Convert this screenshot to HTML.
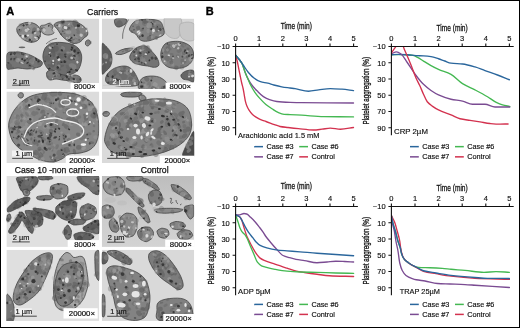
<!DOCTYPE html>
<html><head><meta charset="utf-8"><style>
html,body{margin:0;padding:0;background:#fff;}
body{width:520px;height:328px;overflow:hidden;font-family:"Liberation Sans",sans-serif;}
svg{display:block;will-change:transform;}
</style></head><body>
<svg width="520" height="328" viewBox="0 0 520 328">
<rect x="0" y="0" width="520" height="328" fill="#fff"/>
<defs><linearGradient id="g6" x1="0" y1="0" x2="0" y2="1"><stop offset="0" stop-color="#bdbdbd"/><stop offset="0.5" stop-color="#cbcbcb"/><stop offset="1" stop-color="#d3d3d3"/></linearGradient></defs>
<clipPath id="em0"><rect x="6.4" y="18.6" width="92.9" height="70.4"/></clipPath>
<g clip-path="url(#em0)">
<rect x="6.4" y="18.6" width="92.9" height="70.4" fill="#d8d8d8"/>
<ellipse cx="22" cy="47.3" rx="3.3" ry="0.9" fill="#666"/>
<path d="M46,44 C49,41 53,39 57,38.5" fill="none" stroke="#777" stroke-width="1"/>
<path d="M17.0,28.0C17.5,26.7 19.0,25.4 20.5,24.5C22.0,23.6 24.1,22.8 26.0,22.5C27.9,22.2 30.1,22.3 32.0,22.8C33.9,23.3 36.1,24.2 37.5,25.5C38.9,26.8 39.9,28.7 40.3,30.5C40.7,32.3 40.5,34.8 40.0,36.5C39.5,38.2 38.5,39.8 37.0,40.8C35.5,41.8 33.0,42.3 31.0,42.3C29.0,42.2 26.8,41.4 25.0,40.5C23.2,39.6 21.8,38.3 20.5,37.0C19.2,35.7 18.1,34.0 17.5,32.5C16.9,31.0 16.5,29.3 17.0,28.0Z" fill="#8a8a8a" stroke="#444" stroke-width="1" stroke-opacity="0.8"/>
<path fill="#aaa" opacity=".3" d="M24.4 28.0A2.5 1.2 93 1 0 24.7 23.0A2.5 1.2 93 1 0 24.4 28.0ZM29.0 26.7A1.4 1.2 158 1 0 31.6 25.7A1.4 1.2 158 1 0 29.0 26.7Z"/><path fill="#555" opacity=".3" d="M31.4 41.9A1.6 0.8 61 1 0 29.8 39.1A1.6 0.8 61 1 0 31.4 41.9ZM16.7 32.5A2.9 1.5 147 1 0 21.5 29.4A2.9 1.5 147 1 0 16.7 32.5ZM18.8 25.8A1.8 1.6 148 1 0 21.9 23.9A1.8 1.6 148 1 0 18.8 25.8ZM27.2 30.9A2.1 1.6 131 1 0 29.9 27.7A2.1 1.6 131 1 0 27.2 30.9ZM25.6 38.4A1.5 1.1 142 1 0 27.9 36.6A1.5 1.1 142 1 0 25.6 38.4Z"/><path fill="#555" opacity=".45" d="M30.2 25.1A1.6 1.2 107 1 0 31.1 21.9A1.6 1.2 107 1 0 30.2 25.1ZM40.9 30.9A2.4 1.7 33 1 0 36.9 28.2A2.4 1.7 33 1 0 40.9 30.9ZM33.6 33.3A3.0 2.2 102 1 0 34.8 27.4A3.0 2.2 102 1 0 33.6 33.3Z"/><path fill="#aaa" opacity=".45" d="M21.7 38.0A2.1 1.3 92 1 0 21.9 33.9A2.1 1.3 92 1 0 21.7 38.0ZM22.2 40.1A2.6 1.5 134 1 0 25.8 36.4A2.6 1.5 134 1 0 22.2 40.1ZM28.8 40.8A1.8 1.5 148 1 0 31.9 38.9A1.8 1.5 148 1 0 28.8 40.8ZM16.7 28.5A2.6 1.3 165 1 0 21.7 27.2A2.6 1.3 165 1 0 16.7 28.5ZM32.5 36.2A2.1 1.8 5 1 0 28.4 35.8A2.1 1.8 5 1 0 32.5 36.2Z"/><path fill="#2a2a2a" opacity=".85" d="M29.4 41.3A1.3 1.2 106 1 0 30.2 38.7A1.3 1.2 106 1 0 29.4 41.3ZM24.5 26.0A1.1 0.9 32 1 0 22.7 24.8A1.1 0.9 32 1 0 24.5 26.0ZM37.7 39.3A1.4 1.2 101 1 0 38.2 36.6A1.4 1.2 101 1 0 37.7 39.3ZM19.9 30.1A0.6 0.6 38 1 0 18.9 29.3A0.6 0.6 38 1 0 19.9 30.1ZM24.1 36.6A1.4 1.3 164 1 0 26.8 35.8A1.4 1.3 164 1 0 24.1 36.6Z"/><path fill="#2a2a2a" opacity=".6" d="M40.7 36.7A0.9 0.6 45 1 0 39.3 35.4A0.9 0.6 45 1 0 40.7 36.7ZM20.8 36.1A0.6 0.6 67 1 0 20.3 35.0A0.6 0.6 67 1 0 20.8 36.1ZM32.6 33.7A1.2 1.0 116 1 0 33.6 31.7A1.2 1.0 116 1 0 32.6 33.7ZM27.0 25.5A1.2 0.6 53 1 0 25.6 23.6A1.2 0.6 53 1 0 27.0 25.5ZM26.4 25.5A1.1 0.6 137 1 0 28.1 23.9A1.1 0.6 137 1 0 26.4 25.5ZM31.1 42.4A1.1 0.8 124 1 0 32.4 40.5A1.1 0.8 124 1 0 31.1 42.4ZM40.2 32.8A1.0 0.6 87 1 0 40.1 30.7A1.0 0.6 87 1 0 40.2 32.8ZM33.4 32.8A1.2 0.9 135 1 0 35.1 31.1A1.2 0.9 135 1 0 33.4 32.8ZM37.1 37.1A0.8 0.6 91 1 0 37.1 35.4A0.8 0.6 91 1 0 37.1 37.1Z"/><path fill="#e8e8e8" opacity=".6" d="M33.6 33.7A1.5 1.0 156 1 0 36.4 32.4A1.5 1.0 156 1 0 33.6 33.7ZM37.9 39.7A1.6 1.4 51 1 0 35.9 37.2A1.6 1.4 51 1 0 37.9 39.7ZM27.3 30.2A1.2 1.2 122 1 0 28.6 28.2A1.2 1.2 122 1 0 27.3 30.2ZM38.0 30.7A1.4 1.2 99 1 0 38.4 28.0A1.4 1.2 99 1 0 38.0 30.7ZM27.7 31.4A1.7 1.5 32 1 0 24.8 29.5A1.7 1.5 32 1 0 27.7 31.4ZM28.7 24.0A1.6 1.3 134 1 0 30.9 21.8A1.6 1.3 134 1 0 28.7 24.0Z"/><path fill="#e8e8e8" opacity=".85" d="M28.7 30.1A0.6 0.3 120 1 0 29.4 29.0A0.6 0.3 120 1 0 28.7 30.1ZM22.9 38.0A1.7 1.2 93 1 0 23.1 34.5A1.7 1.2 93 1 0 22.9 38.0ZM36.3 37.8A1.2 0.6 22 1 0 34.1 36.9A1.2 0.6 22 1 0 36.3 37.8ZM26.5 35.8A1.3 1.0 168 1 0 29.1 35.2A1.3 1.0 168 1 0 26.5 35.8Z"/>
<path d="M40.5,26.0C41.2,25.0 43.6,25.4 45.0,25.0C46.4,24.6 47.7,23.3 49.0,23.5C50.3,23.7 52.5,24.9 53.0,26.0C53.5,27.1 51.8,28.8 52.0,30.0C52.2,31.2 54.5,32.2 54.0,33.0C53.5,33.8 50.7,34.8 49.0,35.0C47.3,35.2 45.3,34.7 44.0,34.0C42.7,33.3 41.6,32.3 41.0,31.0C40.4,29.7 39.8,27.0 40.5,26.0Z" fill="#a2a2a2" stroke="#444" stroke-width="1" stroke-opacity="0.8"/>
<path fill="#555" opacity=".3" d="M52.0 28.0A3.2 1.8 64 1 0 49.2 22.2A3.2 1.8 64 1 0 52.0 28.0Z"/><path fill="#aaa" opacity=".45" d="M45.7 30.7A2.7 1.7 33 1 0 41.1 27.8A2.7 1.7 33 1 0 45.7 30.7Z"/><path fill="#aaa" opacity=".3" d="M50.6 33.1A2.8 2.1 136 1 0 54.7 29.2A2.8 2.1 136 1 0 50.6 33.1ZM44.9 31.2A2.9 2.6 38 1 0 40.2 27.6A2.9 2.6 38 1 0 44.9 31.2Z"/><path fill="#555" opacity=".45" d="M45.2 30.1A2.7 2.0 27 1 0 40.5 27.7A2.7 2.0 27 1 0 45.2 30.1Z"/><path fill="#2a2a2a" opacity=".6" d="M41.6 29.3A0.6 0.6 113 1 0 42.1 28.1A0.6 0.6 113 1 0 41.6 29.3Z"/><path fill="#2a2a2a" opacity=".85" d="M48.1 26.5A0.8 0.6 129 1 0 49.2 25.1A0.8 0.6 129 1 0 48.1 26.5Z"/><path fill="#e8e8e8" opacity=".6" d="M43.5 31.6A1.7 1.6 106 1 0 44.5 28.3A1.7 1.6 106 1 0 43.5 31.6Z"/>
<path d="M54.0,25.0C54.0,23.7 56.3,22.6 58.0,22.0C59.7,21.4 62.0,21.7 64.0,21.5C66.0,21.3 68.0,20.9 70.0,21.0C72.0,21.1 74.0,21.3 76.0,22.0C78.0,22.7 80.2,23.7 82.0,25.0C83.8,26.3 86.1,28.3 87.0,30.0C87.9,31.7 88.0,33.7 87.5,35.0C87.0,36.3 85.2,36.8 84.0,38.0C82.8,39.2 81.7,41.1 80.0,42.0C78.3,42.9 76.0,43.7 74.0,43.5C72.0,43.3 70.0,42.2 68.0,41.0C66.0,39.8 63.7,37.8 62.0,36.0C60.3,34.2 59.3,31.8 58.0,30.0C56.7,28.2 54.0,26.3 54.0,25.0Z" fill="#828282" stroke="#444" stroke-width="1" stroke-opacity="0.8"/>
<path fill="#555" opacity=".3" d="M55.1 26.8A1.3 1.1 164 1 0 57.7 26.0A1.3 1.1 164 1 0 55.1 26.8ZM75.6 27.1A3.0 2.9 101 1 0 76.7 21.3A3.0 2.9 101 1 0 75.6 27.1ZM78.7 31.5A2.2 1.4 58 1 0 76.4 27.8A2.2 1.4 58 1 0 78.7 31.5ZM71.5 29.1A2.3 2.2 11 1 0 66.9 28.2A2.3 2.2 11 1 0 71.5 29.1ZM72.5 27.5A1.4 0.8 51 1 0 70.8 25.3A1.4 0.8 51 1 0 72.5 27.5ZM86.0 37.3A2.3 1.3 69 1 0 84.4 33.0A2.3 1.3 69 1 0 86.0 37.3ZM77.8 28.4A1.7 1.0 40 1 0 75.2 26.3A1.7 1.0 40 1 0 77.8 28.4ZM77.0 33.5A1.8 1.4 131 1 0 79.3 30.8A1.8 1.4 131 1 0 77.0 33.5ZM76.1 41.4A2.6 2.1 7 1 0 71.0 40.8A2.6 2.1 7 1 0 76.1 41.4ZM84.9 31.2A2.1 1.0 125 1 0 87.3 27.8A2.1 1.0 125 1 0 84.9 31.2Z"/><path fill="#555" opacity=".45" d="M75.6 28.5A2.6 2.6 107 1 0 77.1 23.5A2.6 2.6 107 1 0 75.6 28.5ZM60.2 22.2A2.8 1.7 173 1 0 65.6 21.6A2.8 1.7 173 1 0 60.2 22.2ZM67.7 27.5A2.8 1.5 4 1 0 62.2 27.1A2.8 1.5 4 1 0 67.7 27.5ZM76.4 39.7A1.4 1.3 31 1 0 74.1 38.3A1.4 1.3 31 1 0 76.4 39.7ZM68.0 31.0A3.2 2.0 55 1 0 64.4 25.8A3.2 2.0 55 1 0 68.0 31.0ZM63.3 25.0A2.0 0.9 77 1 0 62.4 21.1A2.0 0.9 77 1 0 63.3 25.0ZM75.5 26.0A3.1 2.9 83 1 0 74.7 19.8A3.1 2.9 83 1 0 75.5 26.0Z"/><path fill="#aaa" opacity=".45" d="M59.6 30.6A2.6 1.2 112 1 0 61.5 25.7A2.6 1.2 112 1 0 59.6 30.6ZM79.9 26.8A1.5 1.4 179 1 0 82.9 26.8A1.5 1.4 179 1 0 79.9 26.8ZM65.6 32.3A2.9 1.9 176 1 0 71.3 31.9A2.9 1.9 176 1 0 65.6 32.3ZM73.7 42.4A2.1 1.0 129 1 0 76.2 39.2A2.1 1.0 129 1 0 73.7 42.4Z"/><path fill="#aaa" opacity=".3" d="M64.5 22.7A1.7 0.8 131 1 0 66.7 20.1A1.7 0.8 131 1 0 64.5 22.7ZM60.8 27.7A1.6 1.5 103 1 0 61.6 24.6A1.6 1.5 103 1 0 60.8 27.7ZM68.8 32.5A2.2 1.2 23 1 0 64.8 30.8A2.2 1.2 23 1 0 68.8 32.5ZM72.2 37.8A2.8 1.5 175 1 0 77.8 37.3A2.8 1.5 175 1 0 72.2 37.8Z"/><path fill="#2a2a2a" opacity=".6" d="M62.2 31.4A0.7 0.6 168 1 0 63.5 31.1A0.7 0.6 168 1 0 62.2 31.4ZM63.7 23.2A1.2 0.7 84 1 0 63.5 20.9A1.2 0.7 84 1 0 63.7 23.2ZM79.3 40.6A0.7 0.7 74 1 0 79.0 39.2A0.7 0.7 74 1 0 79.3 40.6ZM62.4 23.4A1.0 0.9 92 1 0 62.5 21.5A1.0 0.9 92 1 0 62.4 23.4Z"/><path fill="#2a2a2a" opacity=".85" d="M72.1 38.7A1.0 0.9 60 1 0 71.1 36.9A1.0 0.9 60 1 0 72.1 38.7ZM78.3 26.9A1.3 1.3 97 1 0 78.6 24.4A1.3 1.3 97 1 0 78.3 26.9ZM63.6 33.9A0.6 0.3 172 1 0 64.8 33.7A0.6 0.3 172 1 0 63.6 33.9ZM56.8 26.8A1.0 0.9 118 1 0 57.8 25.0A1.0 0.9 118 1 0 56.8 26.8ZM71.0 38.8A1.5 1.2 21 1 0 68.2 37.7A1.5 1.2 21 1 0 71.0 38.8ZM69.1 40.9A1.5 1.1 99 1 0 69.6 38.0A1.5 1.1 99 1 0 69.1 40.9ZM61.7 34.5A0.7 0.6 33 1 0 60.4 33.7A0.7 0.6 33 1 0 61.7 34.5ZM74.7 35.9A0.9 0.5 59 1 0 73.8 34.5A0.9 0.5 59 1 0 74.7 35.9ZM69.7 40.8A1.0 0.6 174 1 0 71.6 40.6A1.0 0.6 174 1 0 69.7 40.8ZM69.7 28.2A0.7 0.5 30 1 0 68.5 27.4A0.7 0.5 30 1 0 69.7 28.2Z"/><path fill="#e8e8e8" opacity=".6" d="M82.9 27.9A0.7 0.5 63 1 0 82.3 26.7A0.7 0.5 63 1 0 82.9 27.9ZM82.8 35.8A1.7 1.6 20 1 0 79.6 34.6A1.7 1.6 20 1 0 82.8 35.8ZM68.1 38.8A1.4 0.8 140 1 0 70.2 37.1A1.4 0.8 140 1 0 68.1 38.8ZM74.8 28.1A1.3 0.8 164 1 0 77.2 27.4A1.3 0.8 164 1 0 74.8 28.1ZM58.7 27.2A1.7 1.2 115 1 0 60.1 24.1A1.7 1.2 115 1 0 58.7 27.2ZM56.8 27.3A0.9 0.7 105 1 0 57.3 25.5A0.9 0.7 105 1 0 56.8 27.3ZM66.3 38.5A0.9 0.5 127 1 0 67.3 37.1A0.9 0.5 127 1 0 66.3 38.5Z"/><path fill="#e8e8e8" opacity=".85" d="M87.5 30.9A1.0 0.9 7 1 0 85.6 30.7A1.0 0.9 7 1 0 87.5 30.9ZM65.2 29.1A1.5 1.5 103 1 0 65.8 26.3A1.5 1.5 103 1 0 65.2 29.1ZM68.4 24.7A0.8 0.4 142 1 0 69.7 23.6A0.8 0.4 142 1 0 68.4 24.7Z"/>
<path d="M43.0,55.0C43.3,52.5 44.3,49.0 46.0,47.0C47.7,45.0 50.3,43.8 53.0,43.0C55.7,42.2 59.0,42.3 62.0,42.5C65.0,42.7 68.3,43.1 71.0,44.0C73.7,44.9 76.2,46.2 78.0,48.0C79.8,49.8 81.0,52.5 81.5,55.0C82.0,57.5 81.6,60.5 81.0,63.0C80.4,65.5 79.5,68.2 78.0,70.0C76.5,71.8 74.3,73.1 72.0,74.0C69.7,74.9 66.8,75.5 64.0,75.5C61.2,75.5 57.7,75.1 55.0,74.0C52.3,72.9 49.8,71.0 48.0,69.0C46.2,67.0 44.8,64.3 44.0,62.0C43.2,59.7 42.7,57.5 43.0,55.0Z" fill="#6e6e6e" stroke="#444" stroke-width="1" stroke-opacity="0.8"/>
<path fill="#555" opacity=".3" d="M48.7 61.4A2.5 2.3 69 1 0 47.0 56.8A2.5 2.3 69 1 0 48.7 61.4ZM79.6 56.5A2.5 1.7 32 1 0 75.4 53.9A2.5 1.7 32 1 0 79.6 56.5ZM69.7 68.9A2.1 1.6 32 1 0 66.1 66.6A2.1 1.6 32 1 0 69.7 68.9ZM67.3 73.7A2.2 1.2 105 1 0 68.4 69.6A2.2 1.2 105 1 0 67.3 73.7ZM63.2 51.6A2.7 1.5 67 1 0 61.0 46.6A2.7 1.5 67 1 0 63.2 51.6ZM70.5 54.8A3.1 2.2 124 1 0 74.0 49.7A3.1 2.2 124 1 0 70.5 54.8ZM60.9 67.0A3.1 1.6 54 1 0 57.2 61.9A3.1 1.6 54 1 0 60.9 67.0ZM73.9 71.3A3.2 2.2 20 1 0 67.9 69.1A3.2 2.2 20 1 0 73.9 71.3ZM55.8 73.4A1.6 1.0 161 1 0 58.8 72.3A1.6 1.0 161 1 0 55.8 73.4ZM51.4 46.8A2.4 1.6 67 1 0 49.6 42.4A2.4 1.6 67 1 0 51.4 46.8ZM54.9 52.6A1.7 1.0 47 1 0 52.6 50.1A1.7 1.0 47 1 0 54.9 52.6ZM51.9 50.5A3.0 2.3 101 1 0 53.0 44.6A3.0 2.3 101 1 0 51.9 50.5ZM47.7 60.9A2.8 2.6 75 1 0 46.2 55.4A2.8 2.6 75 1 0 47.7 60.9ZM51.8 46.6A2.4 2.2 95 1 0 52.2 41.8A2.4 2.2 95 1 0 51.8 46.6ZM69.4 66.3A1.9 0.9 11 1 0 65.7 65.6A1.9 0.9 11 1 0 69.4 66.3ZM51.1 53.3A2.4 1.9 83 1 0 50.6 48.5A2.4 1.9 83 1 0 51.1 53.3ZM58.9 56.6A2.8 2.3 167 1 0 64.3 55.3A2.8 2.3 167 1 0 58.9 56.6ZM54.7 63.1A1.9 1.3 100 1 0 55.4 59.3A1.9 1.3 100 1 0 54.7 63.1Z"/><path fill="#555" opacity=".45" d="M76.5 60.3A2.4 1.1 114 1 0 78.5 55.9A2.4 1.1 114 1 0 76.5 60.3ZM73.1 47.4A1.8 1.7 66 1 0 71.7 44.1A1.8 1.7 66 1 0 73.1 47.4ZM51.8 63.5A1.2 0.8 80 1 0 51.4 61.1A1.2 0.8 80 1 0 51.8 63.5ZM52.0 67.4A3.1 1.8 107 1 0 53.8 61.6A3.1 1.8 107 1 0 52.0 67.4ZM52.7 49.2A3.1 2.6 170 1 0 58.7 48.1A3.1 2.6 170 1 0 52.7 49.2ZM53.7 57.2A3.1 1.6 91 1 0 53.8 51.0A3.1 1.6 91 1 0 53.7 57.2ZM61.4 70.0A2.7 1.3 16 1 0 56.2 68.5A2.7 1.3 16 1 0 61.4 70.0ZM72.9 59.4A2.8 2.4 33 1 0 68.2 56.4A2.8 2.4 33 1 0 72.9 59.4ZM60.2 66.7A2.1 1.2 158 1 0 64.1 65.1A2.1 1.2 158 1 0 60.2 66.7ZM77.9 52.5A2.3 2.0 75 1 0 76.7 48.1A2.3 2.0 75 1 0 77.9 52.5ZM54.9 51.0A2.3 1.8 9 1 0 50.5 50.3A2.3 1.8 9 1 0 54.9 51.0ZM56.9 56.3A2.4 1.2 140 1 0 60.6 53.2A2.4 1.2 140 1 0 56.9 56.3ZM51.3 65.9A2.0 1.2 13 1 0 47.3 65.0A2.0 1.2 13 1 0 51.3 65.9Z"/><path fill="#aaa" opacity=".3" d="M51.1 46.1A1.5 1.1 179 1 0 54.1 46.1A1.5 1.1 179 1 0 51.1 46.1ZM57.7 56.5A1.2 0.7 52 1 0 56.2 54.6A1.2 0.7 52 1 0 57.7 56.5ZM74.8 65.6A3.0 1.9 6 1 0 68.7 64.9A3.0 1.9 6 1 0 74.8 65.6ZM74.2 69.7A2.8 2.5 83 1 0 73.6 64.0A2.8 2.5 83 1 0 74.2 69.7ZM75.7 60.4A2.8 2.2 100 1 0 76.6 55.0A2.8 2.2 100 1 0 75.7 60.4ZM64.9 49.5A2.4 2.1 27 1 0 60.6 47.3A2.4 2.1 27 1 0 64.9 49.5Z"/><path fill="#aaa" opacity=".45" d="M66.4 52.6A1.5 0.9 178 1 0 69.3 52.5A1.5 0.9 178 1 0 66.4 52.6ZM71.3 53.1A1.2 0.9 20 1 0 69.0 52.2A1.2 0.9 20 1 0 71.3 53.1ZM60.4 66.7A1.6 1.1 28 1 0 57.6 65.2A1.6 1.1 28 1 0 60.4 66.7ZM74.4 54.8A2.8 1.4 50 1 0 70.8 50.5A2.8 1.4 50 1 0 74.4 54.8ZM73.0 51.5A1.3 0.6 41 1 0 71.0 49.8A1.3 0.6 41 1 0 73.0 51.5Z"/><path fill="#2a2a2a" opacity=".85" d="M71.6 49.5A0.6 0.6 29 1 0 70.5 48.9A0.6 0.6 29 1 0 71.6 49.5ZM67.2 73.1A0.7 0.6 129 1 0 68.1 72.0A0.7 0.6 129 1 0 67.2 73.1ZM58.9 68.1A1.3 1.2 32 1 0 56.7 66.7A1.3 1.2 32 1 0 58.9 68.1ZM68.4 72.4A1.2 1.1 157 1 0 70.6 71.4A1.2 1.1 157 1 0 68.4 72.4ZM75.1 70.4A0.8 0.5 132 1 0 76.1 69.3A0.8 0.5 132 1 0 75.1 70.4ZM78.1 70.9A1.2 1.0 30 1 0 76.0 69.7A1.2 1.0 30 1 0 78.1 70.9ZM58.3 58.9A1.4 1.2 78 1 0 57.7 56.2A1.4 1.2 78 1 0 58.3 58.9ZM66.3 57.4A1.2 0.9 45 1 0 64.6 55.7A1.2 0.9 45 1 0 66.3 57.4ZM62.8 51.2A1.3 1.1 45 1 0 60.9 49.4A1.3 1.1 45 1 0 62.8 51.2ZM74.8 56.0A0.7 0.4 23 1 0 73.6 55.5A0.7 0.4 23 1 0 74.8 56.0ZM77.3 53.1A1.2 0.7 167 1 0 79.7 52.6A1.2 0.7 167 1 0 77.3 53.1ZM71.4 70.1A0.8 0.8 73 1 0 71.0 68.7A0.8 0.8 73 1 0 71.4 70.1ZM48.0 69.1A1.4 0.8 156 1 0 50.7 67.9A1.4 0.8 156 1 0 48.0 69.1ZM73.3 48.6A1.4 0.9 36 1 0 71.0 46.9A1.4 0.9 36 1 0 73.3 48.6ZM62.6 62.2A1.2 0.7 9 1 0 60.3 61.9A1.2 0.7 9 1 0 62.6 62.2ZM50.5 57.0A1.2 0.7 96 1 0 50.8 54.6A1.2 0.7 96 1 0 50.5 57.0ZM49.2 69.0A0.7 0.5 115 1 0 49.8 67.8A0.7 0.5 115 1 0 49.2 69.0ZM64.3 63.0A1.4 0.8 95 1 0 64.5 60.3A1.4 0.8 95 1 0 64.3 63.0ZM75.7 50.9A1.2 1.2 0 1 0 73.4 50.9A1.2 1.2 0 1 0 75.7 50.9ZM71.2 50.5A0.9 0.7 131 1 0 72.3 49.2A0.9 0.7 131 1 0 71.2 50.5ZM66.1 62.4A0.8 0.6 40 1 0 64.9 61.4A0.8 0.6 40 1 0 66.1 62.4ZM52.2 48.1A0.7 0.6 102 1 0 52.5 46.8A0.7 0.6 102 1 0 52.2 48.1Z"/><path fill="#2a2a2a" opacity=".6" d="M75.8 56.7A1.4 1.0 33 1 0 73.4 55.1A1.4 1.0 33 1 0 75.8 56.7ZM50.3 54.3A0.7 0.4 27 1 0 48.9 53.6A0.7 0.4 27 1 0 50.3 54.3ZM77.1 53.3A1.1 0.9 158 1 0 79.2 52.4A1.1 0.9 158 1 0 77.1 53.3ZM49.7 54.5A0.7 0.7 10 1 0 48.3 54.2A0.7 0.7 10 1 0 49.7 54.5ZM75.0 59.6A1.2 0.6 21 1 0 72.8 58.7A1.2 0.6 21 1 0 75.0 59.6ZM64.0 54.9A1.3 0.9 157 1 0 66.4 53.9A1.3 0.9 157 1 0 64.0 54.9ZM58.1 44.2A1.0 0.8 5 1 0 56.0 44.0A1.0 0.8 5 1 0 58.1 44.2ZM44.9 62.1A0.9 0.7 105 1 0 45.3 60.4A0.9 0.7 105 1 0 44.9 62.1Z"/><path fill="#e8e8e8" opacity=".85" d="M78.0 63.3A1.3 1.0 63 1 0 76.8 61.0A1.3 1.0 63 1 0 78.0 63.3ZM57.7 60.2A1.4 1.1 156 1 0 60.2 59.0A1.4 1.1 156 1 0 57.7 60.2ZM49.0 53.4A1.0 0.5 137 1 0 50.4 52.1A1.0 0.5 137 1 0 49.0 53.4ZM53.8 63.9A0.7 0.7 13 1 0 52.3 63.6A0.7 0.7 13 1 0 53.8 63.9ZM53.5 61.9A1.1 1.0 75 1 0 52.9 59.7A1.1 1.0 75 1 0 53.5 61.9Z"/><path fill="#e8e8e8" opacity=".6" d="M51.5 48.7A1.7 0.9 36 1 0 48.8 46.8A1.7 0.9 36 1 0 51.5 48.7ZM73.0 58.5A1.5 1.0 26 1 0 70.4 57.2A1.5 1.0 26 1 0 73.0 58.5ZM68.3 74.9A0.9 0.8 43 1 0 67.1 73.8A0.9 0.8 43 1 0 68.3 74.9Z"/>
<path d="M47.0,72.0C47.8,70.8 49.8,69.7 52.0,70.0C54.2,70.3 57.3,73.0 60.0,74.0C62.7,75.0 65.5,75.8 68.0,76.0C70.5,76.2 73.0,74.8 75.0,75.0C77.0,75.2 79.0,76.0 80.0,77.0C81.0,78.0 81.5,80.0 81.0,81.0C80.5,82.0 78.8,83.0 77.0,83.0C75.2,83.0 72.5,81.5 70.0,81.0C67.5,80.5 64.3,80.3 62.0,80.0C59.7,79.7 58.0,79.0 56.0,79.0C54.0,79.0 51.5,80.3 50.0,80.0C48.5,79.7 47.5,78.3 47.0,77.0C46.5,75.7 46.2,73.2 47.0,72.0Z" fill="#7a7a7a" stroke="#444" stroke-width="1" stroke-opacity="0.8"/>
<path fill="#aaa" opacity=".45" d="M57.6 75.1A2.7 2.6 49 1 0 54.1 71.0A2.7 2.6 49 1 0 57.6 75.1ZM71.9 82.8A2.1 1.8 54 1 0 69.5 79.5A2.1 1.8 54 1 0 71.9 82.8ZM77.5 82.0A3.0 1.5 27 1 0 72.1 79.3A3.0 1.5 27 1 0 77.5 82.0Z"/><path fill="#555" opacity=".45" d="M66.7 80.8A2.5 2.5 135 1 0 70.2 77.2A2.5 2.5 135 1 0 66.7 80.8ZM72.2 80.3A2.6 2.2 51 1 0 68.9 76.2A2.6 2.2 51 1 0 72.2 80.3ZM61.9 78.5A2.8 1.5 131 1 0 65.5 74.3A2.8 1.5 131 1 0 61.9 78.5Z"/><path fill="#555" opacity=".3" d="M62.4 78.7A2.3 1.3 28 1 0 58.3 76.5A2.3 1.3 28 1 0 62.4 78.7ZM57.8 76.7A1.2 0.7 94 1 0 57.9 74.3A1.2 0.7 94 1 0 57.8 76.7ZM77.3 82.3A2.4 1.7 105 1 0 78.6 77.7A2.4 1.7 105 1 0 77.3 82.3ZM49.3 77.3A1.4 1.0 23 1 0 46.8 76.2A1.4 1.0 23 1 0 49.3 77.3ZM61.9 78.6A1.8 1.5 89 1 0 61.8 75.0A1.8 1.5 89 1 0 61.9 78.6ZM55.2 74.9A2.6 1.9 125 1 0 58.1 70.7A2.6 1.9 125 1 0 55.2 74.9Z"/><path fill="#aaa" opacity=".3" d="M54.2 73.1A1.3 1.2 161 1 0 56.6 72.2A1.3 1.2 161 1 0 54.2 73.1ZM68.9 77.6A1.5 1.3 75 1 0 68.1 74.8A1.5 1.3 75 1 0 68.9 77.6Z"/><path fill="#2a2a2a" opacity=".85" d="M75.0 79.6A1.3 1.1 24 1 0 72.6 78.5A1.3 1.1 24 1 0 75.0 79.6ZM52.7 73.9A1.4 1.1 161 1 0 55.3 73.0A1.4 1.1 161 1 0 52.7 73.9ZM67.8 77.7A1.4 1.0 43 1 0 65.8 75.8A1.4 1.0 43 1 0 67.8 77.7ZM62.4 79.7A0.8 0.5 118 1 0 63.1 78.2A0.8 0.5 118 1 0 62.4 79.7Z"/><path fill="#2a2a2a" opacity=".6" d="M60.5 76.5A1.4 0.8 95 1 0 60.8 73.7A1.4 0.8 95 1 0 60.5 76.5ZM55.0 77.1A1.1 0.9 89 1 0 54.9 74.9A1.1 0.9 89 1 0 55.0 77.1ZM69.7 79.7A1.1 0.7 39 1 0 68.0 78.4A1.1 0.7 39 1 0 69.7 79.7ZM80.3 80.5A1.1 0.8 83 1 0 80.0 78.3A1.1 0.8 83 1 0 80.3 80.5Z"/><path fill="#e8e8e8" opacity=".6" d="M52.8 79.4A0.8 0.4 77 1 0 52.4 77.7A0.8 0.4 77 1 0 52.8 79.4ZM72.2 76.4A0.8 0.7 71 1 0 71.7 74.9A0.8 0.7 71 1 0 72.2 76.4Z"/><path fill="#e8e8e8" opacity=".85" d="M53.4 75.1A0.6 0.4 177 1 0 54.7 75.0A0.6 0.4 177 1 0 53.4 75.1Z"/>
<path d="M7.0,54.0C8.2,51.3 11.5,52.2 14.0,52.0C16.5,51.8 19.3,52.0 22.0,52.5C24.7,53.0 27.7,54.1 30.0,55.0C32.3,55.9 34.0,56.8 36.0,58.0C38.0,59.2 41.2,60.7 42.0,62.0C42.8,63.3 42.2,65.0 41.0,66.0C39.8,67.0 37.3,67.5 35.0,68.0C32.7,68.5 29.8,69.0 27.0,69.0C24.2,69.0 20.7,68.0 18.0,68.0C15.3,68.0 12.8,69.0 11.0,69.0C9.2,69.0 7.7,70.5 7.0,68.0C6.3,65.5 5.8,56.7 7.0,54.0Z" fill="#747474" stroke="#444" stroke-width="1" stroke-opacity="0.8"/>
<path fill="#555" opacity=".3" d="M16.8 54.0A1.7 1.5 110 1 0 18.0 50.8A1.7 1.5 110 1 0 16.8 54.0ZM18.9 54.6A1.7 1.2 107 1 0 20.0 51.3A1.7 1.2 107 1 0 18.9 54.6ZM39.6 65.2A2.5 2.0 77 1 0 38.5 60.2A2.5 2.0 77 1 0 39.6 65.2ZM28.0 60.8A2.8 2.5 167 1 0 33.5 59.6A2.8 2.5 167 1 0 28.0 60.8Z"/><path fill="#aaa" opacity=".3" d="M29.1 62.3A2.5 2.3 173 1 0 34.0 61.7A2.5 2.3 173 1 0 29.1 62.3ZM12.7 56.1A2.1 1.2 107 1 0 14.0 52.1A2.1 1.2 107 1 0 12.7 56.1ZM23.0 62.4A3.1 1.5 41 1 0 18.2 58.3A3.1 1.5 41 1 0 23.0 62.4ZM30.0 61.0A3.2 1.8 157 1 0 35.9 58.5A3.2 1.8 157 1 0 30.0 61.0Z"/><path fill="#555" opacity=".45" d="M14.3 61.2A2.6 1.4 116 1 0 16.6 56.4A2.6 1.4 116 1 0 14.3 61.2ZM9.9 66.7A2.2 1.8 2 1 0 5.5 66.5A2.2 1.8 2 1 0 9.9 66.7ZM13.9 61.3A1.2 1.1 105 1 0 14.5 58.9A1.2 1.1 105 1 0 13.9 61.3ZM34.3 69.8A2.3 1.3 54 1 0 31.6 66.2A2.3 1.3 54 1 0 34.3 69.8ZM11.5 68.2A1.3 1.2 164 1 0 14.0 67.4A1.3 1.2 164 1 0 11.5 68.2ZM29.5 67.4A2.1 1.9 96 1 0 30.0 63.1A2.1 1.9 96 1 0 29.5 67.4ZM6.1 67.0A3.0 2.7 162 1 0 11.9 65.1A3.0 2.7 162 1 0 6.1 67.0ZM25.9 63.9A1.6 0.8 155 1 0 28.9 62.5A1.6 0.8 155 1 0 25.9 63.9Z"/><path fill="#aaa" opacity=".45" d="M30.9 69.2A1.6 1.0 138 1 0 33.3 67.1A1.6 1.0 138 1 0 30.9 69.2ZM25.2 58.6A3.1 2.0 119 1 0 28.2 53.1A3.1 2.0 119 1 0 25.2 58.6ZM19.2 61.4A2.1 1.6 39 1 0 16.0 58.9A2.1 1.6 39 1 0 19.2 61.4Z"/><path fill="#2a2a2a" opacity=".85" d="M11.2 54.9A0.8 0.7 39 1 0 9.9 53.9A0.8 0.7 39 1 0 11.2 54.9ZM37.4 61.4A1.2 0.8 177 1 0 39.7 61.3A1.2 0.8 177 1 0 37.4 61.4ZM36.3 61.1A1.1 0.9 95 1 0 36.5 58.9A1.1 0.9 95 1 0 36.3 61.1ZM20.2 63.2A0.6 0.3 24 1 0 19.0 62.7A0.6 0.3 24 1 0 20.2 63.2ZM23.5 60.7A1.4 0.7 160 1 0 26.2 59.8A1.4 0.7 160 1 0 23.5 60.7ZM22.2 60.3A1.1 1.0 90 1 0 22.2 58.1A1.1 1.0 90 1 0 22.2 60.3ZM36.6 59.7A1.1 0.7 52 1 0 35.3 58.0A1.1 0.7 52 1 0 36.6 59.7ZM30.7 65.9A0.9 0.6 32 1 0 29.1 65.0A0.9 0.6 32 1 0 30.7 65.9ZM26.5 63.6A1.3 0.7 139 1 0 28.5 61.9A1.3 0.7 139 1 0 26.5 63.6ZM26.5 59.1A0.7 0.4 155 1 0 27.7 58.5A0.7 0.4 155 1 0 26.5 59.1Z"/><path fill="#2a2a2a" opacity=".6" d="M13.2 59.0A1.1 0.9 171 1 0 15.4 58.7A1.1 0.9 171 1 0 13.2 59.0ZM13.4 54.2A1.4 1.1 142 1 0 15.5 52.5A1.4 1.1 142 1 0 13.4 54.2ZM10.4 60.3A1.3 1.0 123 1 0 11.9 58.0A1.3 1.0 123 1 0 10.4 60.3ZM24.1 55.1A1.0 0.8 41 1 0 22.6 53.8A1.0 0.8 41 1 0 24.1 55.1ZM11.8 54.7A1.2 0.8 72 1 0 11.1 52.5A1.2 0.8 72 1 0 11.8 54.7ZM25.1 62.0A0.9 0.5 54 1 0 24.0 60.5A0.9 0.5 54 1 0 25.1 62.0ZM9.5 63.0A1.2 0.7 9 1 0 7.2 62.6A1.2 0.7 9 1 0 9.5 63.0ZM22.0 55.1A1.4 0.7 79 1 0 21.5 52.3A1.4 0.7 79 1 0 22.0 55.1Z"/><path fill="#e8e8e8" opacity=".85" d="M27.6 56.5A1.0 0.7 5 1 0 25.7 56.3A1.0 0.7 5 1 0 27.6 56.5Z"/><path fill="#e8e8e8" opacity=".6" d="M23.6 63.8A1.7 0.8 30 1 0 20.6 62.0A1.7 0.8 30 1 0 23.6 63.8Z"/>
<path d="M86.0,41.0C86.6,40.2 88.2,39.7 89.0,40.0C89.8,40.3 90.7,42.0 90.5,43.0C90.3,44.0 88.8,45.8 88.0,46.0C87.2,46.2 85.8,45.3 85.5,44.5C85.2,43.7 85.4,41.8 86.0,41.0Z" fill="#8a8a8a" stroke="#444" stroke-width="1" stroke-opacity="0.8"/>
<path fill="#555" opacity=".3" d="M86.8 42.8A2.6 1.7 174 1 0 91.9 42.3A2.6 1.7 174 1 0 86.8 42.8Z"/>
</g>
<clipPath id="em1"><rect x="101.8" y="18.6" width="92.4" height="70.4"/></clipPath>
<g clip-path="url(#em1)">
<rect x="101.8" y="18.6" width="92.4" height="70.4" fill="#d8d8d8"/>
<path d="M164,18.6 L181,18.6 C183,25 182,33 178,38 C172,40 166,36 164,30Z" fill="#c8c8c8" stroke="#b0b0b0" stroke-width="0.8"/>
<path d="M180,24 C186,21 192,22 194.2,24 L194.2,40 C190,42 184,41 181,37 C179,33 179,28 180,24Z" fill="#c8c8c8" stroke="#b0b0b0" stroke-width="0.8"/>
<path d="M128.5,19.5 C125,25 122,31 122.6,38.75" fill="none" stroke="#7a7a7a" stroke-width="1.1"/>
<path d="M115.4,19.0C117.2,18.0 124.4,18.2 126.0,19.0C127.6,19.8 126.2,22.7 125.0,24.0C123.8,25.3 120.6,26.8 119.0,27.0C117.4,27.2 116.0,26.3 115.4,25.0C114.8,23.7 113.6,20.0 115.4,19.0Z" fill="#777777" stroke="#444" stroke-width="1" stroke-opacity="0.8"/>
<path fill="#555" opacity=".45" d="M117.1 25.7A3.1 3.0 140 1 0 121.9 21.8A3.1 3.0 140 1 0 117.1 25.7ZM118.1 24.2A1.6 0.9 1 1 0 114.9 24.1A1.6 0.9 1 1 0 118.1 24.2Z"/>
<path d="M129.7,28.0C130.5,26.2 132.6,22.4 135.6,21.0C138.6,19.6 143.5,19.3 147.5,19.3C151.5,19.3 156.8,19.7 159.4,21.0C162.0,22.3 162.2,24.7 163.0,26.9C163.8,29.1 164.8,32.2 164.0,34.0C163.2,35.8 160.9,36.4 158.2,37.6C155.4,38.8 150.5,40.7 147.5,41.1C144.5,41.5 142.4,41.2 140.4,40.0C138.4,38.8 137.2,35.4 135.6,34.0C134.0,32.6 131.9,32.6 130.9,31.6C129.9,30.6 128.9,29.8 129.7,28.0Z" fill="#828282" stroke="#444" stroke-width="1" stroke-opacity="0.8"/>
<path fill="#aaa" opacity=".3" d="M136.3 23.9A2.1 1.3 115 1 0 138.1 20.0A2.1 1.3 115 1 0 136.3 23.9ZM156.1 23.9A1.3 1.1 21 1 0 153.6 22.9A1.3 1.1 21 1 0 156.1 23.9ZM151.3 38.2A1.4 0.8 124 1 0 152.8 36.0A1.4 0.8 124 1 0 151.3 38.2ZM148.4 33.2A2.2 1.4 79 1 0 147.6 28.9A2.2 1.4 79 1 0 148.4 33.2ZM149.5 27.1A2.9 1.8 48 1 0 145.7 22.8A2.9 1.8 48 1 0 149.5 27.1Z"/><path fill="#555" opacity=".3" d="M141.9 31.8A2.2 1.8 8 1 0 137.6 31.1A2.2 1.8 8 1 0 141.9 31.8ZM153.1 28.1A3.1 2.6 37 1 0 148.1 24.3A3.1 2.6 37 1 0 153.1 28.1ZM150.2 36.2A2.1 1.2 98 1 0 150.8 32.0A2.1 1.2 98 1 0 150.2 36.2ZM150.3 27.5A2.8 1.9 65 1 0 148.0 22.5A2.8 1.9 65 1 0 150.3 27.5ZM161.8 27.1A3.2 2.1 8 1 0 155.5 26.2A3.2 2.1 8 1 0 161.8 27.1ZM148.2 23.3A3.1 3.1 9 1 0 142.0 22.3A3.1 3.1 9 1 0 148.2 23.3Z"/><path fill="#555" opacity=".45" d="M158.0 32.3A2.8 1.9 74 1 0 156.4 27.0A2.8 1.9 74 1 0 158.0 32.3ZM138.7 29.6A2.0 1.7 72 1 0 137.5 25.9A2.0 1.7 72 1 0 138.7 29.6ZM154.7 27.3A1.7 0.9 36 1 0 151.9 25.3A1.7 0.9 36 1 0 154.7 27.3ZM143.1 22.7A2.8 2.5 148 1 0 147.9 19.7A2.8 2.5 148 1 0 143.1 22.7ZM157.9 38.7A1.7 1.6 27 1 0 154.9 37.2A1.7 1.6 27 1 0 157.9 38.7ZM142.9 30.7A1.4 0.9 71 1 0 142.0 28.1A1.4 0.9 71 1 0 142.9 30.7ZM150.7 39.3A2.1 2.1 30 1 0 147.0 37.2A2.1 2.1 30 1 0 150.7 39.3ZM155.2 22.6A1.8 1.1 46 1 0 152.7 19.9A1.8 1.1 46 1 0 155.2 22.6ZM133.0 31.7A1.3 1.2 14 1 0 130.5 31.0A1.3 1.2 14 1 0 133.0 31.7Z"/><path fill="#aaa" opacity=".45" d="M137.0 33.9A2.5 2.2 155 1 0 141.6 31.8A2.5 2.2 155 1 0 137.0 33.9ZM149.4 28.2A2.9 2.6 88 1 0 149.2 22.4A2.9 2.6 88 1 0 149.4 28.2ZM136.4 24.0A2.8 1.7 103 1 0 137.6 18.6A2.8 1.7 103 1 0 136.4 24.0ZM146.4 20.4A1.3 1.3 150 1 0 148.6 19.1A1.3 1.3 150 1 0 146.4 20.4Z"/><path fill="#2a2a2a" opacity=".85" d="M132.6 26.5A0.6 0.4 150 1 0 133.7 25.9A0.6 0.4 150 1 0 132.6 26.5ZM149.9 36.5A0.7 0.5 99 1 0 150.1 35.1A0.7 0.5 99 1 0 149.9 36.5ZM143.8 35.7A1.3 1.3 5 1 0 141.2 35.5A1.3 1.3 5 1 0 143.8 35.7ZM152.0 29.6A0.9 0.8 29 1 0 150.5 28.7A0.9 0.8 29 1 0 152.0 29.6ZM150.6 22.9A0.8 0.4 141 1 0 151.9 21.9A0.8 0.4 141 1 0 150.6 22.9ZM139.4 37.5A0.8 0.5 123 1 0 140.3 36.1A0.8 0.5 123 1 0 139.4 37.5ZM153.3 24.7A1.0 0.7 51 1 0 152.0 23.1A1.0 0.7 51 1 0 153.3 24.7ZM143.7 28.8A0.7 0.7 36 1 0 142.5 27.9A0.7 0.7 36 1 0 143.7 28.8ZM157.9 27.3A0.7 0.4 47 1 0 156.9 26.2A0.7 0.4 47 1 0 157.9 27.3Z"/><path fill="#2a2a2a" opacity=".6" d="M133.2 29.9A0.8 0.5 173 1 0 134.7 29.7A0.8 0.5 173 1 0 133.2 29.9ZM161.1 30.7A1.4 1.3 56 1 0 159.5 28.3A1.4 1.3 56 1 0 161.1 30.7ZM160.8 29.3A0.7 0.5 39 1 0 159.6 28.4A0.7 0.5 39 1 0 160.8 29.3ZM163.8 29.1A0.8 0.5 24 1 0 162.2 28.4A0.8 0.5 24 1 0 163.8 29.1ZM142.8 20.7A1.0 0.6 35 1 0 141.3 19.6A1.0 0.6 35 1 0 142.8 20.7Z"/><path fill="#e8e8e8" opacity=".6" d="M159.4 31.0A0.9 0.5 22 1 0 157.8 30.3A0.9 0.5 22 1 0 159.4 31.0ZM158.8 35.8A1.5 0.8 156 1 0 161.6 34.6A1.5 0.8 156 1 0 158.8 35.8ZM153.5 33.2A0.8 0.5 16 1 0 151.9 32.8A0.8 0.5 16 1 0 153.5 33.2Z"/><path fill="#e8e8e8" opacity=".85" d="M153.6 32.2A1.6 1.5 85 1 0 153.3 29.0A1.6 1.5 85 1 0 153.6 32.2ZM138.4 34.7A1.7 0.9 122 1 0 140.3 31.8A1.7 0.9 122 1 0 138.4 34.7ZM136.7 32.5A1.8 0.8 147 1 0 139.7 30.6A1.8 0.8 147 1 0 136.7 32.5Z"/>
<path d="M101.8,45.0C102.5,40.7 104.5,45.3 106.0,46.5C107.5,47.7 109.5,49.9 110.5,52.0C111.5,54.1 112.0,56.7 112.0,59.0C112.0,61.3 111.5,64.0 110.5,66.0C109.5,68.0 107.5,69.9 106.0,71.0C104.5,72.1 102.5,76.8 101.8,72.5C101.1,68.2 101.1,49.3 101.8,45.0Z" fill="#5e5e5e" stroke="#444" stroke-width="1" stroke-opacity="0.8"/>
<path fill="#aaa" opacity=".3" d="M107.4 59.5A2.2 1.2 82 1 0 106.8 55.0A2.2 1.2 82 1 0 107.4 59.5Z"/><path fill="#555" opacity=".3" d="M107.4 48.2A2.7 1.9 5 1 0 102.1 47.7A2.7 1.9 5 1 0 107.4 48.2ZM104.9 59.0A1.9 1.0 69 1 0 103.5 55.4A1.9 1.0 69 1 0 104.9 59.0ZM102.6 60.7A2.2 1.3 103 1 0 103.6 56.4A2.2 1.3 103 1 0 102.6 60.7ZM102.9 70.7A3.1 2.0 101 1 0 104.1 64.7A3.1 2.0 101 1 0 102.9 70.7Z"/><path fill="#555" opacity=".45" d="M102.4 48.9A2.4 1.3 142 1 0 106.2 45.9A2.4 1.3 142 1 0 102.4 48.9Z"/><path fill="#aaa" opacity=".45" d="M101.7 65.4A1.6 0.7 133 1 0 103.9 63.1A1.6 0.7 133 1 0 101.7 65.4ZM110.5 61.5A1.7 1.0 101 1 0 111.1 58.3A1.7 1.0 101 1 0 110.5 61.5ZM104.9 58.8A2.9 2.4 102 1 0 106.1 53.2A2.9 2.4 102 1 0 104.9 58.8Z"/><path fill="#e8e8e8" opacity=".6" d="M106.2 63.4A1.0 0.8 83 1 0 106.0 61.4A1.0 0.8 83 1 0 106.2 63.4Z"/>
<path d="M115.4,53.5C115.4,52.8 118.9,50.9 121.0,50.0C123.1,49.1 126.0,48.5 128.0,48.3C130.0,48.0 132.8,48.0 133.0,48.5C133.2,49.0 131.0,50.5 129.0,51.5C127.0,52.5 123.3,54.2 121.0,54.5C118.7,54.8 115.4,54.2 115.4,53.5Z" fill="#888888" stroke="#444" stroke-width="1" stroke-opacity="0.8"/>
<path fill="#555" opacity=".45" d="M121.8 51.8A1.2 0.7 162 1 0 124.2 51.0A1.2 0.7 162 1 0 121.8 51.8ZM128.3 50.9A2.2 1.5 28 1 0 124.4 48.8A2.2 1.5 28 1 0 128.3 50.9Z"/><path fill="#aaa" opacity=".45" d="M129.8 49.6A2.9 2.3 160 1 0 135.3 47.5A2.9 2.3 160 1 0 129.8 49.6Z"/>
<path d="M129.7,56.6C130.1,54.2 133.0,50.1 135.6,48.3C138.2,46.5 142.5,45.5 145.1,45.9C147.7,46.3 149.0,48.6 151.0,50.6C153.0,52.6 155.7,55.4 157.0,57.8C158.3,60.1 159.3,63.3 158.9,64.9C158.5,66.5 156.5,67.1 154.6,67.3C152.7,67.5 149.9,66.4 147.5,66.0C145.1,65.6 142.8,65.5 140.4,64.9C138.0,64.3 135.0,63.9 133.2,62.5C131.5,61.1 129.3,59.0 129.7,56.6Z" fill="#747474" stroke="#444" stroke-width="1" stroke-opacity="0.8"/>
<path fill="#aaa" opacity=".45" d="M140.0 60.3A1.4 1.1 21 1 0 137.3 59.2A1.4 1.1 21 1 0 140.0 60.3ZM141.1 50.8A1.8 1.0 148 1 0 144.2 48.9A1.8 1.0 148 1 0 141.1 50.8ZM145.0 55.0A2.4 1.7 99 1 0 145.7 50.2A2.4 1.7 99 1 0 145.0 55.0Z"/><path fill="#555" opacity=".45" d="M143.0 58.8A1.5 0.8 104 1 0 143.7 55.9A1.5 0.8 104 1 0 143.0 58.8ZM144.1 52.9A2.7 2.3 156 1 0 149.0 50.7A2.7 2.3 156 1 0 144.1 52.9ZM148.5 51.9A2.0 1.5 140 1 0 151.5 49.4A2.0 1.5 140 1 0 148.5 51.9ZM140.8 53.3A1.7 1.6 14 1 0 137.5 52.4A1.7 1.6 14 1 0 140.8 53.3ZM148.6 51.1A2.9 2.4 74 1 0 147.0 45.5A2.9 2.4 74 1 0 148.6 51.1ZM139.7 59.5A2.4 1.9 97 1 0 140.3 54.8A2.4 1.9 97 1 0 139.7 59.5ZM133.2 56.8A3.0 1.4 144 1 0 138.1 53.3A3.0 1.4 144 1 0 133.2 56.8Z"/><path fill="#555" opacity=".3" d="M140.5 58.2A2.8 1.3 48 1 0 136.7 54.0A2.8 1.3 48 1 0 140.5 58.2ZM145.8 56.2A2.4 1.1 61 1 0 143.5 52.0A2.4 1.1 61 1 0 145.8 56.2ZM138.2 55.6A2.6 2.0 121 1 0 140.9 51.3A2.6 2.0 121 1 0 138.2 55.6ZM140.0 59.4A2.5 2.1 1 1 0 135.1 59.4A2.5 2.1 1 1 0 140.0 59.4ZM141.5 48.6A2.6 1.8 134 1 0 145.0 44.9A2.6 1.8 134 1 0 141.5 48.6Z"/><path fill="#aaa" opacity=".3" d="M141.2 48.7A2.0 1.4 133 1 0 143.9 45.8A2.0 1.4 133 1 0 141.2 48.7ZM141.3 59.0A1.4 1.0 106 1 0 142.1 56.3A1.4 1.0 106 1 0 141.3 59.0ZM136.7 65.3A1.9 1.8 83 1 0 136.2 61.6A1.9 1.8 83 1 0 136.7 65.3ZM137.9 56.3A2.2 1.8 48 1 0 134.9 53.0A2.2 1.8 48 1 0 137.9 56.3ZM144.9 61.4A3.2 2.0 43 1 0 140.2 57.1A3.2 2.0 43 1 0 144.9 61.4Z"/><path fill="#2a2a2a" opacity=".6" d="M140.9 54.1A0.7 0.4 28 1 0 139.7 53.4A0.7 0.4 28 1 0 140.9 54.1ZM134.0 53.1A1.1 0.8 105 1 0 134.5 51.1A1.1 0.8 105 1 0 134.0 53.1ZM133.9 59.4A1.1 0.8 177 1 0 136.2 59.3A1.1 0.8 177 1 0 133.9 59.4ZM141.9 63.6A0.9 0.7 77 1 0 141.5 61.9A0.9 0.7 77 1 0 141.9 63.6ZM140.9 48.5A0.6 0.3 127 1 0 141.7 47.5A0.6 0.3 127 1 0 140.9 48.5ZM151.0 58.8A1.4 1.3 147 1 0 153.3 57.3A1.4 1.3 147 1 0 151.0 58.8ZM136.2 58.9A0.7 0.6 7 1 0 134.8 58.7A0.7 0.6 7 1 0 136.2 58.9ZM143.8 63.8A1.2 1.0 166 1 0 146.1 63.2A1.2 1.0 166 1 0 143.8 63.8ZM147.3 54.2A1.0 0.7 56 1 0 146.1 52.5A1.0 0.7 56 1 0 147.3 54.2ZM156.4 59.7A1.5 1.1 63 1 0 155.0 57.1A1.5 1.1 63 1 0 156.4 59.7ZM135.7 50.3A1.1 0.7 116 1 0 136.7 48.3A1.1 0.7 116 1 0 135.7 50.3ZM139.3 60.1A1.5 1.1 62 1 0 137.9 57.5A1.5 1.1 62 1 0 139.3 60.1ZM141.5 53.8A1.4 0.9 31 1 0 139.1 52.4A1.4 0.9 31 1 0 141.5 53.8Z"/><path fill="#2a2a2a" opacity=".85" d="M148.0 52.5A0.9 0.9 161 1 0 149.7 51.9A0.9 0.9 161 1 0 148.0 52.5ZM138.3 61.5A0.9 0.5 160 1 0 140.0 60.9A0.9 0.5 160 1 0 138.3 61.5ZM148.8 61.3A1.1 0.8 124 1 0 150.1 59.4A1.1 0.8 124 1 0 148.8 61.3Z"/><path fill="#e8e8e8" opacity=".85" d="M147.0 54.4A1.2 0.7 8 1 0 144.7 54.0A1.2 0.7 8 1 0 147.0 54.4ZM135.7 55.9A0.8 0.6 152 1 0 137.0 55.2A0.8 0.6 152 1 0 135.7 55.9Z"/><path fill="#e8e8e8" opacity=".6" d="M146.6 63.6A1.3 0.9 40 1 0 144.6 61.9A1.3 0.9 40 1 0 146.6 63.6ZM140.7 51.6A1.1 0.9 76 1 0 140.2 49.5A1.1 0.9 76 1 0 140.7 51.6Z"/>
<path d="M161.0,52.0C161.5,49.2 163.0,45.8 165.0,44.0C167.0,42.2 170.2,41.8 173.0,41.5C175.8,41.2 179.2,41.2 182.0,42.0C184.8,42.8 188.1,44.2 190.0,46.0C191.9,47.8 193.2,50.5 193.5,53.0C193.8,55.5 193.2,58.8 192.0,61.0C190.8,63.2 188.5,65.3 186.0,66.5C183.5,67.7 180.0,68.3 177.0,68.4C174.0,68.5 170.5,68.2 168.0,67.0C165.5,65.8 163.2,63.5 162.0,61.0C160.8,58.5 160.5,54.8 161.0,52.0Z" fill="#7e7e7e" stroke="#444" stroke-width="1" stroke-opacity="0.8"/>
<path fill="#aaa" opacity=".3" d="M191.9 58.3A1.9 1.1 32 1 0 188.6 56.3A1.9 1.1 32 1 0 191.9 58.3ZM185.0 46.5A1.2 1.0 59 1 0 183.7 44.3A1.2 1.0 59 1 0 185.0 46.5ZM173.3 66.2A2.1 1.7 70 1 0 171.8 62.2A2.1 1.7 70 1 0 173.3 66.2ZM186.1 56.2A3.2 2.1 46 1 0 181.7 51.6A3.2 2.1 46 1 0 186.1 56.2ZM169.9 51.1A2.4 1.4 103 1 0 171.0 46.4A2.4 1.4 103 1 0 169.9 51.1ZM165.8 64.3A2.5 2.4 62 1 0 163.5 59.8A2.5 2.4 62 1 0 165.8 64.3ZM159.7 61.2A2.8 1.7 163 1 0 165.1 59.6A2.8 1.7 163 1 0 159.7 61.2Z"/><path fill="#555" opacity=".3" d="M176.0 56.5A1.7 1.5 168 1 0 179.4 55.7A1.7 1.5 168 1 0 176.0 56.5ZM164.0 51.9A2.8 2.3 168 1 0 169.5 50.8A2.8 2.3 168 1 0 164.0 51.9ZM165.9 50.8A2.0 0.9 144 1 0 169.0 48.5A2.0 0.9 144 1 0 165.9 50.8ZM180.6 61.7A2.9 2.3 173 1 0 186.3 61.0A2.9 2.3 173 1 0 180.6 61.7ZM181.3 46.3A2.5 2.1 150 1 0 185.6 43.8A2.5 2.1 150 1 0 181.3 46.3ZM176.8 51.8A2.8 2.1 153 1 0 181.8 49.2A2.8 2.1 153 1 0 176.8 51.8ZM176.7 47.5A2.6 1.2 11 1 0 171.7 46.6A2.6 1.2 11 1 0 176.7 47.5ZM164.2 50.1A1.6 1.3 41 1 0 161.8 48.0A1.6 1.3 41 1 0 164.2 50.1ZM173.5 54.2A1.9 1.0 2 1 0 169.6 54.0A1.9 1.0 2 1 0 173.5 54.2ZM181.9 69.4A2.2 1.9 91 1 0 182.0 65.1A2.2 1.9 91 1 0 181.9 69.4ZM167.6 61.5A2.9 2.8 79 1 0 166.5 55.8A2.9 2.8 79 1 0 167.6 61.5Z"/><path fill="#555" opacity=".45" d="M172.4 60.4A1.4 1.1 49 1 0 170.5 58.3A1.4 1.1 49 1 0 172.4 60.4ZM190.9 56.8A2.6 1.6 0 1 0 185.6 56.8A2.6 1.6 0 1 0 190.9 56.8ZM169.6 63.1A1.9 1.8 157 1 0 173.1 61.7A1.9 1.8 157 1 0 169.6 63.1ZM188.0 50.4A1.4 1.3 87 1 0 187.9 47.7A1.4 1.3 87 1 0 188.0 50.4ZM185.2 54.7A2.2 2.1 48 1 0 182.2 51.4A2.2 2.1 48 1 0 185.2 54.7ZM171.5 49.7A3.1 1.7 23 1 0 165.8 47.3A3.1 1.7 23 1 0 171.5 49.7ZM178.2 68.8A2.2 1.9 27 1 0 174.3 66.9A2.2 1.9 27 1 0 178.2 68.8ZM168.9 46.5A1.3 1.1 94 1 0 169.1 44.0A1.3 1.1 94 1 0 168.9 46.5Z"/><path fill="#aaa" opacity=".45" d="M163.7 51.4A1.7 0.9 72 1 0 162.6 48.3A1.7 0.9 72 1 0 163.7 51.4ZM168.3 51.1A1.5 1.2 60 1 0 166.8 48.6A1.5 1.2 60 1 0 168.3 51.1ZM188.5 59.4A2.5 2.4 167 1 0 193.3 58.3A2.5 2.4 167 1 0 188.5 59.4Z"/><path fill="#2a2a2a" opacity=".85" d="M185.5 50.9A0.8 0.7 58 1 0 184.7 49.6A0.8 0.7 58 1 0 185.5 50.9ZM163.5 57.0A1.2 1.1 12 1 0 161.2 56.5A1.2 1.1 12 1 0 163.5 57.0ZM190.8 55.3A1.0 0.6 154 1 0 192.7 54.3A1.0 0.6 154 1 0 190.8 55.3ZM178.7 44.0A1.2 0.7 163 1 0 181.1 43.3A1.2 0.7 163 1 0 178.7 44.0ZM186.6 53.8A0.9 0.7 86 1 0 186.5 52.1A0.9 0.7 86 1 0 186.6 53.8ZM184.1 52.0A0.6 0.5 145 1 0 185.0 51.3A0.6 0.5 145 1 0 184.1 52.0ZM191.1 58.7A1.3 0.7 155 1 0 193.5 57.6A1.3 0.7 155 1 0 191.1 58.7Z"/><path fill="#2a2a2a" opacity=".6" d="M173.9 56.6A0.9 0.9 14 1 0 172.1 56.1A0.9 0.9 14 1 0 173.9 56.6ZM163.1 53.4A0.8 0.7 8 1 0 161.5 53.2A0.8 0.7 8 1 0 163.1 53.4ZM167.2 44.7A0.9 0.7 102 1 0 167.5 42.9A0.9 0.7 102 1 0 167.2 44.7ZM182.6 57.6A1.0 0.7 76 1 0 182.2 55.7A1.0 0.7 76 1 0 182.6 57.6ZM188.0 55.9A1.2 1.1 173 1 0 190.3 55.6A1.2 1.1 173 1 0 188.0 55.9Z"/><path fill="#e8e8e8" opacity=".85" d="M185.0 60.9A0.8 0.6 92 1 0 185.1 59.3A0.8 0.6 92 1 0 185.0 60.9ZM163.7 61.2A1.0 0.7 174 1 0 165.7 61.0A1.0 0.7 174 1 0 163.7 61.2ZM170.0 55.5A1.2 0.8 11 1 0 167.6 55.1A1.2 0.8 11 1 0 170.0 55.5Z"/><path fill="#e8e8e8" opacity=".6" d="M178.9 57.5A1.1 0.6 51 1 0 177.5 55.9A1.1 0.6 51 1 0 178.9 57.5ZM179.9 45.7A1.6 1.0 48 1 0 177.7 43.3A1.6 1.0 48 1 0 179.9 45.7ZM177.4 49.1A1.2 0.9 138 1 0 179.1 47.5A1.2 0.9 138 1 0 177.4 49.1ZM179.3 45.7A1.2 0.9 104 1 0 179.9 43.4A1.2 0.9 104 1 0 179.3 45.7ZM182.4 63.3A0.8 0.6 160 1 0 183.8 62.8A0.8 0.6 160 1 0 182.4 63.3ZM175.2 47.1A1.8 1.3 35 1 0 172.3 45.1A1.8 1.3 35 1 0 175.2 47.1ZM174.2 58.2A1.1 0.5 3 1 0 172.1 58.1A1.1 0.5 3 1 0 174.2 58.2ZM175.2 45.0A0.8 0.7 159 1 0 176.7 44.5A0.8 0.7 159 1 0 175.2 45.0ZM188.6 51.2A1.0 0.6 8 1 0 186.5 50.9A1.0 0.6 8 1 0 188.6 51.2Z"/>
<path d="M107.1,74.4C108.5,72.2 111.5,69.8 114.2,68.4C117.0,67.0 121.0,66.0 123.8,66.0C126.5,66.0 128.7,66.6 130.9,68.4C133.1,70.2 135.6,74.0 136.8,76.8C138.0,79.5 140.2,83.4 138.0,85.0C135.8,86.6 128.1,86.2 123.8,86.2C119.4,86.2 114.9,85.8 111.9,85.0C108.9,84.2 106.7,83.3 105.9,81.5C105.1,79.7 105.7,76.6 107.1,74.4Z" fill="#767676" stroke="#444" stroke-width="1" stroke-opacity="0.8"/>
<path fill="#555" opacity=".3" d="M134.2 80.6A1.7 1.0 148 1 0 137.1 78.8A1.7 1.0 148 1 0 134.2 80.6ZM121.7 83.4A2.2 1.1 38 1 0 118.3 80.7A2.2 1.1 38 1 0 121.7 83.4ZM109.2 82.7A2.6 1.7 177 1 0 114.3 82.4A2.6 1.7 177 1 0 109.2 82.7ZM122.8 73.8A1.5 1.2 92 1 0 122.9 70.8A1.5 1.2 92 1 0 122.8 73.8ZM129.4 74.8A2.1 2.1 85 1 0 129.1 70.6A2.1 2.1 85 1 0 129.4 74.8ZM126.1 79.1A3.1 3.1 51 1 0 122.2 74.3A3.1 3.1 51 1 0 126.1 79.1ZM132.8 80.3A2.5 1.6 36 1 0 128.8 77.4A2.5 1.6 36 1 0 132.8 80.3ZM123.8 86.3A2.8 2.8 52 1 0 120.3 81.9A2.8 2.8 52 1 0 123.8 86.3ZM122.3 76.4A2.3 1.4 36 1 0 118.6 73.6A2.3 1.4 36 1 0 122.3 76.4ZM117.4 74.2A2.7 2.0 48 1 0 113.8 70.3A2.7 2.0 48 1 0 117.4 74.2ZM125.8 81.9A2.5 1.4 12 1 0 121.0 80.8A2.5 1.4 12 1 0 125.8 81.9Z"/><path fill="#555" opacity=".45" d="M121.8 73.6A2.6 1.7 137 1 0 125.6 70.1A2.6 1.7 137 1 0 121.8 73.6ZM115.8 75.2A1.2 1.2 8 1 0 113.3 74.8A1.2 1.2 8 1 0 115.8 75.2ZM133.3 76.9A2.9 2.3 84 1 0 132.7 71.0A2.9 2.3 84 1 0 133.3 76.9ZM123.1 67.7A1.6 1.2 176 1 0 126.2 67.5A1.6 1.2 176 1 0 123.1 67.7ZM120.2 84.8A1.3 1.0 65 1 0 119.1 82.4A1.3 1.0 65 1 0 120.2 84.8Z"/><path fill="#aaa" opacity=".3" d="M123.3 73.2A1.2 0.9 161 1 0 125.7 72.4A1.2 0.9 161 1 0 123.3 73.2ZM127.8 74.9A2.7 2.3 89 1 0 127.7 69.4A2.7 2.3 89 1 0 127.8 74.9ZM120.3 71.9A2.4 2.2 50 1 0 117.2 68.2A2.4 2.2 50 1 0 120.3 71.9Z"/><path fill="#aaa" opacity=".45" d="M110.6 81.3A1.7 1.0 91 1 0 110.6 77.8A1.7 1.0 91 1 0 110.6 81.3ZM132.9 82.1A1.9 1.6 123 1 0 134.9 78.9A1.9 1.6 123 1 0 132.9 82.1Z"/><path fill="#2a2a2a" opacity=".6" d="M109.0 83.4A1.1 1.0 48 1 0 107.5 81.7A1.1 1.0 48 1 0 109.0 83.4ZM114.9 79.5A0.6 0.4 54 1 0 114.2 78.5A0.6 0.4 54 1 0 114.9 79.5ZM120.3 81.2A1.4 0.8 39 1 0 118.2 79.5A1.4 0.8 39 1 0 120.3 81.2ZM120.9 72.6A1.1 1.0 64 1 0 120.0 70.7A1.1 1.0 64 1 0 120.9 72.6ZM126.7 82.6A0.9 0.9 102 1 0 127.1 80.8A0.9 0.9 102 1 0 126.7 82.6Z"/><path fill="#2a2a2a" opacity=".85" d="M116.7 84.0A0.6 0.5 44 1 0 115.8 83.1A0.6 0.5 44 1 0 116.7 84.0ZM107.4 74.9A0.6 0.5 126 1 0 108.1 73.9A0.6 0.5 126 1 0 107.4 74.9ZM136.7 83.8A0.6 0.4 14 1 0 135.5 83.5A0.6 0.4 14 1 0 136.7 83.8ZM112.2 78.0A1.4 0.9 108 1 0 113.1 75.4A1.4 0.9 108 1 0 112.2 78.0ZM117.7 80.9A1.4 0.8 58 1 0 116.2 78.6A1.4 0.8 58 1 0 117.7 80.9ZM128.5 71.5A1.2 1.1 166 1 0 130.9 70.9A1.2 1.1 166 1 0 128.5 71.5ZM108.7 76.8A1.1 0.6 38 1 0 107.0 75.5A1.1 0.6 38 1 0 108.7 76.8Z"/><path fill="#e8e8e8" opacity=".6" d="M134.9 85.3A1.6 1.4 89 1 0 134.9 82.0A1.6 1.4 89 1 0 134.9 85.3ZM122.3 73.0A1.7 0.9 16 1 0 119.1 72.1A1.7 0.9 16 1 0 122.3 73.0Z"/><path fill="#e8e8e8" opacity=".85" d="M130.6 72.7A1.8 1.3 99 1 0 131.2 69.2A1.8 1.3 99 1 0 130.6 72.7Z"/>
<path d="M140.4,80.3C141.6,78.1 144.3,76.8 147.5,76.3C150.7,75.8 156.0,75.9 159.4,77.2C162.8,78.5 166.5,81.9 167.7,83.9C168.9,86.0 171.1,88.6 166.5,89.5C161.9,90.4 144.8,91.0 140.4,89.5C136.1,88.0 139.2,82.5 140.4,80.3Z" fill="#888888" stroke="#444" stroke-width="1" stroke-opacity="0.8"/>
<path fill="#555" opacity=".45" d="M161.8 90.8A2.5 1.6 104 1 0 163.0 85.9A2.5 1.6 104 1 0 161.8 90.8ZM148.3 81.2A2.7 2.2 55 1 0 145.2 76.8A2.7 2.2 55 1 0 148.3 81.2ZM154.3 91.2A2.7 2.7 72 1 0 152.6 86.0A2.7 2.7 72 1 0 154.3 91.2ZM139.6 86.7A2.1 1.4 175 1 0 143.7 86.3A2.1 1.4 175 1 0 139.6 86.7ZM169.1 89.8A3.1 1.8 45 1 0 164.7 85.3A3.1 1.8 45 1 0 169.1 89.8Z"/><path fill="#aaa" opacity=".45" d="M158.9 88.8A1.3 0.6 61 1 0 157.7 86.6A1.3 0.6 61 1 0 158.9 88.8ZM145.1 86.7A1.4 0.9 85 1 0 144.9 83.9A1.4 0.9 85 1 0 145.1 86.7ZM153.8 86.5A2.3 2.3 127 1 0 156.5 82.8A2.3 2.3 127 1 0 153.8 86.5Z"/><path fill="#555" opacity=".3" d="M149.0 87.5A3.1 1.8 92 1 0 149.2 81.2A3.1 1.8 92 1 0 149.0 87.5ZM153.2 78.3A1.2 1.2 28 1 0 151.1 77.1A1.2 1.2 28 1 0 153.2 78.3ZM142.2 82.9A1.5 1.0 175 1 0 145.2 82.6A1.5 1.0 175 1 0 142.2 82.9Z"/><path fill="#aaa" opacity=".3" d="M144.6 88.2A2.6 1.2 147 1 0 149.0 85.4A2.6 1.2 147 1 0 144.6 88.2Z"/><path fill="#2a2a2a" opacity=".85" d="M140.3 86.8A1.5 0.9 176 1 0 143.2 86.6A1.5 0.9 176 1 0 140.3 86.8ZM141.9 83.1A0.9 0.6 68 1 0 141.2 81.5A0.9 0.6 68 1 0 141.9 83.1ZM151.2 81.5A1.0 1.0 98 1 0 151.4 79.5A1.0 1.0 98 1 0 151.2 81.5Z"/><path fill="#2a2a2a" opacity=".6" d="M163.2 87.5A1.4 1.2 155 1 0 165.7 86.3A1.4 1.2 155 1 0 163.2 87.5Z"/><path fill="#e8e8e8" opacity=".6" d="M155.0 90.4A1.4 1.2 50 1 0 153.2 88.3A1.4 1.2 50 1 0 155.0 90.4Z"/>
<path d="M181.0,75.0C181.5,73.7 183.9,71.7 186.0,71.0C188.1,70.3 192.5,69.2 193.8,71.0C195.1,72.8 194.8,80.0 193.8,81.5C192.8,83.0 189.8,80.4 188.0,80.0C186.2,79.6 184.2,79.8 183.0,79.0C181.8,78.2 180.5,76.3 181.0,75.0Z" fill="#666666" stroke="#444" stroke-width="1" stroke-opacity="0.8"/>
<path fill="#aaa" opacity=".3" d="M188.9 74.3A2.4 1.1 103 1 0 190.0 69.5A2.4 1.1 103 1 0 188.9 74.3Z"/><path fill="#555" opacity=".45" d="M187.8 75.8A2.5 1.9 147 1 0 192.0 73.0A2.5 1.9 147 1 0 187.8 75.8ZM191.9 78.7A2.4 2.4 90 1 0 191.9 74.0A2.4 2.4 90 1 0 191.9 78.7Z"/><path fill="#aaa" opacity=".45" d="M192.3 75.8A2.3 1.8 18 1 0 188.0 74.4A2.3 1.8 18 1 0 192.3 75.8Z"/><path fill="#e8e8e8" opacity=".85" d="M189.4 77.5A0.9 0.7 67 1 0 188.7 75.9A0.9 0.7 67 1 0 189.4 77.5ZM191.4 76.8A1.5 1.1 146 1 0 193.8 75.1A1.5 1.1 146 1 0 191.4 76.8Z"/>
</g>
<clipPath id="em2"><rect x="6.4" y="91.5" width="92.9" height="71.5"/></clipPath>
<g clip-path="url(#em2)">
<rect x="6.4" y="91.5" width="92.9" height="71.5" fill="#dcdcdc"/>
<path d="M8.6,125.6C8.6,121.2 10.3,117.3 12.1,113.8C13.9,110.2 16.5,107.0 19.2,104.2C22.0,101.5 25.2,98.9 28.8,97.1C32.3,95.3 35.9,94.4 40.6,93.6C45.4,92.8 51.7,92.4 57.2,92.4C62.8,92.4 69.2,92.6 73.9,93.6C78.7,94.6 82.6,96.5 85.8,98.3C88.9,100.1 90.9,101.3 92.9,104.2C94.9,107.2 96.6,111.7 97.6,116.1C98.6,120.5 99.0,126.0 98.8,130.4C98.6,134.8 97.8,139.1 96.5,142.2C95.1,145.4 93.1,147.6 90.5,149.4C87.9,151.2 84.6,152.1 81.0,152.9C77.4,153.7 72.3,153.1 69.1,154.1C65.9,155.1 64.8,157.6 62.0,158.9C59.2,160.2 56.1,161.8 52.5,162.0C48.9,162.2 44.6,161.3 40.6,160.0C36.6,158.7 32.3,156.1 28.8,154.1C25.2,152.1 22.0,150.6 19.2,148.2C16.5,145.8 13.9,143.7 12.1,139.9C10.3,136.1 8.6,130.0 8.6,125.6Z" fill="#858585" stroke="#444" stroke-width="1" stroke-opacity="0.8"/>
<path fill="#aaa" opacity=".3" d="M26.4 104.4A3.1 2.3 135 1 0 30.7 100.1A3.1 2.3 135 1 0 26.4 104.4ZM73.4 123.7A2.2 1.9 1 1 0 69.1 123.6A2.2 1.9 1 1 0 73.4 123.7ZM31.7 132.3A1.2 0.7 78 1 0 31.2 129.9A1.2 0.7 78 1 0 31.7 132.3ZM49.7 128.3A2.2 2.0 51 1 0 46.9 124.9A2.2 2.0 51 1 0 49.7 128.3ZM46.3 107.2A1.5 0.8 24 1 0 43.7 106.0A1.5 0.8 24 1 0 46.3 107.2ZM22.8 112.0A1.3 0.8 74 1 0 22.1 109.6A1.3 0.8 74 1 0 22.8 112.0ZM15.5 117.2A1.4 0.8 77 1 0 14.9 114.5A1.4 0.8 77 1 0 15.5 117.2ZM55.4 148.9A3.0 2.6 50 1 0 51.5 144.3A3.0 2.6 50 1 0 55.4 148.9ZM40.1 123.1A2.5 2.5 126 1 0 43.0 119.0A2.5 2.5 126 1 0 40.1 123.1ZM26.2 125.9A1.7 1.2 100 1 0 26.8 122.6A1.7 1.2 100 1 0 26.2 125.9ZM66.3 136.8A2.0 1.4 167 1 0 70.1 135.9A2.0 1.4 167 1 0 66.3 136.8ZM51.0 119.7A3.2 1.5 142 1 0 56.0 115.8A3.2 1.5 142 1 0 51.0 119.7ZM43.3 128.5A1.9 1.7 136 1 0 46.0 125.9A1.9 1.7 136 1 0 43.3 128.5ZM12.7 122.4A2.2 2.0 147 1 0 16.4 120.0A2.2 2.0 147 1 0 12.7 122.4ZM49.7 108.9A2.7 2.3 38 1 0 45.5 105.7A2.7 2.3 38 1 0 49.7 108.9ZM61.4 109.9A2.8 1.6 57 1 0 58.4 105.2A2.8 1.6 57 1 0 61.4 109.9ZM53.0 122.6A1.3 1.1 149 1 0 55.3 121.2A1.3 1.1 149 1 0 53.0 122.6ZM18.5 122.7A3.1 2.1 95 1 0 19.0 116.5A3.1 2.1 95 1 0 18.5 122.7ZM44.3 113.5A1.6 1.4 112 1 0 45.5 110.6A1.6 1.4 112 1 0 44.3 113.5ZM30.5 122.2A2.8 2.5 62 1 0 27.9 117.3A2.8 2.5 62 1 0 30.5 122.2ZM13.8 126.5A2.2 2.1 47 1 0 10.9 123.4A2.2 2.1 47 1 0 13.8 126.5ZM69.3 98.9A2.3 1.8 13 1 0 64.8 97.8A2.3 1.8 13 1 0 69.3 98.9ZM70.4 135.4A2.1 1.7 6 1 0 66.2 135.0A2.1 1.7 6 1 0 70.4 135.4ZM22.7 128.1A2.9 1.6 171 1 0 28.3 127.2A2.9 1.6 171 1 0 22.7 128.1ZM35.4 156.4A1.2 0.7 45 1 0 33.7 154.6A1.2 0.7 45 1 0 35.4 156.4ZM93.2 137.3A2.4 1.9 177 1 0 98.0 137.0A2.4 1.9 177 1 0 93.2 137.3ZM30.4 122.2A2.6 1.4 117 1 0 32.8 117.6A2.6 1.4 117 1 0 30.4 122.2ZM88.1 103.2A3.1 2.0 35 1 0 82.9 99.7A3.1 2.0 35 1 0 88.1 103.2ZM42.8 145.4A1.9 1.1 63 1 0 41.0 142.0A1.9 1.1 63 1 0 42.8 145.4ZM50.9 105.3A1.2 1.0 164 1 0 53.2 104.6A1.2 1.0 164 1 0 50.9 105.3ZM89.3 106.5A1.7 1.3 115 1 0 90.7 103.5A1.7 1.3 115 1 0 89.3 106.5ZM49.7 102.6A1.6 1.4 16 1 0 46.7 101.7A1.6 1.4 16 1 0 49.7 102.6ZM68.6 149.1A1.2 0.9 119 1 0 69.8 147.0A1.2 0.9 119 1 0 68.6 149.1ZM39.3 160.2A2.7 2.5 162 1 0 44.5 158.5A2.7 2.5 162 1 0 39.3 160.2ZM84.6 136.5A2.9 2.7 50 1 0 80.8 132.0A2.9 2.7 50 1 0 84.6 136.5ZM88.6 116.7A2.2 1.2 39 1 0 85.2 113.9A2.2 1.2 39 1 0 88.6 116.7ZM30.2 114.5A2.5 2.1 47 1 0 26.8 110.8A2.5 2.1 47 1 0 30.2 114.5Z"/><path fill="#aaa" opacity=".45" d="M25.7 119.7A2.5 1.4 45 1 0 22.1 116.1A2.5 1.4 45 1 0 25.7 119.7ZM41.0 154.6A2.1 1.4 96 1 0 41.4 150.5A2.1 1.4 96 1 0 41.0 154.6ZM81.3 107.3A1.9 1.7 149 1 0 84.5 105.3A1.9 1.7 149 1 0 81.3 107.3ZM18.3 108.1A2.5 2.4 149 1 0 22.6 105.6A2.5 2.4 149 1 0 18.3 108.1ZM42.0 124.3A2.6 2.1 2 1 0 36.8 124.1A2.6 2.1 2 1 0 42.0 124.3ZM19.0 104.8A2.1 1.8 143 1 0 22.3 102.3A2.1 1.8 143 1 0 19.0 104.8ZM97.7 120.7A1.3 0.8 57 1 0 96.3 118.6A1.3 0.8 57 1 0 97.7 120.7ZM81.6 149.4A2.4 1.6 151 1 0 85.8 147.1A2.4 1.6 151 1 0 81.6 149.4ZM94.6 110.8A2.5 2.3 78 1 0 93.6 105.8A2.5 2.3 78 1 0 94.6 110.8ZM64.1 114.1A1.4 0.8 104 1 0 64.8 111.4A1.4 0.8 104 1 0 64.1 114.1ZM44.8 114.4A2.2 1.2 8 1 0 40.4 113.7A2.2 1.2 8 1 0 44.8 114.4ZM60.4 133.0A1.3 0.9 160 1 0 62.8 132.1A1.3 0.9 160 1 0 60.4 133.0ZM83.2 97.1A1.8 1.3 13 1 0 79.7 96.3A1.8 1.3 13 1 0 83.2 97.1ZM79.3 126.4A1.4 1.4 128 1 0 81.0 124.2A1.4 1.4 128 1 0 79.3 126.4ZM81.4 138.0A2.7 2.0 160 1 0 86.5 136.1A2.7 2.0 160 1 0 81.4 138.0ZM50.6 150.7A1.5 0.7 130 1 0 52.5 148.5A1.5 0.7 130 1 0 50.6 150.7ZM20.9 137.9A2.9 2.9 177 1 0 26.8 137.6A2.9 2.9 177 1 0 20.9 137.9ZM93.5 110.0A2.5 2.4 67 1 0 91.6 105.3A2.5 2.4 67 1 0 93.5 110.0ZM24.0 129.2A2.4 1.5 0 1 0 19.1 129.2A2.4 1.5 0 1 0 24.0 129.2ZM35.9 99.7A2.1 2.1 159 1 0 39.8 98.2A2.1 2.1 159 1 0 35.9 99.7ZM56.4 102.5A2.9 1.8 93 1 0 56.7 96.9A2.9 1.8 93 1 0 56.4 102.5ZM38.1 159.8A1.4 1.3 158 1 0 40.7 158.7A1.4 1.3 158 1 0 38.1 159.8ZM26.9 109.5A2.0 1.3 67 1 0 25.3 105.8A2.0 1.3 67 1 0 26.9 109.5ZM65.1 111.6A2.1 1.6 35 1 0 61.7 109.1A2.1 1.6 35 1 0 65.1 111.6ZM31.0 133.7A1.6 0.9 104 1 0 31.8 130.5A1.6 0.9 104 1 0 31.0 133.7ZM66.6 129.1A1.4 0.8 133 1 0 68.5 127.0A1.4 0.8 133 1 0 66.6 129.1ZM89.6 111.2A2.7 1.7 93 1 0 89.9 105.9A2.7 1.7 93 1 0 89.6 111.2ZM87.0 124.9A2.7 2.0 14 1 0 81.7 123.6A2.7 2.0 14 1 0 87.0 124.9ZM49.9 118.5A2.6 2.2 101 1 0 50.9 113.4A2.6 2.2 101 1 0 49.9 118.5Z"/><path fill="#555" opacity=".45" d="M66.0 153.0A3.0 2.8 97 1 0 66.7 147.0A3.0 2.8 97 1 0 66.0 153.0ZM69.7 120.2A2.2 1.3 97 1 0 70.2 115.7A2.2 1.3 97 1 0 69.7 120.2ZM67.6 152.5A1.6 1.1 11 1 0 64.4 151.9A1.6 1.1 11 1 0 67.6 152.5ZM72.1 118.9A1.3 1.1 165 1 0 74.5 118.2A1.3 1.1 165 1 0 72.1 118.9ZM41.9 140.6A1.9 0.9 100 1 0 42.5 136.9A1.9 0.9 100 1 0 41.9 140.6ZM47.0 96.5A2.6 1.9 30 1 0 42.6 93.9A2.6 1.9 30 1 0 47.0 96.5ZM62.2 94.0A2.2 2.0 14 1 0 58.0 92.9A2.2 2.0 14 1 0 62.2 94.0ZM22.1 121.7A1.3 1.0 48 1 0 20.4 119.8A1.3 1.0 48 1 0 22.1 121.7ZM37.8 154.9A2.8 2.6 51 1 0 34.3 150.5A2.8 2.6 51 1 0 37.8 154.9ZM33.8 144.4A2.8 2.2 113 1 0 36.0 139.3A2.8 2.2 113 1 0 33.8 144.4ZM64.1 107.5A3.0 2.3 56 1 0 60.7 102.4A3.0 2.3 56 1 0 64.1 107.5ZM56.0 126.2A1.6 0.8 57 1 0 54.3 123.5A1.6 0.8 57 1 0 56.0 126.2ZM67.8 142.3A1.6 0.8 85 1 0 67.5 139.1A1.6 0.8 85 1 0 67.8 142.3ZM38.6 160.4A2.5 1.2 115 1 0 40.7 155.9A2.5 1.2 115 1 0 38.6 160.4ZM51.0 144.6A1.4 0.8 9 1 0 48.2 144.2A1.4 0.8 9 1 0 51.0 144.6ZM10.5 128.9A1.4 1.1 147 1 0 12.8 127.4A1.4 1.1 147 1 0 10.5 128.9ZM95.8 117.3A2.9 2.7 38 1 0 91.3 113.7A2.9 2.7 38 1 0 95.8 117.3ZM38.9 150.9A2.1 2.0 105 1 0 40.0 146.8A2.1 2.0 105 1 0 38.9 150.9ZM28.3 108.0A1.9 1.8 9 1 0 24.6 107.4A1.9 1.8 9 1 0 28.3 108.0ZM67.9 122.3A2.5 2.1 103 1 0 69.0 117.5A2.5 2.1 103 1 0 67.9 122.3ZM8.7 127.6A1.2 0.6 105 1 0 9.3 125.2A1.2 0.6 105 1 0 8.7 127.6ZM62.2 125.9A1.9 1.1 119 1 0 64.1 122.6A1.9 1.1 119 1 0 62.2 125.9ZM69.2 149.6A1.4 1.2 47 1 0 67.2 147.5A1.4 1.2 47 1 0 69.2 149.6ZM44.1 117.0A1.5 0.8 78 1 0 43.4 114.1A1.5 0.8 78 1 0 44.1 117.0ZM51.0 149.7A1.7 1.1 34 1 0 48.2 147.8A1.7 1.1 34 1 0 51.0 149.7ZM69.2 100.1A2.4 1.7 78 1 0 68.2 95.3A2.4 1.7 78 1 0 69.2 100.1ZM68.7 128.8A3.1 2.0 41 1 0 63.9 124.6A3.1 2.0 41 1 0 68.7 128.8ZM37.3 124.3A1.4 0.8 98 1 0 37.7 121.5A1.4 0.8 98 1 0 37.3 124.3ZM82.1 138.6A2.8 1.7 137 1 0 86.1 134.9A2.8 1.7 137 1 0 82.1 138.6ZM50.9 133.8A2.5 2.2 92 1 0 51.1 128.7A2.5 2.2 92 1 0 50.9 133.8ZM72.1 122.5A2.8 2.6 115 1 0 74.5 117.4A2.8 2.6 115 1 0 72.1 122.5ZM24.7 145.4A2.7 1.4 87 1 0 24.4 140.0A2.7 1.4 87 1 0 24.7 145.4ZM71.9 121.5A3.1 1.9 174 1 0 78.0 120.9A3.1 1.9 174 1 0 71.9 121.5ZM45.3 113.1A2.5 2.3 17 1 0 40.6 111.7A2.5 2.3 17 1 0 45.3 113.1ZM80.2 135.4A2.2 1.7 24 1 0 76.2 133.6A2.2 1.7 24 1 0 80.2 135.4ZM84.7 116.2A1.2 1.0 70 1 0 83.8 113.9A1.2 1.0 70 1 0 84.7 116.2ZM82.1 101.3A1.6 1.3 135 1 0 84.4 98.9A1.6 1.3 135 1 0 82.1 101.3ZM81.4 147.6A2.7 2.4 5 1 0 76.0 147.2A2.7 2.4 5 1 0 81.4 147.6ZM94.2 142.8A2.6 1.3 3 1 0 88.9 142.6A2.6 1.3 3 1 0 94.2 142.8ZM43.1 156.2A2.8 2.0 27 1 0 38.1 153.7A2.8 2.0 27 1 0 43.1 156.2ZM86.5 120.7A3.0 2.1 81 1 0 85.5 114.8A3.0 2.1 81 1 0 86.5 120.7ZM42.0 118.9A2.5 2.4 132 1 0 45.4 115.2A2.5 2.4 132 1 0 42.0 118.9ZM62.6 119.0A1.2 1.1 11 1 0 60.2 118.5A1.2 1.1 11 1 0 62.6 119.0ZM25.3 134.8A3.0 2.8 124 1 0 28.7 129.8A3.0 2.8 124 1 0 25.3 134.8ZM40.0 154.9A1.4 1.3 116 1 0 41.2 152.4A1.4 1.3 116 1 0 40.0 154.9ZM75.1 154.4A2.9 1.5 77 1 0 73.8 148.7A2.9 1.5 77 1 0 75.1 154.4ZM66.1 113.0A1.7 0.9 7 1 0 62.7 112.6A1.7 0.9 7 1 0 66.1 113.0ZM77.4 112.9A1.7 1.2 59 1 0 75.6 110.0A1.7 1.2 59 1 0 77.4 112.9ZM60.3 118.2A2.8 1.3 20 1 0 55.0 116.3A2.8 1.3 20 1 0 60.3 118.2ZM49.0 108.1A1.3 1.1 132 1 0 50.8 106.1A1.3 1.1 132 1 0 49.0 108.1ZM64.4 136.5A1.5 1.5 63 1 0 63.0 133.8A1.5 1.5 63 1 0 64.4 136.5ZM46.4 98.7A2.7 2.0 19 1 0 41.4 97.0A2.7 2.0 19 1 0 46.4 98.7ZM69.9 151.4A1.7 0.8 29 1 0 67.0 149.8A1.7 0.8 29 1 0 69.9 151.4ZM20.1 132.6A2.2 1.5 44 1 0 16.9 129.5A2.2 1.5 44 1 0 20.1 132.6ZM90.2 123.3A1.3 0.7 113 1 0 91.2 120.8A1.3 0.7 113 1 0 90.2 123.3ZM52.2 159.5A2.3 1.1 55 1 0 49.6 155.7A2.3 1.1 55 1 0 52.2 159.5ZM38.6 120.0A3.0 1.9 168 1 0 44.4 118.7A3.0 1.9 168 1 0 38.6 120.0ZM87.0 106.9A3.2 2.2 8 1 0 80.7 106.0A3.2 2.2 8 1 0 87.0 106.9ZM37.2 146.3A1.5 1.0 104 1 0 37.9 143.3A1.5 1.0 104 1 0 37.2 146.3ZM75.1 104.9A1.5 0.7 169 1 0 78.0 104.3A1.5 0.7 169 1 0 75.1 104.9ZM59.9 107.6A2.6 1.5 93 1 0 60.2 102.5A2.6 1.5 93 1 0 59.9 107.6ZM96.5 112.6A2.8 2.4 54 1 0 93.2 108.0A2.8 2.4 54 1 0 96.5 112.6ZM32.2 124.1A3.1 1.8 34 1 0 27.0 120.6A3.1 1.8 34 1 0 32.2 124.1ZM64.2 139.5A2.1 1.5 88 1 0 64.1 135.2A2.1 1.5 88 1 0 64.2 139.5ZM33.1 135.4A2.7 1.8 41 1 0 29.0 131.8A2.7 1.8 41 1 0 33.1 135.4ZM85.0 99.8A1.7 0.9 60 1 0 83.3 96.9A1.7 0.9 60 1 0 85.0 99.8ZM22.9 117.8A2.2 1.4 66 1 0 21.1 113.7A2.2 1.4 66 1 0 22.9 117.8ZM38.3 142.9A1.3 1.0 12 1 0 35.8 142.3A1.3 1.0 12 1 0 38.3 142.9ZM39.5 109.0A1.6 1.2 7 1 0 36.4 108.7A1.6 1.2 7 1 0 39.5 109.0ZM24.9 102.3A2.2 1.6 135 1 0 28.0 99.2A2.2 1.6 135 1 0 24.9 102.3ZM39.0 98.4A2.5 2.0 17 1 0 34.2 96.9A2.5 2.0 17 1 0 39.0 98.4ZM31.2 140.6A1.6 1.0 95 1 0 31.5 137.3A1.6 1.0 95 1 0 31.2 140.6ZM92.4 131.5A1.3 1.1 168 1 0 95.0 130.9A1.3 1.1 168 1 0 92.4 131.5Z"/><path fill="#555" opacity=".3" d="M18.8 119.9A2.8 2.1 70 1 0 16.9 114.6A2.8 2.1 70 1 0 18.8 119.9ZM72.1 112.8A1.8 1.1 134 1 0 74.7 110.2A1.8 1.1 134 1 0 72.1 112.8ZM62.0 111.2A1.7 1.5 148 1 0 64.8 109.4A1.7 1.5 148 1 0 62.0 111.2ZM53.4 128.4A3.0 2.6 151 1 0 58.7 125.5A3.0 2.6 151 1 0 53.4 128.4ZM61.9 158.2A2.6 1.8 16 1 0 56.9 156.8A2.6 1.8 16 1 0 61.9 158.2ZM55.9 95.9A3.2 1.9 80 1 0 54.8 89.7A3.2 1.9 80 1 0 55.9 95.9ZM43.6 140.4A1.8 1.2 78 1 0 42.8 136.9A1.8 1.2 78 1 0 43.6 140.4ZM55.8 123.0A2.3 1.5 112 1 0 57.6 118.7A2.3 1.5 112 1 0 55.8 123.0ZM28.3 107.4A1.6 1.4 35 1 0 25.7 105.6A1.6 1.4 35 1 0 28.3 107.4ZM70.5 140.8A1.8 1.0 52 1 0 68.3 138.0A1.8 1.0 52 1 0 70.5 140.8ZM65.0 110.4A3.0 2.5 178 1 0 71.0 110.2A3.0 2.5 178 1 0 65.0 110.4ZM71.8 114.2A1.7 1.3 170 1 0 75.2 113.6A1.7 1.3 170 1 0 71.8 114.2ZM70.6 103.1A2.9 1.5 74 1 0 69.0 97.6A2.9 1.5 74 1 0 70.6 103.1ZM51.2 95.9A2.8 2.6 124 1 0 54.3 91.3A2.8 2.6 124 1 0 51.2 95.9ZM32.7 115.5A2.4 2.1 120 1 0 35.0 111.4A2.4 2.1 120 1 0 32.7 115.5ZM30.6 156.1A2.9 1.7 148 1 0 35.5 153.0A2.9 1.7 148 1 0 30.6 156.1ZM50.5 116.5A1.9 1.0 143 1 0 53.5 114.2A1.9 1.0 143 1 0 50.5 116.5ZM81.5 98.2A2.7 2.3 169 1 0 86.7 97.2A2.7 2.3 169 1 0 81.5 98.2ZM32.4 101.5A1.7 0.9 83 1 0 32.0 98.1A1.7 0.9 83 1 0 32.4 101.5ZM51.5 106.0A2.3 1.7 72 1 0 50.1 101.7A2.3 1.7 72 1 0 51.5 106.0ZM54.4 149.1A2.3 1.9 43 1 0 50.9 145.9A2.3 1.9 43 1 0 54.4 149.1ZM61.2 103.0A2.5 1.4 62 1 0 58.8 98.6A2.5 1.4 62 1 0 61.2 103.0ZM81.1 104.5A2.2 1.2 52 1 0 78.4 101.0A2.2 1.2 52 1 0 81.1 104.5ZM68.6 145.6A1.5 1.3 119 1 0 70.0 143.0A1.5 1.3 119 1 0 68.6 145.6ZM57.3 159.5A1.4 1.4 61 1 0 55.9 157.0A1.4 1.4 61 1 0 57.3 159.5ZM53.3 161.1A2.2 2.2 100 1 0 54.1 156.7A2.2 2.2 100 1 0 53.3 161.1ZM94.9 126.9A1.2 1.2 48 1 0 93.3 125.1A1.2 1.2 48 1 0 94.9 126.9ZM75.1 112.9A2.3 1.6 173 1 0 79.6 112.4A2.3 1.6 173 1 0 75.1 112.9ZM82.9 127.9A1.3 1.0 132 1 0 84.6 125.9A1.3 1.0 132 1 0 82.9 127.9ZM76.3 118.4A2.6 1.6 158 1 0 81.1 116.5A2.6 1.6 158 1 0 76.3 118.4ZM85.0 132.4A1.9 1.8 17 1 0 81.3 131.3A1.9 1.8 17 1 0 85.0 132.4ZM60.2 150.8A2.9 2.4 165 1 0 65.7 149.3A2.9 2.4 165 1 0 60.2 150.8ZM27.0 151.9A1.7 0.9 166 1 0 30.3 151.1A1.7 0.9 166 1 0 27.0 151.9ZM43.6 133.5A3.0 1.5 31 1 0 38.5 130.5A3.0 1.5 31 1 0 43.6 133.5ZM52.3 162.0A2.4 1.9 137 1 0 55.7 158.8A2.4 1.9 137 1 0 52.3 162.0ZM94.2 118.3A3.2 1.6 110 1 0 96.4 112.3A3.2 1.6 110 1 0 94.2 118.3ZM51.9 141.1A2.6 1.8 28 1 0 47.2 138.7A2.6 1.8 28 1 0 51.9 141.1ZM20.2 136.6A3.2 2.0 176 1 0 26.5 136.2A3.2 2.0 176 1 0 20.2 136.6ZM49.6 144.5A2.0 1.8 35 1 0 46.4 142.2A2.0 1.8 35 1 0 49.6 144.5ZM58.9 158.7A2.6 2.4 120 1 0 61.5 154.2A2.6 2.4 120 1 0 58.9 158.7ZM86.6 134.6A1.4 1.0 179 1 0 89.5 134.5A1.4 1.0 179 1 0 86.6 134.6ZM50.2 101.3A3.2 2.4 22 1 0 44.4 98.9A3.2 2.4 22 1 0 50.2 101.3ZM38.7 113.0A2.2 1.7 1 1 0 34.3 112.9A2.2 1.7 1 1 0 38.7 113.0ZM71.7 146.4A1.6 1.1 20 1 0 68.7 145.3A1.6 1.1 20 1 0 71.7 146.4ZM75.0 96.4A2.6 2.4 46 1 0 71.5 92.7A2.6 2.4 46 1 0 75.0 96.4ZM55.5 161.0A2.6 1.5 25 1 0 50.8 158.8A2.6 1.5 25 1 0 55.5 161.0ZM40.2 151.3A1.3 1.1 53 1 0 38.7 149.3A1.3 1.1 53 1 0 40.2 151.3ZM82.6 139.7A1.8 0.8 22 1 0 79.4 138.4A1.8 0.8 22 1 0 82.6 139.7ZM24.8 139.7A2.4 1.9 36 1 0 20.9 136.9A2.4 1.9 36 1 0 24.8 139.7ZM53.3 151.0A1.3 0.8 15 1 0 50.8 150.3A1.3 0.8 15 1 0 53.3 151.0ZM88.0 104.6A2.7 2.6 166 1 0 93.3 103.3A2.7 2.6 166 1 0 88.0 104.6ZM58.3 155.9A3.1 2.9 110 1 0 60.4 150.0A3.1 2.9 110 1 0 58.3 155.9ZM57.4 109.6A1.5 1.4 21 1 0 54.5 108.5A1.5 1.4 21 1 0 57.4 109.6ZM50.4 127.8A3.1 2.7 115 1 0 53.0 122.2A3.1 2.7 115 1 0 50.4 127.8ZM64.6 100.7A1.8 1.6 121 1 0 66.4 97.7A1.8 1.6 121 1 0 64.6 100.7ZM48.8 144.5A2.3 1.3 166 1 0 53.2 143.4A2.3 1.3 166 1 0 48.8 144.5ZM44.2 140.7A1.2 1.2 122 1 0 45.5 138.6A1.2 1.2 122 1 0 44.2 140.7ZM44.1 153.8A2.7 2.2 49 1 0 40.5 149.8A2.7 2.2 49 1 0 44.1 153.8ZM46.5 118.5A2.5 1.2 61 1 0 44.1 114.1A2.5 1.2 61 1 0 46.5 118.5ZM30.7 132.4A1.7 1.2 148 1 0 33.6 130.6A1.7 1.2 148 1 0 30.7 132.4ZM18.0 125.4A2.8 2.8 73 1 0 16.3 120.0A2.8 2.8 73 1 0 18.0 125.4ZM19.7 109.5A1.6 1.0 103 1 0 20.5 106.3A1.6 1.0 103 1 0 19.7 109.5ZM71.9 124.4A1.6 1.1 100 1 0 72.4 121.3A1.6 1.1 100 1 0 71.9 124.4ZM91.5 133.9A2.0 1.5 1 1 0 87.5 133.8A2.0 1.5 1 1 0 91.5 133.9ZM36.9 157.0A1.7 1.0 178 1 0 40.4 156.9A1.7 1.0 178 1 0 36.9 157.0ZM83.4 123.4A1.8 0.8 120 1 0 85.2 120.3A1.8 0.8 120 1 0 83.4 123.4ZM15.6 133.8A1.6 1.3 159 1 0 18.6 132.6A1.6 1.3 159 1 0 15.6 133.8ZM19.1 139.6A2.3 1.2 27 1 0 14.9 137.5A2.3 1.2 27 1 0 19.1 139.6ZM28.4 116.2A2.5 1.5 57 1 0 25.7 111.9A2.5 1.5 57 1 0 28.4 116.2ZM55.7 149.1A2.6 1.7 116 1 0 58.0 144.3A2.6 1.7 116 1 0 55.7 149.1Z"/><path fill="#2a2a2a" opacity=".6" d="M78.8 123.0A0.7 0.5 13 1 0 77.5 122.7A0.7 0.5 13 1 0 78.8 123.0ZM74.3 102.0A0.8 0.8 131 1 0 75.3 100.8A0.8 0.8 131 1 0 74.3 102.0ZM38.4 110.0A0.8 0.6 157 1 0 39.9 109.3A0.8 0.6 157 1 0 38.4 110.0ZM36.3 104.7A1.3 0.9 168 1 0 38.8 104.2A1.3 0.9 168 1 0 36.3 104.7ZM46.9 150.8A1.4 1.1 65 1 0 45.8 148.3A1.4 1.1 65 1 0 46.9 150.8ZM68.3 145.4A1.3 1.0 164 1 0 70.8 144.7A1.3 1.0 164 1 0 68.3 145.4ZM48.0 114.6A0.8 0.7 88 1 0 48.0 113.0A0.8 0.7 88 1 0 48.0 114.6ZM88.7 105.0A0.9 0.8 140 1 0 90.1 103.8A0.9 0.8 140 1 0 88.7 105.0ZM31.6 100.1A0.9 0.5 58 1 0 30.6 98.6A0.9 0.5 58 1 0 31.6 100.1ZM89.0 143.9A0.9 0.8 153 1 0 90.5 143.1A0.9 0.8 153 1 0 89.0 143.9ZM54.1 160.2A1.0 0.9 171 1 0 56.1 159.9A1.0 0.9 171 1 0 54.1 160.2ZM87.8 135.2A0.9 0.9 46 1 0 86.5 133.8A0.9 0.9 46 1 0 87.8 135.2ZM88.6 101.1A1.1 0.6 53 1 0 87.2 99.4A1.1 0.6 53 1 0 88.6 101.1ZM53.3 156.2A1.4 1.2 130 1 0 55.0 154.1A1.4 1.2 130 1 0 53.3 156.2Z"/><path fill="#2a2a2a" opacity=".85" d="M70.0 130.1A1.2 0.8 43 1 0 68.2 128.5A1.2 0.8 43 1 0 70.0 130.1ZM31.4 120.0A1.3 1.1 31 1 0 29.1 118.6A1.3 1.1 31 1 0 31.4 120.0ZM88.4 125.2A1.1 0.6 121 1 0 89.5 123.3A1.1 0.6 121 1 0 88.4 125.2ZM29.9 106.3A1.3 1.2 51 1 0 28.2 104.2A1.3 1.2 51 1 0 29.9 106.3ZM63.9 156.3A1.5 1.0 68 1 0 62.8 153.6A1.5 1.0 68 1 0 63.9 156.3ZM95.3 113.9A1.2 0.8 28 1 0 93.2 112.8A1.2 0.8 28 1 0 95.3 113.9ZM74.1 146.3A1.3 0.8 97 1 0 74.4 143.6A1.3 0.8 97 1 0 74.1 146.3ZM51.0 125.8A1.3 1.2 92 1 0 51.1 123.3A1.3 1.2 92 1 0 51.0 125.8ZM41.0 135.5A1.0 0.6 163 1 0 43.0 134.9A1.0 0.6 163 1 0 41.0 135.5ZM45.1 149.7A1.5 1.0 81 1 0 44.6 146.8A1.5 1.0 81 1 0 45.1 149.7ZM62.7 150.2A1.1 0.8 3 1 0 60.5 150.1A1.1 0.8 3 1 0 62.7 150.2ZM87.2 138.9A0.8 0.5 168 1 0 88.8 138.6A0.8 0.5 168 1 0 87.2 138.9ZM72.8 101.2A1.4 0.7 6 1 0 70.0 100.9A1.4 0.7 6 1 0 72.8 101.2ZM73.9 122.6A0.7 0.5 25 1 0 72.7 122.0A0.7 0.5 25 1 0 73.9 122.6ZM29.7 145.1A1.3 0.8 40 1 0 27.6 143.4A1.3 0.8 40 1 0 29.7 145.1ZM43.1 143.2A1.4 0.9 84 1 0 42.8 140.4A1.4 0.9 84 1 0 43.1 143.2Z"/><path fill="#e8e8e8" opacity=".85" d="M51.2 103.3A0.9 0.5 7 1 0 49.5 103.0A0.9 0.5 7 1 0 51.2 103.3ZM47.4 135.1A0.9 0.5 55 1 0 46.3 133.6A0.9 0.5 55 1 0 47.4 135.1ZM55.4 125.5A0.7 0.3 42 1 0 54.4 124.5A0.7 0.3 42 1 0 55.4 125.5ZM94.3 123.6A0.7 0.3 36 1 0 93.2 122.8A0.7 0.3 36 1 0 94.3 123.6ZM37.9 105.1A0.9 0.6 62 1 0 37.1 103.6A0.9 0.6 62 1 0 37.9 105.1ZM36.4 127.9A0.8 0.6 151 1 0 37.8 127.1A0.8 0.6 151 1 0 36.4 127.9ZM43.9 117.3A1.1 0.7 165 1 0 46.1 116.8A1.1 0.7 165 1 0 43.9 117.3Z"/><path fill="#e8e8e8" opacity=".6" d="M76.6 109.7A0.9 0.7 59 1 0 75.6 108.1A0.9 0.7 59 1 0 76.6 109.7ZM62.6 156.1A0.8 0.7 118 1 0 63.4 154.6A0.8 0.7 118 1 0 62.6 156.1ZM72.3 142.6A0.9 0.8 125 1 0 73.4 141.1A0.9 0.8 125 1 0 72.3 142.6ZM86.6 118.2A1.1 0.7 114 1 0 87.5 116.2A1.1 0.7 114 1 0 86.6 118.2ZM51.7 159.1A1.2 0.7 128 1 0 53.2 157.2A1.2 0.7 128 1 0 51.7 159.1Z"/>
<path d="M18.0,95.3C18.0,94.4 19.2,93.1 20.0,92.8C20.8,92.5 22.5,92.8 23.0,93.5C23.5,94.2 23.5,96.2 23.0,97.0C22.5,97.8 20.8,98.3 20.0,98.0C19.2,97.7 18.0,96.2 18.0,95.3Z" fill="#8a8a8a" stroke="#444" stroke-width="1" stroke-opacity="0.8"/>

<path fill="#2a2a2a" opacity=".85" d="M34.5 141.8A1.1 0.6 90 1 0 34.5 139.6A1.1 0.6 90 1 0 34.5 141.8ZM49.0 138.9A1.2 1.2 40 1 0 47.2 137.3A1.2 1.2 40 1 0 49.0 138.9ZM60.1 129.2A1.1 0.9 29 1 0 58.2 128.1A1.1 0.9 29 1 0 60.1 129.2ZM65.7 137.8A1.3 1.0 93 1 0 65.9 135.2A1.3 1.0 93 1 0 65.7 137.8ZM59.2 137.2A0.6 0.6 126 1 0 59.9 136.2A0.6 0.6 126 1 0 59.2 137.2ZM50.1 142.2A0.7 0.7 49 1 0 49.2 141.2A0.7 0.7 49 1 0 50.1 142.2ZM54.9 129.2A0.8 0.4 160 1 0 56.3 128.7A0.8 0.4 160 1 0 54.9 129.2ZM64.1 136.0A0.7 0.4 40 1 0 63.0 135.1A0.7 0.4 40 1 0 64.1 136.0ZM58.9 140.4A1.1 0.5 106 1 0 59.5 138.3A1.1 0.5 106 1 0 58.9 140.4ZM55.1 130.0A0.9 0.8 122 1 0 56.1 128.4A0.9 0.8 122 1 0 55.1 130.0ZM65.8 142.6A1.2 0.8 48 1 0 64.3 140.9A1.2 0.8 48 1 0 65.8 142.6ZM55.9 132.2A1.3 0.8 40 1 0 53.9 130.6A1.3 0.8 40 1 0 55.9 132.2ZM64.3 139.6A0.7 0.6 75 1 0 63.9 138.2A0.7 0.6 75 1 0 64.3 139.6ZM44.1 141.3A1.1 0.8 20 1 0 42.0 140.5A1.1 0.8 20 1 0 44.1 141.3ZM56.9 137.6A0.7 0.5 54 1 0 56.1 136.5A0.7 0.5 54 1 0 56.9 137.6ZM30.1 131.1A1.3 0.8 146 1 0 32.3 129.7A1.3 0.8 146 1 0 30.1 131.1ZM54.9 137.8A0.8 0.7 102 1 0 55.2 136.2A0.8 0.7 102 1 0 54.9 137.8Z"/><path fill="#2a2a2a" opacity=".6" d="M48.6 137.7A1.3 1.2 160 1 0 51.0 136.8A1.3 1.2 160 1 0 48.6 137.7ZM42.7 141.8A1.3 1.0 87 1 0 42.6 139.2A1.3 1.0 87 1 0 42.7 141.8ZM49.7 140.3A0.9 0.9 85 1 0 49.5 138.6A0.9 0.9 85 1 0 49.7 140.3ZM38.3 137.5A1.1 1.0 94 1 0 38.5 135.3A1.1 1.0 94 1 0 38.3 137.5ZM35.3 138.1A0.6 0.4 35 1 0 34.3 137.4A0.6 0.4 35 1 0 35.3 138.1ZM34.9 130.3A0.7 0.4 36 1 0 33.8 129.5A0.7 0.4 36 1 0 34.9 130.3ZM29.2 135.0A1.3 0.9 152 1 0 31.4 133.9A1.3 0.9 152 1 0 29.2 135.0ZM34.2 131.2A0.7 0.4 5 1 0 32.9 131.1A0.7 0.4 5 1 0 34.2 131.2ZM41.7 138.3A0.8 0.5 46 1 0 40.7 137.3A0.8 0.5 46 1 0 41.7 138.3ZM35.7 133.4A1.4 0.9 111 1 0 36.8 130.7A1.4 0.9 111 1 0 35.7 133.4ZM40.1 133.1A1.0 0.7 172 1 0 42.1 132.8A1.0 0.7 172 1 0 40.1 133.1ZM48.6 138.1A0.6 0.5 115 1 0 49.2 137.0A0.6 0.5 115 1 0 48.6 138.1ZM46.6 126.6A1.2 1.0 12 1 0 44.3 126.1A1.2 1.0 12 1 0 46.6 126.6ZM37.9 142.1A1.3 1.2 148 1 0 40.1 140.7A1.3 1.2 148 1 0 37.9 142.1ZM49.7 136.5A1.5 1.4 125 1 0 51.4 134.1A1.5 1.4 125 1 0 49.7 136.5ZM52.3 133.9A1.4 0.8 26 1 0 49.7 132.6A1.4 0.8 26 1 0 52.3 133.9ZM53.3 138.0A1.5 0.8 173 1 0 56.2 137.7A1.5 0.8 173 1 0 53.3 138.0ZM40.0 137.6A1.4 1.2 90 1 0 40.0 134.9A1.4 1.2 90 1 0 40.0 137.6Z"/>
<path fill="#2a2a2a" opacity=".6" d="M21.5 134.9A0.8 0.7 113 1 0 22.2 133.4A0.8 0.7 113 1 0 21.5 134.9ZM19.6 128.2A1.4 1.3 55 1 0 18.0 126.0A1.4 1.3 55 1 0 19.6 128.2ZM12.4 129.4A1.3 0.7 128 1 0 14.1 127.3A1.3 0.7 128 1 0 12.4 129.4ZM15.3 130.3A1.4 0.9 64 1 0 14.1 127.7A1.4 0.9 64 1 0 15.3 130.3ZM21.4 139.3A1.4 1.0 106 1 0 22.1 136.7A1.4 1.0 106 1 0 21.4 139.3ZM25.9 144.9A1.2 1.1 167 1 0 28.3 144.4A1.2 1.1 167 1 0 25.9 144.9ZM17.6 146.2A1.5 1.4 133 1 0 19.6 144.0A1.5 1.4 133 1 0 17.6 146.2ZM22.3 139.4A1.0 0.6 120 1 0 23.2 137.7A1.0 0.6 120 1 0 22.3 139.4ZM15.7 128.1A0.9 0.5 127 1 0 16.8 126.6A0.9 0.5 127 1 0 15.7 128.1ZM16.7 139.1A0.9 0.5 117 1 0 17.5 137.6A0.9 0.5 117 1 0 16.7 139.1ZM27.8 141.6A1.1 1.0 92 1 0 27.8 139.4A1.1 1.0 92 1 0 27.8 141.6ZM13.1 130.5A0.9 0.7 107 1 0 13.6 128.8A0.9 0.7 107 1 0 13.1 130.5ZM13.0 137.4A0.7 0.6 175 1 0 14.4 137.3A0.7 0.6 175 1 0 13.0 137.4ZM15.5 128.2A0.8 0.6 68 1 0 14.9 126.7A0.8 0.6 68 1 0 15.5 128.2ZM27.8 140.3A1.3 0.7 45 1 0 25.9 138.4A1.3 0.7 45 1 0 27.8 140.3Z"/><path fill="#2a2a2a" opacity=".85" d="M17.4 137.0A1.2 1.1 155 1 0 19.7 135.9A1.2 1.1 155 1 0 17.4 137.0ZM15.4 126.7A0.7 0.7 16 1 0 14.0 126.3A0.7 0.7 16 1 0 15.4 126.7ZM21.2 128.1A1.0 1.0 41 1 0 19.7 126.7A1.0 1.0 41 1 0 21.2 128.1ZM11.5 132.9A1.2 0.9 123 1 0 12.7 131.0A1.2 0.9 123 1 0 11.5 132.9ZM28.2 133.7A1.1 0.6 89 1 0 28.1 131.5A1.1 0.6 89 1 0 28.2 133.7Z"/>
<path fill="#2a2a2a" opacity=".85" d="M37.3 99.6A1.1 1.0 172 1 0 39.5 99.3A1.1 1.0 172 1 0 37.3 99.6ZM56.1 101.2A1.3 1.0 94 1 0 56.2 98.7A1.3 1.0 94 1 0 56.1 101.2ZM41.9 105.3A0.7 0.5 139 1 0 42.9 104.4A0.7 0.5 139 1 0 41.9 105.3ZM40.1 100.9A1.4 0.7 61 1 0 38.8 98.4A1.4 0.7 61 1 0 40.1 100.9ZM36.7 101.4A1.3 1.1 166 1 0 39.2 100.8A1.3 1.1 166 1 0 36.7 101.4Z"/><path fill="#2a2a2a" opacity=".6" d="M58.4 100.1A1.3 1.3 69 1 0 57.4 97.5A1.3 1.3 69 1 0 58.4 100.1ZM51.9 103.4A1.4 0.7 13 1 0 49.2 102.8A1.4 0.7 13 1 0 51.9 103.4ZM40.8 100.2A0.7 0.4 40 1 0 39.6 99.2A0.7 0.4 40 1 0 40.8 100.2ZM53.1 104.1A1.0 0.5 115 1 0 54.0 102.2A1.0 0.5 115 1 0 53.1 104.1ZM47.4 106.8A0.8 0.5 131 1 0 48.4 105.7A0.8 0.5 131 1 0 47.4 106.8Z"/>
<path d="M24.0,137.5C24.6,136.1 26.0,131.6 27.6,129.2C29.2,126.8 30.9,124.8 33.5,123.2C36.1,121.7 39.4,120.6 43.0,119.7C46.6,118.8 51.3,117.9 54.9,118.0C58.5,118.1 60.8,119.5 64.4,120.4C68.0,121.3 73.1,121.8 76.2,123.2C79.4,124.7 82.6,127.0 83.4,129.2C84.2,131.4 83.0,134.4 81.0,136.3C79.0,138.2 74.7,139.1 71.5,140.4C68.3,141.7 63.6,143.6 62.0,144.2" fill="none" stroke="#eeeeee" stroke-width="1.3"/>
<path d="M28.8,107.8C30.3,107.3 34.7,104.7 38.2,104.7C41.8,104.7 47.1,106.5 50.1,107.8C53.1,109.1 55.0,111.8 56.0,112.6" fill="none" stroke="#eeeeee" stroke-width="1.2"/>
<path d="M21.6,137.5C22.2,138.5 23.4,142.0 25.2,143.4C27.0,144.8 31.1,145.4 32.3,145.8" fill="none" stroke="#eeeeee" stroke-width="1.1"/>
<path d="M46.0,124.0C47.0,123.8 50.0,122.4 52.0,122.5C54.0,122.6 57.0,124.2 58.0,124.5" fill="none" stroke="#e6e6e6" stroke-width="1"/>
<ellipse cx="65.6" cy="102.35" rx="4.7" ry="2.8" fill="none" stroke="#efefef" stroke-width="1.2"/>
<ellipse cx="72.7" cy="112.6" rx="6" ry="3.6" fill="none" stroke="#efefef" stroke-width="1.3"/>
<g fill="#f0f0f0"><circle cx="78.6" cy="99.5" r="2.2"/><circle cx="81" cy="107.8" r="1.4"/><circle cx="87" cy="113.75" r="1.2"/><circle cx="76.25" cy="104.25" r="1.4"/><ellipse cx="83.4" cy="144.6" rx="2.8" ry="1.4"/><circle cx="85.75" cy="139.9" r="1.1"/><circle cx="70" cy="98" r="1.3"/><circle cx="90" cy="122" r="1"/></g>
</g>
<clipPath id="em3"><rect x="101.8" y="91.5" width="92.4" height="71.5"/></clipPath>
<g clip-path="url(#em3)">
<rect x="101.8" y="91.5" width="92.4" height="71.5" fill="#dadada"/>
<path d="M121.4,93.5C122.7,92.8 126.6,92.1 130.0,92.0C133.4,91.9 140.3,92.2 141.6,93.0C142.9,93.8 140.3,95.8 138.0,96.5C135.7,97.2 130.7,97.1 128.0,97.0C125.3,96.9 123.1,96.6 122.0,96.0C120.9,95.4 120.1,94.2 121.4,93.5Z" fill="#787878" stroke="#444" stroke-width="1" stroke-opacity="0.8"/>
<path fill="#aaa" opacity=".3" d="M128.8 93.3A1.3 0.7 160 1 0 131.3 92.4A1.3 0.7 160 1 0 128.8 93.3ZM136.5 94.4A1.3 0.6 130 1 0 138.2 92.4A1.3 0.6 130 1 0 136.5 94.4Z"/><path fill="#555" opacity=".3" d="M130.4 94.6A1.6 1.0 61 1 0 128.8 91.7A1.6 1.0 61 1 0 130.4 94.6Z"/>
<path d="M139.0,96.0C139.5,95.2 141.8,94.7 143.0,95.0C144.2,95.3 145.8,97.0 146.0,98.0C146.2,99.0 145.0,100.7 144.0,101.0C143.0,101.3 140.8,100.8 140.0,100.0C139.2,99.2 138.5,96.8 139.0,96.0Z" fill="#858585" stroke="#444" stroke-width="1" stroke-opacity="0.8"/>
<path fill="#aaa" opacity=".45" d="M140.5 99.0A1.6 0.8 93 1 0 140.6 95.8A1.6 0.8 93 1 0 140.5 99.0Z"/>
<path d="M102.9,113.5C103.2,112.7 104.9,111.5 106.0,111.4C107.1,111.3 109.2,112.2 109.5,113.0C109.8,113.8 108.9,115.5 108.0,116.0C107.1,116.5 104.8,116.4 104.0,116.0C103.2,115.6 102.6,114.3 102.9,113.5Z" fill="#8a8a8a" stroke="#444" stroke-width="1" stroke-opacity="0.8"/>
<path fill="#555" opacity=".45" d="M102.6 112.8A2.5 1.5 176 1 0 107.6 112.4A2.5 1.5 176 1 0 102.6 112.8Z"/>
<path d="M104.8,137.5C105.3,133.9 107.1,127.6 109.5,123.2C111.9,118.9 115.0,114.6 119.0,111.4C123.0,108.2 128.5,106.2 133.2,104.2C138.0,102.3 142.4,100.4 147.5,99.5C152.6,98.6 158.9,98.6 164.1,99.0C169.2,99.4 174.4,100.2 178.4,101.9C182.4,103.6 185.7,105.8 187.9,109.0C190.1,112.2 191.1,116.9 191.4,120.9C191.8,124.9 191.6,129.2 190.2,132.8C188.9,136.3 186.3,139.5 183.1,142.2C179.9,145.0 175.6,147.4 171.2,149.4C166.9,151.4 162.1,152.9 157.0,154.1C151.9,155.3 145.9,156.3 140.4,156.5C134.9,156.7 128.5,156.1 123.8,155.3C119.0,154.5 114.9,153.5 111.9,151.8C108.9,150.0 107.1,147.0 105.9,144.6C104.7,142.2 104.2,141.1 104.8,137.5Z" fill="#828282" stroke="#444" stroke-width="1" stroke-opacity="0.8"/>
<path fill="#555" opacity=".45" d="M176.7 103.4A1.4 0.7 160 1 0 179.3 102.5A1.4 0.7 160 1 0 176.7 103.4ZM118.8 148.6A2.0 1.8 112 1 0 120.3 144.9A2.0 1.8 112 1 0 118.8 148.6ZM117.1 121.8A2.5 1.1 21 1 0 112.4 120.0A2.5 1.1 21 1 0 117.1 121.8ZM173.0 149.5A2.3 1.4 86 1 0 172.7 145.0A2.3 1.4 86 1 0 173.0 149.5ZM131.3 108.0A2.5 1.7 63 1 0 129.1 103.6A2.5 1.7 63 1 0 131.3 108.0ZM168.1 149.4A2.3 1.7 8 1 0 163.6 148.8A2.3 1.7 8 1 0 168.1 149.4ZM176.3 129.4A2.7 1.5 78 1 0 175.2 124.1A2.7 1.5 78 1 0 176.3 129.4ZM142.3 104.4A1.9 1.6 167 1 0 146.1 103.5A1.9 1.6 167 1 0 142.3 104.4ZM188.3 131.7A2.5 2.5 86 1 0 188.0 126.6A2.5 2.5 86 1 0 188.3 131.7ZM147.4 142.4A2.7 1.5 50 1 0 144.0 138.3A2.7 1.5 50 1 0 147.4 142.4ZM128.9 129.5A2.6 2.5 73 1 0 127.4 124.5A2.6 2.5 73 1 0 128.9 129.5ZM142.3 120.0A3.1 1.7 71 1 0 140.2 114.1A3.1 1.7 71 1 0 142.3 120.0ZM140.5 110.3A2.8 2.0 112 1 0 142.6 105.2A2.8 2.0 112 1 0 140.5 110.3ZM139.0 112.4A2.8 2.4 85 1 0 138.5 106.9A2.8 2.4 85 1 0 139.0 112.4ZM169.0 111.9A2.4 1.8 25 1 0 164.7 109.9A2.4 1.8 25 1 0 169.0 111.9ZM161.0 135.8A2.2 1.1 79 1 0 160.2 131.4A2.2 1.1 79 1 0 161.0 135.8ZM158.6 130.9A2.3 1.4 119 1 0 160.8 126.9A2.3 1.4 119 1 0 158.6 130.9ZM139.6 113.7A2.4 2.2 40 1 0 135.8 110.5A2.4 2.2 40 1 0 139.6 113.7ZM123.3 130.8A1.9 1.1 42 1 0 120.5 128.3A1.9 1.1 42 1 0 123.3 130.8ZM174.2 120.8A2.7 1.2 174 1 0 179.5 120.3A2.7 1.2 174 1 0 174.2 120.8ZM152.9 108.8A2.2 1.7 79 1 0 152.1 104.6A2.2 1.7 79 1 0 152.9 108.8ZM142.2 148.9A2.3 2.0 114 1 0 144.1 144.6A2.3 2.0 114 1 0 142.2 148.9ZM124.2 151.2A1.9 0.9 16 1 0 120.5 150.1A1.9 0.9 16 1 0 124.2 151.2ZM182.5 130.8A2.4 2.2 179 1 0 187.4 130.7A2.4 2.2 179 1 0 182.5 130.8ZM152.8 123.3A2.8 2.5 69 1 0 150.8 118.0A2.8 2.5 69 1 0 152.8 123.3ZM115.8 124.6A2.8 2.0 6 1 0 110.2 124.0A2.8 2.0 6 1 0 115.8 124.6ZM154.8 152.4A1.7 1.1 72 1 0 153.7 149.2A1.7 1.1 72 1 0 154.8 152.4ZM138.1 133.8A1.6 1.1 65 1 0 136.7 130.8A1.6 1.1 65 1 0 138.1 133.8ZM159.9 104.9A3.1 2.2 172 1 0 166.1 104.1A3.1 2.2 172 1 0 159.9 104.9ZM162.2 134.5A3.1 1.7 26 1 0 156.6 131.8A3.1 1.7 26 1 0 162.2 134.5ZM144.5 104.3A2.5 2.1 140 1 0 148.3 101.2A2.5 2.1 140 1 0 144.5 104.3ZM125.5 113.7A2.9 1.7 0 1 0 119.7 113.7A2.9 1.7 0 1 0 125.5 113.7ZM171.6 148.8A1.4 1.2 5 1 0 168.7 148.5A1.4 1.2 5 1 0 171.6 148.8ZM172.7 148.5A2.2 1.2 54 1 0 170.1 145.0A2.2 1.2 54 1 0 172.7 148.5ZM162.2 151.4A2.1 0.9 161 1 0 166.1 150.0A2.1 0.9 161 1 0 162.2 151.4ZM133.0 121.7A2.6 1.9 17 1 0 127.9 120.2A2.6 1.9 17 1 0 133.0 121.7ZM158.8 138.2A2.7 2.5 76 1 0 157.5 133.0A2.7 2.5 76 1 0 158.8 138.2ZM155.3 138.2A1.7 1.7 99 1 0 155.9 134.8A1.7 1.7 99 1 0 155.3 138.2ZM180.3 113.1A2.3 1.6 169 1 0 184.8 112.2A2.3 1.6 169 1 0 180.3 113.1ZM166.7 134.7A2.6 1.6 47 1 0 163.1 130.9A2.6 1.6 47 1 0 166.7 134.7ZM162.9 105.3A2.8 2.0 29 1 0 158.0 102.6A2.8 2.0 29 1 0 162.9 105.3ZM131.0 148.2A1.8 1.1 131 1 0 133.4 145.5A1.8 1.1 131 1 0 131.0 148.2ZM125.8 156.6A3.0 3.0 156 1 0 131.2 154.2A3.0 3.0 156 1 0 125.8 156.6ZM126.2 141.1A1.9 1.6 118 1 0 128.0 137.8A1.9 1.6 118 1 0 126.2 141.1ZM118.1 136.9A1.8 1.6 164 1 0 121.6 135.9A1.8 1.6 164 1 0 118.1 136.9ZM159.8 138.6A1.3 0.7 175 1 0 162.3 138.4A1.3 0.7 175 1 0 159.8 138.6ZM160.3 123.2A2.0 1.3 142 1 0 163.4 120.8A2.0 1.3 142 1 0 160.3 123.2ZM182.9 116.4A2.8 2.0 47 1 0 179.1 112.4A2.8 2.0 47 1 0 182.9 116.4ZM134.4 106.3A1.5 1.3 73 1 0 133.5 103.4A1.5 1.3 73 1 0 134.4 106.3ZM114.1 142.1A2.4 1.7 73 1 0 112.7 137.6A2.4 1.7 73 1 0 114.1 142.1ZM141.2 111.5A1.8 1.5 129 1 0 143.5 108.8A1.8 1.5 129 1 0 141.2 111.5ZM130.5 124.8A2.2 1.6 28 1 0 126.5 122.7A2.2 1.6 28 1 0 130.5 124.8ZM175.0 135.8A1.5 1.5 19 1 0 172.1 134.8A1.5 1.5 19 1 0 175.0 135.8ZM177.3 128.3A2.2 1.4 148 1 0 181.1 126.0A2.2 1.4 148 1 0 177.3 128.3ZM130.3 155.8A2.5 1.7 138 1 0 133.9 152.5A2.5 1.7 138 1 0 130.3 155.8ZM149.6 106.0A1.4 1.1 129 1 0 151.3 103.9A1.4 1.1 129 1 0 149.6 106.0ZM153.8 155.9A2.8 2.7 132 1 0 157.5 151.8A2.8 2.7 132 1 0 153.8 155.9ZM120.9 125.0A2.9 2.8 4 1 0 115.2 124.6A2.9 2.8 4 1 0 120.9 125.0ZM149.5 145.6A1.3 0.7 140 1 0 151.5 143.9A1.3 0.7 140 1 0 149.5 145.6ZM182.2 122.6A1.5 1.0 160 1 0 184.9 121.6A1.5 1.0 160 1 0 182.2 122.6ZM142.9 102.5A1.9 1.1 116 1 0 144.6 99.1A1.9 1.1 116 1 0 142.9 102.5ZM151.3 140.6A1.5 1.0 72 1 0 150.4 137.8A1.5 1.0 72 1 0 151.3 140.6ZM142.4 126.1A1.6 1.5 97 1 0 142.8 123.0A1.6 1.5 97 1 0 142.4 126.1ZM159.3 105.5A1.4 0.7 65 1 0 158.1 102.8A1.4 0.7 65 1 0 159.3 105.5ZM140.2 156.6A2.2 1.4 164 1 0 144.3 155.4A2.2 1.4 164 1 0 140.2 156.6ZM138.6 107.1A1.8 1.7 156 1 0 142.0 105.6A1.8 1.7 156 1 0 138.6 107.1ZM182.5 137.8A2.9 2.0 137 1 0 186.8 133.8A2.9 2.0 137 1 0 182.5 137.8ZM175.1 123.3A2.9 1.6 105 1 0 176.5 117.8A2.9 1.6 105 1 0 175.1 123.3ZM137.2 125.2A2.4 2.2 93 1 0 137.4 120.5A2.4 2.2 93 1 0 137.2 125.2ZM132.6 146.0A3.0 1.7 137 1 0 136.9 142.0A3.0 1.7 137 1 0 132.6 146.0ZM115.4 129.9A2.7 1.7 167 1 0 120.6 128.7A2.7 1.7 167 1 0 115.4 129.9ZM173.4 126.6A2.6 1.7 143 1 0 177.6 123.5A2.6 1.7 143 1 0 173.4 126.6Z"/><path fill="#aaa" opacity=".45" d="M111.6 129.2A2.2 1.2 144 1 0 115.2 126.6A2.2 1.2 144 1 0 111.6 129.2ZM114.6 118.8A1.3 1.0 89 1 0 114.5 116.2A1.3 1.0 89 1 0 114.6 118.8ZM153.4 124.6A1.7 1.6 29 1 0 150.4 123.0A1.7 1.6 29 1 0 153.4 124.6ZM129.7 152.0A2.8 2.6 164 1 0 135.0 150.5A2.8 2.6 164 1 0 129.7 152.0ZM113.4 119.9A2.3 2.3 168 1 0 118.0 118.9A2.3 2.3 168 1 0 113.4 119.9ZM124.7 149.7A3.0 1.7 31 1 0 119.5 146.6A3.0 1.7 31 1 0 124.7 149.7ZM188.7 121.1A1.4 1.2 35 1 0 186.4 119.4A1.4 1.2 35 1 0 188.7 121.1ZM175.8 130.4A2.6 2.3 74 1 0 174.4 125.3A2.6 2.3 74 1 0 175.8 130.4ZM132.5 126.5A1.9 1.7 29 1 0 129.1 124.6A1.9 1.7 29 1 0 132.5 126.5ZM138.6 136.0A2.8 2.4 149 1 0 143.4 133.1A2.8 2.4 149 1 0 138.6 136.0ZM115.0 138.2A3.2 2.0 45 1 0 110.4 133.7A3.2 2.0 45 1 0 115.0 138.2ZM148.1 140.9A2.0 1.4 28 1 0 144.7 139.0A2.0 1.4 28 1 0 148.1 140.9ZM152.5 100.8A2.1 1.3 163 1 0 156.6 99.6A2.1 1.3 163 1 0 152.5 100.8ZM141.0 123.1A2.6 2.2 103 1 0 142.2 118.0A2.6 2.2 103 1 0 141.0 123.1ZM143.5 119.6A1.5 0.8 153 1 0 146.2 118.2A1.5 0.8 153 1 0 143.5 119.6ZM111.0 118.7A2.6 2.5 169 1 0 116.2 117.7A2.6 2.5 169 1 0 111.0 118.7ZM115.5 128.9A1.9 1.8 123 1 0 117.5 125.8A1.9 1.8 123 1 0 115.5 128.9ZM145.2 133.3A2.7 2.6 77 1 0 144.0 128.2A2.7 2.6 77 1 0 145.2 133.3ZM123.9 121.6A1.7 1.4 157 1 0 126.9 120.3A1.7 1.4 157 1 0 123.9 121.6ZM128.5 151.5A1.6 1.1 33 1 0 125.8 149.8A1.6 1.1 33 1 0 128.5 151.5ZM185.5 119.4A2.6 2.1 70 1 0 183.7 114.6A2.6 2.1 70 1 0 185.5 119.4ZM138.0 113.7A1.8 0.9 105 1 0 139.0 110.2A1.8 0.9 105 1 0 138.0 113.7ZM162.3 134.2A2.5 1.4 84 1 0 161.8 129.3A2.5 1.4 84 1 0 162.3 134.2ZM140.6 106.6A1.4 0.9 160 1 0 143.1 105.7A1.4 0.9 160 1 0 140.6 106.6Z"/><path fill="#555" opacity=".3" d="M177.4 117.6A3.1 2.8 36 1 0 172.4 114.0A3.1 2.8 36 1 0 177.4 117.6ZM113.0 125.0A2.5 1.2 19 1 0 108.2 123.3A2.5 1.2 19 1 0 113.0 125.0ZM146.9 129.4A2.0 1.7 136 1 0 149.8 126.6A2.0 1.7 136 1 0 146.9 129.4ZM109.5 139.4A1.7 0.8 109 1 0 110.6 136.2A1.7 0.8 109 1 0 109.5 139.4ZM133.3 124.5A2.5 1.7 96 1 0 133.8 119.5A2.5 1.7 96 1 0 133.3 124.5ZM174.4 106.7A1.7 1.5 79 1 0 173.8 103.3A1.7 1.5 79 1 0 174.4 106.7ZM144.7 112.4A1.2 0.6 94 1 0 144.9 110.0A1.2 0.6 94 1 0 144.7 112.4ZM148.7 129.3A1.9 1.8 99 1 0 149.3 125.5A1.9 1.8 99 1 0 148.7 129.3ZM133.5 119.2A2.4 1.8 158 1 0 138.0 117.4A2.4 1.8 158 1 0 133.5 119.2ZM132.8 149.4A1.9 1.3 102 1 0 133.6 145.8A1.9 1.3 102 1 0 132.8 149.4ZM153.0 147.1A2.3 1.1 66 1 0 151.1 143.0A2.3 1.1 66 1 0 153.0 147.1ZM151.3 109.1A1.3 1.3 151 1 0 153.6 107.8A1.3 1.3 151 1 0 151.3 109.1ZM159.3 113.2A1.4 1.2 46 1 0 157.4 111.2A1.4 1.2 46 1 0 159.3 113.2ZM168.7 104.0A2.6 2.1 52 1 0 165.5 99.9A2.6 2.1 52 1 0 168.7 104.0ZM191.4 127.0A2.8 1.7 73 1 0 189.8 121.6A2.8 1.7 73 1 0 191.4 127.0ZM170.3 148.2A1.7 1.4 57 1 0 168.4 145.4A1.7 1.4 57 1 0 170.3 148.2ZM161.0 144.8A2.8 2.3 40 1 0 156.7 141.2A2.8 2.3 40 1 0 161.0 144.8ZM184.4 128.3A2.2 2.0 90 1 0 184.4 123.9A2.2 2.0 90 1 0 184.4 128.3ZM174.1 109.1A2.3 1.8 74 1 0 172.9 104.7A2.3 1.8 74 1 0 174.1 109.1ZM167.1 127.0A2.9 1.6 81 1 0 166.2 121.3A2.9 1.6 81 1 0 167.1 127.0ZM125.4 150.1A2.0 1.1 41 1 0 122.4 147.5A2.0 1.1 41 1 0 125.4 150.1ZM147.2 131.5A2.1 1.5 51 1 0 144.6 128.3A2.1 1.5 51 1 0 147.2 131.5ZM143.8 152.6A2.5 1.3 78 1 0 142.8 147.7A2.5 1.3 78 1 0 143.8 152.6ZM175.8 146.3A1.3 1.0 63 1 0 174.6 143.9A1.3 1.0 63 1 0 175.8 146.3ZM108.3 144.5A2.0 1.9 79 1 0 107.5 140.5A2.0 1.9 79 1 0 108.3 144.5ZM164.0 131.9A2.1 1.6 20 1 0 160.1 130.5A2.1 1.6 20 1 0 164.0 131.9ZM139.4 136.2A3.1 1.6 168 1 0 145.4 134.9A3.1 1.6 168 1 0 139.4 136.2ZM117.4 138.4A1.8 1.6 29 1 0 114.3 136.7A1.8 1.6 29 1 0 117.4 138.4ZM147.2 125.9A1.4 1.4 82 1 0 146.8 123.1A1.4 1.4 82 1 0 147.2 125.9ZM171.4 116.3A1.5 1.1 69 1 0 170.3 113.5A1.5 1.1 69 1 0 171.4 116.3ZM186.2 117.5A2.4 2.0 27 1 0 182.0 115.3A2.4 2.0 27 1 0 186.2 117.5ZM138.4 130.5A2.8 2.5 121 1 0 141.3 125.7A2.8 2.5 121 1 0 138.4 130.5ZM128.2 155.9A2.1 1.6 144 1 0 131.5 153.5A2.1 1.6 144 1 0 128.2 155.9ZM130.7 116.4A2.0 0.9 97 1 0 131.2 112.4A2.0 0.9 97 1 0 130.7 116.4ZM144.6 126.7A2.5 2.2 103 1 0 145.7 121.9A2.5 2.2 103 1 0 144.6 126.7ZM164.5 147.3A2.6 1.9 138 1 0 168.3 143.8A2.6 1.9 138 1 0 164.5 147.3ZM183.5 142.2A2.2 1.1 12 1 0 179.2 141.3A2.2 1.1 12 1 0 183.5 142.2ZM153.8 113.1A1.8 1.3 165 1 0 157.3 112.2A1.8 1.3 165 1 0 153.8 113.1ZM109.9 145.1A2.1 1.2 24 1 0 106.1 143.5A2.1 1.2 24 1 0 109.9 145.1ZM154.4 106.7A2.4 2.2 155 1 0 158.8 104.6A2.4 2.2 155 1 0 154.4 106.7ZM180.9 139.0A1.8 1.7 89 1 0 180.9 135.5A1.8 1.7 89 1 0 180.9 139.0ZM160.1 132.3A2.6 2.5 82 1 0 159.4 127.1A2.6 2.5 82 1 0 160.1 132.3ZM164.3 143.8A1.9 0.9 77 1 0 163.4 140.2A1.9 0.9 77 1 0 164.3 143.8ZM150.1 103.8A3.0 2.7 124 1 0 153.4 98.9A3.0 2.7 124 1 0 150.1 103.8ZM177.5 146.2A1.6 1.6 0 1 0 174.2 146.2A1.6 1.6 0 1 0 177.5 146.2ZM175.3 135.2A1.6 1.2 62 1 0 173.9 132.4A1.6 1.2 62 1 0 175.3 135.2ZM165.6 103.1A2.9 1.7 78 1 0 164.4 97.3A2.9 1.7 78 1 0 165.6 103.1ZM116.7 120.2A3.0 1.6 23 1 0 111.3 117.9A3.0 1.6 23 1 0 116.7 120.2ZM124.3 117.6A2.2 1.5 169 1 0 128.6 116.7A2.2 1.5 169 1 0 124.3 117.6ZM139.9 106.1A2.7 1.5 97 1 0 140.6 100.8A2.7 1.5 97 1 0 139.9 106.1ZM170.2 122.4A3.2 1.9 40 1 0 165.3 118.3A3.2 1.9 40 1 0 170.2 122.4Z"/><path fill="#aaa" opacity=".3" d="M168.6 115.6A1.9 0.9 87 1 0 168.4 111.8A1.9 0.9 87 1 0 168.6 115.6ZM146.0 152.7A1.9 1.2 25 1 0 142.5 151.0A1.9 1.2 25 1 0 146.0 152.7ZM127.7 111.1A3.1 2.8 171 1 0 134.0 110.1A3.1 2.8 171 1 0 127.7 111.1ZM170.8 114.6A2.9 1.6 4 1 0 165.0 114.2A2.9 1.6 4 1 0 170.8 114.6ZM134.1 143.5A2.5 1.7 108 1 0 135.7 138.7A2.5 1.7 108 1 0 134.1 143.5ZM150.7 137.3A2.8 2.1 35 1 0 146.1 134.1A2.8 2.1 35 1 0 150.7 137.3ZM171.8 106.1A3.1 2.1 28 1 0 166.4 103.2A3.1 2.1 28 1 0 171.8 106.1ZM176.4 107.5A2.3 1.2 20 1 0 172.1 106.0A2.3 1.2 20 1 0 176.4 107.5ZM145.1 148.9A1.7 1.4 92 1 0 145.2 145.6A1.7 1.4 92 1 0 145.1 148.9ZM177.2 138.8A1.5 0.8 122 1 0 178.8 136.2A1.5 0.8 122 1 0 177.2 138.8ZM151.8 101.8A2.9 2.5 160 1 0 157.2 99.8A2.9 2.5 160 1 0 151.8 101.8ZM165.3 110.2A1.4 1.2 53 1 0 163.6 107.9A1.4 1.2 53 1 0 165.3 110.2ZM155.0 122.6A1.8 1.6 84 1 0 154.6 119.0A1.8 1.6 84 1 0 155.0 122.6ZM130.4 115.2A2.9 1.9 110 1 0 132.3 109.8A2.9 1.9 110 1 0 130.4 115.2ZM167.3 141.8A2.7 1.6 67 1 0 165.2 136.8A2.7 1.6 67 1 0 167.3 141.8ZM131.6 144.4A3.0 2.5 113 1 0 133.9 138.8A3.0 2.5 113 1 0 131.6 144.4ZM146.6 123.0A1.7 1.4 130 1 0 148.7 120.4A1.7 1.4 130 1 0 146.6 123.0ZM116.0 138.2A2.7 2.6 78 1 0 114.9 133.0A2.7 2.6 78 1 0 116.0 138.2ZM168.4 141.6A2.6 1.3 79 1 0 167.4 136.6A2.6 1.3 79 1 0 168.4 141.6Z"/><path fill="#2a2a2a" opacity=".85" d="M136.1 115.5A0.8 0.7 98 1 0 136.3 113.9A0.8 0.7 98 1 0 136.1 115.5ZM124.2 147.7A0.6 0.4 161 1 0 125.3 147.3A0.6 0.4 161 1 0 124.2 147.7ZM167.6 117.0A0.8 0.7 53 1 0 166.6 115.7A0.8 0.7 53 1 0 167.6 117.0ZM168.6 119.6A1.3 1.0 21 1 0 166.2 118.7A1.3 1.0 21 1 0 168.6 119.6Z"/><path fill="#2a2a2a" opacity=".6" d="M151.6 122.5A1.3 0.9 111 1 0 152.5 120.1A1.3 0.9 111 1 0 151.6 122.5ZM172.1 131.8A1.3 1.0 120 1 0 173.4 129.5A1.3 1.0 120 1 0 172.1 131.8Z"/><path fill="#e8e8e8" opacity=".85" d="M171.9 112.7A1.2 0.5 74 1 0 171.3 110.4A1.2 0.5 74 1 0 171.9 112.7ZM150.9 134.8A1.5 0.8 101 1 0 151.4 131.9A1.5 0.8 101 1 0 150.9 134.8Z"/><path fill="#e8e8e8" opacity=".6" d="M162.9 144.2A1.4 0.9 72 1 0 162.0 141.6A1.4 0.9 72 1 0 162.9 144.2ZM135.2 105.2A1.0 0.9 44 1 0 133.8 103.8A1.0 0.9 44 1 0 135.2 105.2Z"/>
<path d="M194.2,132.0C193.3,129.3 190.5,137.3 189.0,140.0C187.5,142.7 186.0,145.3 185.0,148.0C184.0,150.7 181.5,154.7 183.0,156.0C184.5,157.3 192.3,160.0 194.2,156.0C196.1,152.0 195.1,134.7 194.2,132.0Z" fill="#4a4a4a" stroke="#444" stroke-width="1" stroke-opacity="0.8"/>
<path fill="#aaa" opacity=".45" d="M188.3 149.1A3.1 1.9 69 1 0 186.1 143.2A3.1 1.9 69 1 0 188.3 149.1ZM191.5 145.6A3.0 2.6 65 1 0 188.9 140.2A3.0 2.6 65 1 0 191.5 145.6ZM192.5 140.1A1.9 1.6 72 1 0 191.3 136.5A1.9 1.6 72 1 0 192.5 140.1ZM186.8 152.2A2.6 1.7 143 1 0 191.0 149.0A2.6 1.7 143 1 0 186.8 152.2Z"/><path fill="#555" opacity=".45" d="M192.1 157.3A2.7 1.5 50 1 0 188.7 153.3A2.7 1.5 50 1 0 192.1 157.3ZM188.8 144.7A1.3 0.8 89 1 0 188.8 142.1A1.3 0.8 89 1 0 188.8 144.7Z"/><path fill="#555" opacity=".3" d="M194.0 139.4A1.7 1.4 63 1 0 192.4 136.3A1.7 1.4 63 1 0 194.0 139.4ZM191.7 142.5A2.2 1.8 108 1 0 193.0 138.3A2.2 1.8 108 1 0 191.7 142.5Z"/>
<g fill="#222" opacity="0.85"><ellipse cx="135.6" cy="113.8" rx="1.6" ry="1.1" transform="rotate(20 135.6 113.8)"/><ellipse cx="151.1" cy="113.8" rx="1.8" ry="1.1" transform="rotate(0 151.1 113.8)"/><ellipse cx="162.9" cy="116.1" rx="2.0" ry="1.2" transform="rotate(10 162.9 116.1)"/><ellipse cx="171.2" cy="113.8" rx="1.5" ry="1.0" transform="rotate(30 171.2 113.8)"/><ellipse cx="168.9" cy="124.4" rx="2.0" ry="1.2" transform="rotate(60 168.9 124.4)"/><ellipse cx="178.4" cy="124.4" rx="1.6" ry="1.1" transform="rotate(45 178.4 124.4)"/><ellipse cx="176.0" cy="135.1" rx="1.6" ry="1.1" transform="rotate(10 176.0 135.1)"/><ellipse cx="119.0" cy="132.8" rx="1.8" ry="1.4" transform="rotate(80 119.0 132.8)"/><ellipse cx="121.4" cy="137.5" rx="1.6" ry="1.2" transform="rotate(0 121.4 137.5)"/><ellipse cx="114.2" cy="143.4" rx="1.8" ry="1.2" transform="rotate(20 114.2 143.4)"/><ellipse cx="130.9" cy="147.0" rx="1.6" ry="1.1" transform="rotate(0 130.9 147.0)"/><ellipse cx="140.4" cy="151.8" rx="2.0" ry="1.1" transform="rotate(10 140.4 151.8)"/><ellipse cx="145.1" cy="154.1" rx="2.2" ry="1.2" transform="rotate(0 145.1 154.1)"/><ellipse cx="133.2" cy="154.1" rx="1.6" ry="1.1" transform="rotate(0 133.2 154.1)"/><ellipse cx="149.9" cy="125.6" rx="1.5" ry="1.0" transform="rotate(0 149.9 125.6)"/><ellipse cx="130.9" cy="118.5" rx="1.4" ry="1.0" transform="rotate(30 130.9 118.5)"/><ellipse cx="153.4" cy="150.6" rx="1.8" ry="1.1" transform="rotate(0 153.4 150.6)"/><ellipse cx="159.4" cy="148.2" rx="1.5" ry="1.0" transform="rotate(20 159.4 148.2)"/><ellipse cx="171.2" cy="139.9" rx="1.6" ry="1.0" transform="rotate(30 171.2 139.9)"/><ellipse cx="161.8" cy="126.8" rx="1.4" ry="1.0" transform="rotate(0 161.8 126.8)"/><ellipse cx="180.8" cy="130.4" rx="1.4" ry="1.0" transform="rotate(60 180.8 130.4)"/><ellipse cx="173.6" cy="119.7" rx="1.4" ry="1.0" transform="rotate(0 173.6 119.7)"/><ellipse cx="123.8" cy="141.0" rx="1.4" ry="1.0" transform="rotate(0 123.8 141.0)"/><ellipse cx="159.4" cy="109.0" rx="1.5" ry="1.0" transform="rotate(0 159.4 109.0)"/><ellipse cx="142.8" cy="112.6" rx="1.3" ry="0.9" transform="rotate(0 142.8 112.6)"/><ellipse cx="126.1" cy="149.4" rx="1.4" ry="1.0" transform="rotate(0 126.1 149.4)"/><ellipse cx="183.0" cy="117.0" rx="1.2" ry="0.9" transform="rotate(50 183.0 117.0)"/><ellipse cx="116.0" cy="128.0" rx="1.2" ry="0.9" transform="rotate(0 116.0 128.0)"/></g>
<g fill="#f0f0f0" opacity="0.9"><ellipse cx="147.5" cy="118.5" rx="3.0" ry="2.0" transform="rotate(20 147.5 118.5)"/><ellipse cx="135.6" cy="125.6" rx="2.2" ry="1.8" transform="rotate(0 135.6 125.6)"/><ellipse cx="143.9" cy="125.6" rx="2.5" ry="2.0" transform="rotate(60 143.9 125.6)"/><ellipse cx="138.0" cy="131.6" rx="2.0" ry="3.0" transform="rotate(0 138.0 131.6)"/><ellipse cx="134.4" cy="137.5" rx="2.0" ry="1.5" transform="rotate(0 134.4 137.5)"/><ellipse cx="153.4" cy="137.5" rx="2.5" ry="1.2" transform="rotate(30 153.4 137.5)"/><ellipse cx="162.9" cy="143.4" rx="2.0" ry="1.5" transform="rotate(0 162.9 143.4)"/><ellipse cx="168.9" cy="103.0" rx="3.0" ry="1.5" transform="rotate(0 168.9 103.0)"/><ellipse cx="157.0" cy="100.7" rx="2.5" ry="1.0" transform="rotate(0 157.0 100.7)"/><ellipse cx="147.5" cy="134.0" rx="1.5" ry="2.5" transform="rotate(30 147.5 134.0)"/><ellipse cx="141.6" cy="137.5" rx="1.2" ry="2.0" transform="rotate(0 141.6 137.5)"/><ellipse cx="152.0" cy="130.0" rx="1.0" ry="2.2" transform="rotate(40 152.0 130.0)"/><ellipse cx="128.0" cy="129.0" rx="1.3" ry="1.0" transform="rotate(0 128.0 129.0)"/></g>
<ellipse cx="148" cy="127" rx="30" ry="22" fill="none" stroke="#999" stroke-width="0.8" opacity="0.5"/>
</g>
<clipPath id="em4"><rect x="6.4" y="176.0" width="92.9" height="70.9"/></clipPath>
<g clip-path="url(#em4)">
<rect x="6.4" y="176.0" width="92.9" height="70.9" fill="#e0e0e0"/>
<path d="M16.9,177.6C18.5,177.0 33.9,176.5 35.9,176.8C37.9,177.2 38.4,180.2 38.2,181.1C38.1,182.0 35.6,186.0 34.7,187.0C33.8,188.0 29.7,191.2 28.8,191.8C27.8,192.4 24.8,193.2 24.0,193.0C23.2,192.8 20.9,190.3 20.4,189.4C19.9,188.5 18.4,184.6 18.1,183.5C17.8,182.4 15.3,178.2 16.9,177.6Z" fill="#666666" stroke="#444" stroke-width="1" stroke-opacity="0.8"/>
<path fill="#808080" opacity=".3" d="M17.9 180.9A2.3 1.2 132 1 0 20.9 177.6A2.3 1.2 132 1 0 17.9 180.9ZM25.4 185.0A3.0 2.1 129 1 0 29.2 180.4A3.0 2.1 129 1 0 25.4 185.0Z"/><path fill="#3a3a3a" opacity=".45" d="M19.1 183.0A2.7 1.9 101 1 0 20.1 177.7A2.7 1.9 101 1 0 19.1 183.0ZM32.9 187.8A1.2 1.2 70 1 0 32.0 185.5A1.2 1.2 70 1 0 32.9 187.8Z"/><path fill="#3a3a3a" opacity=".3" d="M22.1 190.3A1.2 0.9 50 1 0 20.5 188.4A1.2 0.9 50 1 0 22.1 190.3ZM25.9 191.4A1.8 1.4 125 1 0 28.0 188.5A1.8 1.4 125 1 0 25.9 191.4ZM18.8 180.4A1.9 1.5 171 1 0 22.6 179.9A1.9 1.5 171 1 0 18.8 180.4ZM35.4 185.5A2.3 1.7 118 1 0 37.6 181.4A2.3 1.7 118 1 0 35.4 185.5Z"/><path fill="#808080" opacity=".45" d="M29.6 181.6A3.1 1.6 92 1 0 29.8 175.3A3.1 1.6 92 1 0 29.6 181.6ZM30.2 185.9A2.7 1.3 118 1 0 32.8 181.1A2.7 1.3 118 1 0 30.2 185.9ZM23.9 180.8A3.0 2.4 33 1 0 18.9 177.6A3.0 2.4 33 1 0 23.9 180.8Z"/><path fill="#2a2a2a" opacity=".85" d="M33.4 178.4A1.2 0.9 44 1 0 31.6 176.7A1.2 0.9 44 1 0 33.4 178.4ZM20.4 186.4A1.3 0.7 71 1 0 19.6 183.9A1.3 0.7 71 1 0 20.4 186.4ZM27.5 192.2A1.2 1.1 77 1 0 27.0 189.8A1.2 1.1 77 1 0 27.5 192.2ZM32.6 187.7A0.7 0.6 120 1 0 33.3 186.4A0.7 0.6 120 1 0 32.6 187.7Z"/><path fill="#2a2a2a" opacity=".6" d="M21.9 181.5A1.0 0.8 130 1 0 23.2 179.9A1.0 0.8 130 1 0 21.9 181.5ZM28.4 180.9A1.1 0.6 84 1 0 28.2 178.7A1.1 0.6 84 1 0 28.4 180.9ZM21.5 181.1A0.6 0.4 122 1 0 22.2 180.0A0.6 0.4 122 1 0 21.5 181.1ZM21.3 183.5A1.3 1.2 53 1 0 19.7 181.3A1.3 1.2 53 1 0 21.3 183.5Z"/><path fill="#e8e8e8" opacity=".6" d="M24.8 178.9A1.5 0.9 175 1 0 27.8 178.6A1.5 0.9 175 1 0 24.8 178.9Z"/>
<path d="M38.2,176.8C39.3,176.6 50.0,176.2 51.3,176.4C52.6,176.6 53.3,178.4 52.5,178.8C51.7,179.1 44.2,179.9 43.0,179.9C41.8,179.9 39.8,179.5 39.4,179.2C39.0,178.9 37.2,177.1 38.2,176.8Z" fill="#717171" stroke="#444" stroke-width="1" stroke-opacity="0.8"/>
<path fill="#3a3a3a" opacity=".3" d="M49.5 180.0A2.4 1.7 33 1 0 45.5 177.4A2.4 1.7 33 1 0 49.5 180.0Z"/>
<path d="M77.4,176.8C79.0,176.2 96.8,174.8 98.8,176.4C100.8,178.0 99.3,192.7 98.8,194.2C98.3,195.7 93.9,193.5 92.9,193.0C91.9,192.5 89.2,189.1 88.1,188.2C87.0,187.4 82.0,184.5 81.0,183.5C80.0,182.5 75.8,177.5 77.4,176.8Z" fill="#717171" stroke="#444" stroke-width="1" stroke-opacity="0.8"/>
<path fill="#3a3a3a" opacity=".3" d="M88.0 187.0A1.5 0.9 112 1 0 89.1 184.2A1.5 0.9 112 1 0 88.0 187.0ZM87.7 185.9A2.4 1.6 38 1 0 84.0 182.9A2.4 1.6 38 1 0 87.7 185.9ZM97.0 194.6A1.8 1.3 60 1 0 95.2 191.6A1.8 1.3 60 1 0 97.0 194.6ZM79.9 182.5A2.8 2.5 89 1 0 79.8 176.9A2.8 2.5 89 1 0 79.9 182.5ZM80.7 184.2A2.3 1.5 132 1 0 83.9 180.8A2.3 1.5 132 1 0 80.7 184.2ZM95.5 182.9A2.4 1.2 163 1 0 100.1 181.5A2.4 1.2 163 1 0 95.5 182.9Z"/><path fill="#3a3a3a" opacity=".45" d="M95.0 182.4A1.7 1.4 99 1 0 95.6 179.0A1.7 1.4 99 1 0 95.0 182.4Z"/><path fill="#808080" opacity=".3" d="M94.1 185.0A1.5 0.7 17 1 0 91.3 184.1A1.5 0.7 17 1 0 94.1 185.0ZM95.0 185.3A2.4 2.1 25 1 0 90.8 183.3A2.4 2.1 25 1 0 95.0 185.3ZM90.5 177.5A2.0 1.5 150 1 0 94.0 175.5A2.0 1.5 150 1 0 90.5 177.5ZM85.9 183.3A1.6 1.5 131 1 0 88.0 180.9A1.6 1.5 131 1 0 85.9 183.3Z"/><path fill="#808080" opacity=".45" d="M93.6 186.5A2.7 1.6 54 1 0 90.5 182.2A2.7 1.6 54 1 0 93.6 186.5Z"/><path fill="#2a2a2a" opacity=".6" d="M96.9 180.1A0.8 0.4 85 1 0 96.8 178.6A0.8 0.4 85 1 0 96.9 180.1ZM99.5 191.7A1.1 0.8 45 1 0 98.0 190.2A1.1 0.8 45 1 0 99.5 191.7Z"/><path fill="#2a2a2a" opacity=".85" d="M99.0 179.8A0.9 0.5 45 1 0 97.7 178.5A0.9 0.5 45 1 0 99.0 179.8ZM99.3 186.4A1.2 0.8 34 1 0 97.3 185.1A1.2 0.8 34 1 0 99.3 186.4Z"/><path fill="#e8e8e8" opacity=".6" d="M95.2 181.5A1.4 1.2 17 1 0 92.5 180.7A1.4 1.2 17 1 0 95.2 181.5Z"/>
<path d="M51.3,185.9C52.2,185.1 58.1,183.5 59.6,183.5C61.1,183.5 66.4,185.0 67.2,185.9C68.0,186.8 68.2,191.9 67.9,193.0C67.6,194.1 65.4,197.2 64.4,197.8C63.4,198.3 58.3,199.0 57.2,198.9C56.2,198.8 53.2,197.3 52.5,196.6C51.8,195.9 50.2,192.8 50.1,191.8C50.0,190.8 50.4,186.7 51.3,185.9Z" fill="#868686" stroke="#444" stroke-width="1" stroke-opacity="0.8"/>
<path fill="#3a3a3a" opacity=".45" d="M52.1 190.3A2.2 1.7 88 1 0 52.0 185.9A2.2 1.7 88 1 0 52.1 190.3ZM61.2 193.3A2.8 2.0 30 1 0 56.4 190.5A2.8 2.0 30 1 0 61.2 193.3Z"/><path fill="#808080" opacity=".3" d="M61.1 195.0A1.3 1.1 146 1 0 63.2 193.5A1.3 1.1 146 1 0 61.1 195.0ZM59.0 197.6A2.8 2.1 50 1 0 55.4 193.4A2.8 2.1 50 1 0 59.0 197.6ZM61.8 196.0A1.8 1.1 59 1 0 59.9 192.9A1.8 1.1 59 1 0 61.8 196.0Z"/><path fill="#3a3a3a" opacity=".3" d="M56.1 194.1A2.8 2.2 61 1 0 53.3 189.1A2.8 2.2 61 1 0 56.1 194.1ZM59.5 189.4A1.6 1.1 160 1 0 62.5 188.4A1.6 1.1 160 1 0 59.5 189.4ZM51.1 194.8A2.5 1.8 141 1 0 55.0 191.6A2.5 1.8 141 1 0 51.1 194.8Z"/><path fill="#808080" opacity=".45" d="M51.3 188.4A2.2 1.6 148 1 0 55.1 186.0A2.2 1.6 148 1 0 51.3 188.4Z"/><path fill="#2a2a2a" opacity=".85" d="M59.5 184.9A1.3 0.7 36 1 0 57.3 183.4A1.3 0.7 36 1 0 59.5 184.9Z"/><path fill="#2a2a2a" opacity=".6" d="M52.5 189.2A1.3 1.2 129 1 0 54.2 187.1A1.3 1.2 129 1 0 52.5 189.2Z"/><path fill="#e8e8e8" opacity=".85" d="M62.5 196.8A1.1 0.6 81 1 0 62.1 194.7A1.1 0.6 81 1 0 62.5 196.8Z"/>
<path d="M7.4,208.4C8.0,207.4 13.0,202.3 14.5,201.3C16.0,200.3 22.6,198.1 24.0,197.8C25.4,197.4 29.5,197.4 29.9,197.8C30.3,198.1 29.5,200.5 28.8,201.3C28.0,202.1 23.1,205.1 21.6,206.0C20.1,206.9 13.4,210.2 12.1,210.8C10.8,211.4 8.3,212.2 7.8,212.0C7.4,211.8 6.8,209.4 7.4,208.4Z" fill="#606060" stroke="#444" stroke-width="1" stroke-opacity="0.8"/>
<path fill="#3a3a3a" opacity=".3" d="M17.0 202.1A1.8 0.9 103 1 0 17.8 198.6A1.8 0.9 103 1 0 17.0 202.1ZM17.6 207.6A2.1 1.8 145 1 0 21.0 205.2A2.1 1.8 145 1 0 17.6 207.6ZM26.5 204.3A2.0 1.5 107 1 0 27.7 200.4A2.0 1.5 107 1 0 26.5 204.3ZM15.9 204.1A1.5 1.4 86 1 0 15.7 201.1A1.5 1.4 86 1 0 15.9 204.1ZM15.9 208.0A2.4 1.7 78 1 0 14.9 203.3A2.4 1.7 78 1 0 15.9 208.0ZM21.8 205.1A1.3 1.2 105 1 0 22.5 202.6A1.3 1.2 105 1 0 21.8 205.1ZM18.9 209.0A2.9 1.3 57 1 0 15.8 204.2A2.9 1.3 57 1 0 18.9 209.0Z"/><path fill="#3a3a3a" opacity=".45" d="M12.8 207.9A1.4 0.9 177 1 0 15.6 207.8A1.4 0.9 177 1 0 12.8 207.9ZM23.7 201.8A2.3 2.0 122 1 0 26.1 198.0A2.3 2.0 122 1 0 23.7 201.8ZM23.3 199.5A2.9 1.7 143 1 0 27.9 196.1A2.9 1.7 143 1 0 23.3 199.5Z"/><path fill="#2a2a2a" opacity=".85" d="M26.5 203.7A1.4 1.2 33 1 0 24.2 202.2A1.4 1.2 33 1 0 26.5 203.7ZM22.7 205.9A1.4 0.8 122 1 0 24.2 203.6A1.4 0.8 122 1 0 22.7 205.9Z"/><path fill="#2a2a2a" opacity=".6" d="M19.9 203.1A0.8 0.6 113 1 0 20.6 201.6A0.8 0.6 113 1 0 19.9 203.1Z"/>
<path d="M22.8,190.5C23.0,190.0 25.3,189.3 26.0,189.4C26.7,189.5 29.7,191.4 29.9,192.0C30.1,192.6 29.0,195.1 28.5,195.4C28.0,195.7 24.5,195.4 24.0,195.0C23.5,194.6 22.6,191.0 22.8,190.5Z" fill="#868686" stroke="#444" stroke-width="1" stroke-opacity="0.8"/>
<path fill="#3a3a3a" opacity=".45" d="M27.8 193.6A1.8 1.4 55 1 0 25.7 190.6A1.8 1.4 55 1 0 27.8 193.6Z"/>
<path d="M37.1,196.6C38.0,196.3 45.1,195.4 46.6,195.4C48.1,195.4 53.4,196.2 53.7,196.6C54.0,197.0 51.3,199.3 50.1,199.7C48.9,200.0 41.8,200.2 40.6,200.1C39.4,200.0 37.4,199.3 37.1,199.0C36.8,198.7 36.2,196.9 37.1,196.6Z" fill="#767676" stroke="#444" stroke-width="1" stroke-opacity="0.8"/>
<path fill="#808080" opacity=".3" d="M39.9 198.3A1.5 1.0 61 1 0 38.4 195.8A1.5 1.0 61 1 0 39.9 198.3Z"/><path fill="#3a3a3a" opacity=".3" d="M39.9 197.3A1.2 0.7 135 1 0 41.7 195.6A1.2 0.7 135 1 0 39.9 197.3Z"/><path fill="#2a2a2a" opacity=".85" d="M43.0 200.5A1.3 0.9 146 1 0 45.1 199.0A1.3 0.9 146 1 0 43.0 200.5Z"/>
<path d="M67.9,196.6C68.6,196.0 74.7,193.8 76.2,193.5C77.8,193.2 83.9,192.7 84.6,193.0C85.3,193.3 84.2,196.0 83.4,196.6C82.6,197.2 77.6,199.3 76.2,199.7C74.9,200.0 69.9,200.4 69.1,200.1C68.3,199.8 67.2,197.2 67.9,196.6Z" fill="#636363" stroke="#444" stroke-width="1" stroke-opacity="0.8"/>
<path fill="#3a3a3a" opacity=".45" d="M81.5 198.4A2.1 1.5 10 1 0 77.3 197.7A2.1 1.5 10 1 0 81.5 198.4Z"/><path fill="#808080" opacity=".3" d="M68.5 201.2A1.8 1.5 125 1 0 70.6 198.2A1.8 1.5 125 1 0 68.5 201.2ZM82.6 196.6A1.9 1.5 84 1 0 82.2 192.7A1.9 1.5 84 1 0 82.6 196.6Z"/><path fill="#2a2a2a" opacity=".85" d="M73.8 197.9A0.7 0.6 84 1 0 73.7 196.5A0.7 0.6 84 1 0 73.8 197.9Z"/><path fill="#2a2a2a" opacity=".6" d="M82.3 195.8A0.9 0.5 150 1 0 83.8 194.9A0.9 0.5 150 1 0 82.3 195.8Z"/>
<path d="M33.5,208.4C34.3,208.2 41.3,208.9 43.0,209.2C44.7,209.4 51.3,210.9 52.5,211.5C53.7,212.1 55.9,214.9 56.0,215.6C56.1,216.3 54.5,218.9 53.7,219.1C52.9,219.3 49.0,218.3 47.8,217.9C46.5,217.5 41.8,215.0 40.6,214.4C39.4,213.8 35.4,212.1 34.7,211.5C34.0,210.9 32.7,208.6 33.5,208.4Z" fill="#646464" stroke="#444" stroke-width="1" stroke-opacity="0.8"/>
<path fill="#3a3a3a" opacity=".3" d="M51.3 219.3A2.1 2.1 128 1 0 53.9 215.9A2.1 2.1 128 1 0 51.3 219.3ZM32.6 210.1A2.3 1.7 152 1 0 36.6 207.9A2.3 1.7 152 1 0 32.6 210.1ZM49.7 216.2A2.8 1.4 37 1 0 45.2 212.8A2.8 1.4 37 1 0 49.7 216.2Z"/><path fill="#808080" opacity=".45" d="M44.7 214.8A3.1 3.0 4 1 0 38.6 214.4A3.1 3.0 4 1 0 44.7 214.8ZM43.3 211.7A2.2 2.2 171 1 0 47.7 211.0A2.2 2.2 171 1 0 43.3 211.7ZM50.8 219.0A1.9 1.3 109 1 0 52.1 215.5A1.9 1.3 109 1 0 50.8 219.0Z"/><path fill="#3a3a3a" opacity=".45" d="M49.9 213.4A1.5 0.7 60 1 0 48.4 210.8A1.5 0.7 60 1 0 49.9 213.4Z"/><path fill="#808080" opacity=".3" d="M53.5 214.3A1.5 1.0 1 1 0 50.6 214.2A1.5 1.0 1 1 0 53.5 214.3Z"/><path fill="#2a2a2a" opacity=".6" d="M52.0 212.2A0.7 0.4 150 1 0 53.1 211.5A0.7 0.4 150 1 0 52.0 212.2ZM54.2 216.0A0.8 0.5 112 1 0 54.8 214.5A0.8 0.5 112 1 0 54.2 216.0Z"/><path fill="#2a2a2a" opacity=".85" d="M54.1 217.8A1.0 0.6 114 1 0 54.9 216.0A1.0 0.6 114 1 0 54.1 217.8Z"/>
<path d="M56.0,207.2C56.5,206.2 60.7,202.7 62.0,202.0C63.3,201.3 69.0,200.1 70.3,200.1C71.6,200.1 75.7,201.4 76.2,202.5C76.8,203.6 76.5,210.6 76.2,212.0C76.0,213.4 74.8,217.1 73.9,217.9C73.0,218.7 68.0,220.3 66.8,220.3C65.5,220.3 61.8,218.6 60.8,217.9C59.8,217.2 56.4,214.2 56.0,213.2C55.6,212.2 55.5,208.3 56.0,207.2Z" fill="#666666" stroke="#444" stroke-width="1" stroke-opacity="0.8"/>
<path fill="#808080" opacity=".3" d="M65.7 209.7A3.0 1.5 171 1 0 71.7 208.8A3.0 1.5 171 1 0 65.7 209.7ZM65.6 213.6A2.2 1.2 51 1 0 62.8 210.1A2.2 1.2 51 1 0 65.6 213.6ZM69.9 208.3A1.9 1.0 138 1 0 72.7 205.8A1.9 1.0 138 1 0 69.9 208.3Z"/><path fill="#3a3a3a" opacity=".45" d="M71.4 218.5A1.4 1.1 120 1 0 72.8 216.1A1.4 1.1 120 1 0 71.4 218.5ZM61.4 204.7A2.9 2.1 140 1 0 65.9 201.0A2.9 2.1 140 1 0 61.4 204.7ZM68.2 216.6A1.7 1.4 111 1 0 69.4 213.4A1.7 1.4 111 1 0 68.2 216.6ZM67.7 202.3A2.6 2.5 134 1 0 71.3 198.5A2.6 2.5 134 1 0 67.7 202.3ZM74.5 216.3A1.9 1.7 36 1 0 71.4 214.0A1.9 1.7 36 1 0 74.5 216.3ZM65.5 204.9A2.9 2.4 146 1 0 70.3 201.7A2.9 2.4 146 1 0 65.5 204.9Z"/><path fill="#3a3a3a" opacity=".3" d="M55.3 213.6A3.0 1.6 152 1 0 60.6 210.8A3.0 1.6 152 1 0 55.3 213.6ZM68.3 216.5A1.5 0.9 18 1 0 65.5 215.6A1.5 0.9 18 1 0 68.3 216.5ZM77.8 204.6A3.0 2.9 9 1 0 71.9 203.7A3.0 2.9 9 1 0 77.8 204.6Z"/><path fill="#808080" opacity=".45" d="M64.9 209.7A2.7 2.1 0 1 0 59.5 209.7A2.7 2.1 0 1 0 64.9 209.7Z"/><path fill="#2a2a2a" opacity=".85" d="M63.6 207.2A0.7 0.7 1 1 0 62.2 207.1A0.7 0.7 1 1 0 63.6 207.2ZM72.5 202.6A0.9 0.4 177 1 0 74.2 202.5A0.9 0.4 177 1 0 72.5 202.6ZM60.3 205.0A0.8 0.8 15 1 0 58.8 204.6A0.8 0.8 15 1 0 60.3 205.0Z"/><path fill="#2a2a2a" opacity=".6" d="M67.8 218.1A1.3 1.0 30 1 0 65.5 216.8A1.3 1.0 30 1 0 67.8 218.1ZM61.2 209.3A1.4 1.1 101 1 0 61.7 206.6A1.4 1.1 101 1 0 61.2 209.3ZM72.7 216.7A1.1 1.1 21 1 0 70.6 215.9A1.1 1.1 21 1 0 72.7 216.7ZM62.0 213.6A1.1 1.0 179 1 0 64.1 213.5A1.1 1.0 179 1 0 62.0 213.6Z"/><path fill="#e8e8e8" opacity=".6" d="M60.3 210.9A1.7 1.0 86 1 0 60.1 207.5A1.7 1.0 86 1 0 60.3 210.9ZM71.9 212.1A1.1 0.8 23 1 0 69.9 211.3A1.1 0.8 23 1 0 71.9 212.1Z"/>
<path d="M21.6,212.0C22.1,211.9 24.2,213.2 24.0,214.4C23.8,215.6 20.2,223.4 19.2,225.0C18.3,226.6 14.2,231.4 13.3,232.2C12.4,233.0 10.2,233.5 9.8,233.4C9.3,233.3 8.3,232.0 8.6,231.0C8.9,230.0 12.4,224.1 13.3,222.7C14.2,221.3 17.3,216.6 18.1,215.6C18.9,214.6 21.1,212.1 21.6,212.0Z" fill="#606060" stroke="#444" stroke-width="1" stroke-opacity="0.8"/>
<path fill="#808080" opacity=".3" d="M15.6 217.4A2.6 2.4 158 1 0 20.5 215.4A2.6 2.4 158 1 0 15.6 217.4ZM22.2 214.8A1.4 0.8 5 1 0 19.4 214.6A1.4 0.8 5 1 0 22.2 214.8ZM18.6 219.4A2.4 1.9 20 1 0 14.1 217.8A2.4 1.9 20 1 0 18.6 219.4Z"/><path fill="#3a3a3a" opacity=".45" d="M18.5 221.7A1.7 0.9 44 1 0 16.0 219.2A1.7 0.9 44 1 0 18.5 221.7ZM13.5 232.6A2.8 2.6 50 1 0 9.9 228.2A2.8 2.6 50 1 0 13.5 232.6ZM14.9 225.4A2.5 1.5 25 1 0 10.3 223.2A2.5 1.5 25 1 0 14.9 225.4Z"/><path fill="#808080" opacity=".45" d="M10.8 232.0A2.5 1.9 166 1 0 15.7 230.7A2.5 1.9 166 1 0 10.8 232.0ZM9.4 231.3A3.0 1.5 143 1 0 14.1 227.8A3.0 1.5 143 1 0 9.4 231.3Z"/><path fill="#3a3a3a" opacity=".3" d="M17.3 222.6A2.8 2.0 83 1 0 16.6 217.0A2.8 2.0 83 1 0 17.3 222.6ZM20.8 217.3A2.3 2.1 29 1 0 16.7 215.0A2.3 2.1 29 1 0 20.8 217.3Z"/><path fill="#2a2a2a" opacity=".6" d="M14.4 223.6A0.7 0.7 163 1 0 15.9 223.1A0.7 0.7 163 1 0 14.4 223.6ZM18.0 216.1A1.3 1.1 126 1 0 19.6 214.0A1.3 1.1 126 1 0 18.0 216.1ZM18.3 223.6A0.6 0.3 26 1 0 17.1 223.1A0.6 0.3 26 1 0 18.3 223.6Z"/>
<path d="M19.2,212.0C19.5,211.7 21.9,212.4 22.8,213.2C23.7,214.0 27.8,218.9 28.8,220.3C29.7,221.7 33.2,227.4 33.5,228.6C33.8,229.8 32.7,233.2 32.3,233.4C31.9,233.6 29.5,232.0 28.8,231.0C28.0,230.0 24.8,224.0 24.0,222.7C23.2,221.4 20.1,217.7 19.7,216.8C19.3,215.8 19.0,212.3 19.2,212.0Z" fill="#606060" stroke="#444" stroke-width="1" stroke-opacity="0.8"/>
<path fill="#3a3a3a" opacity=".45" d="M26.1 224.5A1.9 1.8 143 1 0 29.1 222.2A1.9 1.8 143 1 0 26.1 224.5Z"/><path fill="#808080" opacity=".3" d="M33.9 230.7A2.3 1.9 76 1 0 32.8 226.3A2.3 1.9 76 1 0 33.9 230.7ZM30.3 227.2A1.3 0.9 167 1 0 32.8 226.6A1.3 0.9 167 1 0 30.3 227.2ZM23.1 221.7A2.4 1.7 93 1 0 23.3 216.8A2.4 1.7 93 1 0 23.1 221.7ZM25.8 227.4A3.1 2.5 85 1 0 25.2 221.2A3.1 2.5 85 1 0 25.8 227.4Z"/><path fill="#3a3a3a" opacity=".3" d="M26.4 222.8A1.7 1.5 125 1 0 28.3 220.0A1.7 1.5 125 1 0 26.4 222.8ZM27.7 224.0A1.8 0.9 18 1 0 24.2 222.8A1.8 0.9 18 1 0 27.7 224.0ZM24.7 220.7A1.8 1.6 38 1 0 21.8 218.4A1.8 1.6 38 1 0 24.7 220.7ZM19.6 217.6A1.9 1.3 144 1 0 22.7 215.3A1.9 1.3 144 1 0 19.6 217.6Z"/><path fill="#808080" opacity=".45" d="M20.0 218.9A3.1 2.2 171 1 0 26.2 218.0A3.1 2.2 171 1 0 20.0 218.9Z"/><path fill="#2a2a2a" opacity=".6" d="M29.2 228.1A0.7 0.7 78 1 0 28.9 226.7A0.7 0.7 78 1 0 29.2 228.1Z"/><path fill="#2a2a2a" opacity=".85" d="M25.5 218.9A1.4 0.9 45 1 0 23.5 216.9A1.4 0.9 45 1 0 25.5 218.9ZM20.1 217.5A1.3 0.7 129 1 0 21.7 215.5A1.3 0.7 129 1 0 20.1 217.5Z"/>
<path d="M25.2,210.8C25.7,210.1 32.1,210.6 33.5,210.8C34.9,211.0 39.7,212.4 40.6,213.2C41.5,214.0 42.9,218.0 43.0,219.1C43.1,220.2 42.5,224.2 41.8,225.0C41.1,225.8 36.9,227.5 35.9,227.4C34.9,227.3 31.9,224.8 31.1,223.9C30.3,223.0 28.1,219.1 27.6,217.9C27.1,216.7 24.7,211.5 25.2,210.8Z" fill="#666666" stroke="#444" stroke-width="1" stroke-opacity="0.8"/>
<path fill="#3a3a3a" opacity=".45" d="M37.5 224.9A2.8 1.4 126 1 0 40.8 220.4A2.8 1.4 126 1 0 37.5 224.9ZM38.5 216.2A2.2 1.7 68 1 0 36.8 212.1A2.2 1.7 68 1 0 38.5 216.2ZM39.0 216.0A1.4 0.9 162 1 0 41.6 215.1A1.4 0.9 162 1 0 39.0 216.0ZM36.1 213.7A2.6 2.0 13 1 0 31.0 212.5A2.6 2.0 13 1 0 36.1 213.7Z"/><path fill="#3a3a3a" opacity=".3" d="M37.9 221.0A3.0 2.1 127 1 0 41.5 216.2A3.0 2.1 127 1 0 37.9 221.0ZM31.5 217.1A2.7 2.5 129 1 0 34.9 213.0A2.7 2.5 129 1 0 31.5 217.1ZM41.9 214.9A1.8 1.1 47 1 0 39.4 212.2A1.8 1.1 47 1 0 41.9 214.9Z"/><path fill="#808080" opacity=".3" d="M32.4 213.9A1.7 1.7 130 1 0 34.7 211.3A1.7 1.7 130 1 0 32.4 213.9Z"/><path fill="#808080" opacity=".45" d="M29.4 215.6A1.5 1.1 34 1 0 26.9 214.0A1.5 1.1 34 1 0 29.4 215.6Z"/><path fill="#2a2a2a" opacity=".6" d="M32.1 224.6A1.0 0.6 108 1 0 32.7 222.6A1.0 0.6 108 1 0 32.1 224.6ZM38.3 213.3A0.8 0.5 99 1 0 38.5 211.7A0.8 0.5 99 1 0 38.3 213.3ZM41.9 219.9A0.7 0.6 138 1 0 42.9 219.0A0.7 0.6 138 1 0 41.9 219.9ZM34.4 219.9A1.3 1.2 83 1 0 34.1 217.4A1.3 1.2 83 1 0 34.4 219.9Z"/><path fill="#2a2a2a" opacity=".85" d="M36.9 213.1A0.7 0.4 152 1 0 38.1 212.5A0.7 0.4 152 1 0 36.9 213.1Z"/><path fill="#e8e8e8" opacity=".6" d="M34.9 227.5A1.8 1.6 160 1 0 38.2 226.3A1.8 1.6 160 1 0 34.9 227.5Z"/>
<path d="M81.0,207.2C81.8,206.5 86.8,203.7 88.1,203.7C89.4,203.7 94.5,206.4 95.2,207.2C96.0,208.1 96.7,212.2 96.5,213.2C96.2,214.2 93.9,217.2 92.9,217.9C91.9,218.6 86.8,220.3 85.8,220.3C84.7,220.3 81.5,218.7 81.0,217.9C80.5,217.1 79.8,213.0 79.8,212.0C79.8,211.0 80.2,208.0 81.0,207.2Z" fill="#767676" stroke="#444" stroke-width="1" stroke-opacity="0.8"/>
<path fill="#808080" opacity=".45" d="M94.8 217.4A2.1 2.1 30 1 0 91.1 215.3A2.1 2.1 30 1 0 94.8 217.4ZM87.6 212.6A2.4 2.3 46 1 0 84.3 209.2A2.4 2.3 46 1 0 87.6 212.6Z"/><path fill="#808080" opacity=".3" d="M84.6 215.2A1.2 0.6 2 1 0 82.2 215.2A1.2 0.6 2 1 0 84.6 215.2Z"/><path fill="#3a3a3a" opacity=".3" d="M86.9 209.0A3.0 1.5 143 1 0 91.8 205.4A3.0 1.5 143 1 0 86.9 209.0ZM84.7 207.8A2.0 1.5 25 1 0 81.0 206.1A2.0 1.5 25 1 0 84.7 207.8Z"/><path fill="#3a3a3a" opacity=".45" d="M82.5 215.4A1.4 0.7 139 1 0 84.5 213.6A1.4 0.7 139 1 0 82.5 215.4ZM87.7 211.9A1.3 1.2 14 1 0 85.2 211.3A1.3 1.2 14 1 0 87.7 211.9ZM80.7 218.7A1.7 1.3 161 1 0 83.9 217.6A1.7 1.3 161 1 0 80.7 218.7ZM96.6 211.7A2.8 1.6 34 1 0 91.9 208.5A2.8 1.6 34 1 0 96.6 211.7Z"/><path fill="#2a2a2a" opacity=".85" d="M81.0 214.8A0.6 0.6 86 1 0 80.9 213.6A0.6 0.6 86 1 0 81.0 214.8ZM91.8 213.5A0.7 0.4 8 1 0 90.4 213.3A0.7 0.4 8 1 0 91.8 213.5Z"/><path fill="#2a2a2a" opacity=".6" d="M90.9 208.4A0.9 0.6 22 1 0 89.3 207.7A0.9 0.6 22 1 0 90.9 208.4Z"/><path fill="#e8e8e8" opacity=".85" d="M84.2 215.5A1.2 0.9 120 1 0 85.4 213.4A1.2 0.9 120 1 0 84.2 215.5Z"/><path fill="#e8e8e8" opacity=".6" d="M94.6 210.6A1.0 1.0 159 1 0 96.5 209.9A1.0 1.0 159 1 0 94.6 210.6Z"/>
<path d="M83.4,227.4C84.2,226.5 91.5,222.2 92.9,221.5C94.3,220.8 98.3,219.2 98.8,220.3C99.3,221.4 99.6,232.3 98.8,233.4C98.0,234.5 91.8,232.4 90.5,232.2C89.2,232.0 85.3,231.4 84.6,231.0C83.9,230.6 82.6,228.3 83.4,227.4Z" fill="#5a5a5a" stroke="#444" stroke-width="1" stroke-opacity="0.8"/>
<path fill="#3a3a3a" opacity=".3" d="M83.4 229.4A1.9 1.1 100 1 0 84.0 225.6A1.9 1.1 100 1 0 83.4 229.4ZM90.6 229.8A2.2 1.0 154 1 0 94.6 227.9A2.2 1.0 154 1 0 90.6 229.8Z"/><path fill="#808080" opacity=".3" d="M94.9 224.0A2.8 1.5 68 1 0 92.8 218.9A2.8 1.5 68 1 0 94.9 224.0ZM97.4 234.0A3.0 2.5 36 1 0 92.6 230.5A3.0 2.5 36 1 0 97.4 234.0Z"/><path fill="#808080" opacity=".45" d="M92.4 230.9A1.9 1.0 1 1 0 88.7 230.9A1.9 1.0 1 1 0 92.4 230.9ZM97.9 232.0A2.1 2.0 46 1 0 95.0 229.0A2.1 2.0 46 1 0 97.9 232.0Z"/><path fill="#2a2a2a" opacity=".85" d="M94.4 222.4A1.4 1.1 125 1 0 96.0 220.2A1.4 1.1 125 1 0 94.4 222.4ZM91.5 224.5A0.9 0.5 107 1 0 92.0 222.8A0.9 0.5 107 1 0 91.5 224.5ZM87.4 227.5A0.7 0.5 168 1 0 88.9 227.2A0.7 0.5 168 1 0 87.4 227.5Z"/><path fill="#2a2a2a" opacity=".6" d="M97.8 225.7A1.4 1.3 126 1 0 99.5 223.4A1.4 1.3 126 1 0 97.8 225.7Z"/>
<path d="M64.4,228.6C64.7,227.7 67.2,224.8 67.9,225.0C68.6,225.2 71.3,229.8 71.5,231.0C71.7,232.2 70.7,237.3 70.3,238.1C69.9,238.9 67.3,239.6 66.8,239.3C66.2,239.0 64.6,235.6 64.4,234.6C64.2,233.6 64.1,229.5 64.4,228.6Z" fill="#6c6c6c" stroke="#444" stroke-width="1" stroke-opacity="0.8"/>
<path fill="#808080" opacity=".45" d="M69.0 236.9A2.2 1.0 27 1 0 65.2 234.9A2.2 1.0 27 1 0 69.0 236.9ZM66.7 235.9A1.8 0.9 126 1 0 68.8 233.0A1.8 0.9 126 1 0 66.7 235.9Z"/><path fill="#3a3a3a" opacity=".45" d="M63.4 234.4A2.9 2.6 123 1 0 66.6 229.5A2.9 2.6 123 1 0 63.4 234.4Z"/><path fill="#2a2a2a" opacity=".6" d="M68.1 234.9A0.9 0.6 167 1 0 70.0 234.4A0.9 0.6 167 1 0 68.1 234.9Z"/>
<path d="M73.9,234.6C74.3,233.8 79.5,232.3 81.0,232.2C82.5,232.1 89.3,233.0 90.5,233.4C91.7,233.8 94.2,236.3 94.0,237.0C93.8,237.7 89.7,240.2 88.1,240.5C86.5,240.8 77.6,241.0 76.2,240.5C74.9,240.0 73.5,235.4 73.9,234.6Z" fill="#606060" stroke="#444" stroke-width="1" stroke-opacity="0.8"/>
<path fill="#3a3a3a" opacity=".3" d="M79.8 237.0A1.7 1.2 154 1 0 82.8 235.5A1.7 1.2 154 1 0 79.8 237.0ZM81.1 237.9A2.1 1.0 136 1 0 84.2 235.0A2.1 1.0 136 1 0 81.1 237.9Z"/><path fill="#3a3a3a" opacity=".45" d="M82.7 239.0A2.9 2.6 2 1 0 77.0 238.8A2.9 2.6 2 1 0 82.7 239.0Z"/><path fill="#808080" opacity=".45" d="M81.4 236.3A1.4 1.3 125 1 0 82.9 234.1A1.4 1.3 125 1 0 81.4 236.3ZM91.3 240.1A1.3 0.6 70 1 0 90.3 237.6A1.3 0.6 70 1 0 91.3 240.1Z"/><path fill="#2a2a2a" opacity=".6" d="M85.7 234.5A0.7 0.4 118 1 0 86.4 233.3A0.7 0.4 118 1 0 85.7 234.5ZM88.5 235.6A0.8 0.8 153 1 0 90.0 234.8A0.8 0.8 153 1 0 88.5 235.6ZM89.1 236.1A1.1 0.7 126 1 0 90.4 234.3A1.1 0.7 126 1 0 89.1 236.1Z"/><path fill="#2a2a2a" opacity=".85" d="M92.4 238.2A1.0 0.7 134 1 0 93.7 236.9A1.0 0.7 134 1 0 92.4 238.2Z"/>
<path d="M67.9,221.5C68.1,221.0 74.6,219.2 76.2,219.1C77.9,219.0 85.1,219.9 85.8,220.3C86.4,220.7 84.5,223.5 83.4,223.9C82.3,224.3 75.3,225.2 73.9,225.0C72.5,224.8 67.7,222.0 67.9,221.5Z" fill="#6a6a6a" stroke="#444" stroke-width="1" stroke-opacity="0.8"/>
<path fill="#808080" opacity=".3" d="M77.4 222.7A3.1 1.8 15 1 0 71.4 221.1A3.1 1.8 15 1 0 77.4 222.7ZM80.9 225.2A2.8 2.5 86 1 0 80.5 219.5A2.8 2.5 86 1 0 80.9 225.2Z"/><path fill="#3a3a3a" opacity=".3" d="M73.6 224.4A2.2 1.2 90 1 0 73.6 219.9A2.2 1.2 90 1 0 73.6 224.4Z"/><path fill="#2a2a2a" opacity=".85" d="M68.2 222.8A1.3 0.8 137 1 0 70.1 221.1A1.3 0.8 137 1 0 68.2 222.8Z"/>
<path d="M7.4,215.0C7.7,214.4 9.7,213.7 10.0,214.0C10.3,214.3 11.1,217.4 11.0,218.0C10.9,218.6 8.9,220.8 8.5,221.0C8.1,221.2 6.5,220.6 6.4,220.0C6.3,219.4 7.1,215.6 7.4,215.0Z" fill="#767676" stroke="#444" stroke-width="1" stroke-opacity="0.8"/>
<path fill="#3a3a3a" opacity=".45" d="M6.4 221.4A2.3 1.8 141 1 0 9.9 218.6A2.3 1.8 141 1 0 6.4 221.4Z"/>
</g>
<clipPath id="em5"><rect x="101.8" y="176.0" width="92.4" height="70.9"/></clipPath>
<g clip-path="url(#em5)">
<rect x="101.8" y="176.0" width="92.4" height="70.9" fill="url(#g6)"/>
<path d="M103.6,183.5C104.3,182.3 107.7,178.4 109.5,177.6C111.3,176.8 117.3,176.4 119.0,176.8C120.7,177.3 123.1,179.8 123.8,181.1C124.4,182.4 125.2,186.7 124.9,188.2C124.6,189.8 122.6,193.4 121.4,194.2C120.2,195.0 115.9,195.5 114.2,195.4C112.6,195.3 108.3,193.8 107.1,193.0C105.9,192.2 104.0,189.4 103.6,188.2C103.2,187.1 102.9,184.7 103.6,183.5Z" fill="#8e8e8e" stroke="#444" stroke-width="1" stroke-opacity="0.8"/>
<path fill="#555" opacity=".3" d="M109.0 188.7A2.2 1.1 103 1 0 110.0 184.5A2.2 1.1 103 1 0 109.0 188.7ZM115.1 185.4A2.4 2.3 59 1 0 112.6 181.3A2.4 2.3 59 1 0 115.1 185.4ZM121.0 188.7A3.1 1.6 102 1 0 122.3 182.7A3.1 1.6 102 1 0 121.0 188.7Z"/><path fill="#aaa" opacity=".3" d="M109.8 178.7A3.1 1.6 166 1 0 115.8 177.2A3.1 1.6 166 1 0 109.8 178.7ZM113.0 193.3A2.9 1.4 33 1 0 108.1 190.1A2.9 1.4 33 1 0 113.0 193.3ZM124.0 184.4A2.1 1.3 71 1 0 122.7 180.5A2.1 1.3 71 1 0 124.0 184.4Z"/><path fill="#555" opacity=".45" d="M114.7 194.8A2.2 1.1 107 1 0 116.0 190.6A2.2 1.1 107 1 0 114.7 194.8ZM121.3 195.1A1.6 1.0 46 1 0 119.1 192.8A1.6 1.0 46 1 0 121.3 195.1ZM120.6 187.2A2.5 1.6 149 1 0 124.8 184.7A2.5 1.6 149 1 0 120.6 187.2ZM117.7 191.4A2.5 1.7 28 1 0 113.3 189.0A2.5 1.7 28 1 0 117.7 191.4Z"/><path fill="#aaa" opacity=".45" d="M122.6 193.1A2.1 1.8 21 1 0 118.6 191.6A2.1 1.8 21 1 0 122.6 193.1ZM122.8 190.2A2.1 1.6 23 1 0 119.0 188.6A2.1 1.6 23 1 0 122.8 190.2ZM122.0 193.1A1.9 1.3 5 1 0 118.1 192.7A1.9 1.3 5 1 0 122.0 193.1Z"/><path fill="#2a2a2a" opacity=".85" d="M107.5 180.3A1.2 0.9 116 1 0 108.6 178.1A1.2 0.9 116 1 0 107.5 180.3ZM114.7 182.3A0.7 0.7 147 1 0 115.9 181.6A0.7 0.7 147 1 0 114.7 182.3Z"/><path fill="#2a2a2a" opacity=".6" d="M115.7 188.5A1.0 0.7 170 1 0 117.7 188.2A1.0 0.7 170 1 0 115.7 188.5ZM117.0 178.0A0.7 0.6 142 1 0 118.0 177.2A0.7 0.6 142 1 0 117.0 178.0ZM119.9 178.6A0.7 0.7 96 1 0 120.1 177.2A0.7 0.7 96 1 0 119.9 178.6Z"/><path fill="#e8e8e8" opacity=".6" d="M109.1 182.7A1.6 0.9 8 1 0 106.0 182.3A1.6 0.9 8 1 0 109.1 182.7ZM123.5 185.4A1.3 0.9 98 1 0 123.8 182.8A1.3 0.9 98 1 0 123.5 185.4Z"/><path fill="#e8e8e8" opacity=".85" d="M114.7 196.3A1.3 0.8 81 1 0 114.3 193.8A1.3 0.8 81 1 0 114.7 196.3Z"/>
<path d="M126.1,188.2C126.5,188.0 128.3,188.3 129.7,189.4C131.1,190.5 136.3,195.9 138.0,197.8C139.7,199.6 143.3,203.8 143.9,204.9C144.5,206.0 143.4,207.4 142.8,207.2C142.1,207.1 139.4,204.9 138.0,203.7C136.6,202.5 132.2,198.0 130.9,196.6C129.6,195.2 127.2,192.8 126.6,191.8C126.0,190.8 125.7,188.5 126.1,188.2Z" fill="#7c7c7c" stroke="#444" stroke-width="1" stroke-opacity="0.8"/>
<path fill="#555" opacity=".3" d="M131.1 194.6A1.6 1.5 141 1 0 133.5 192.7A1.6 1.5 141 1 0 131.1 194.6ZM130.3 191.1A2.8 2.2 10 1 0 124.8 190.1A2.8 2.2 10 1 0 130.3 191.1ZM137.0 200.6A2.3 1.3 30 1 0 133.0 198.2A2.3 1.3 30 1 0 137.0 200.6ZM141.4 202.7A2.3 2.1 61 1 0 139.2 198.7A2.3 2.1 61 1 0 141.4 202.7ZM127.4 193.5A2.6 2.3 139 1 0 131.4 190.0A2.6 2.3 139 1 0 127.4 193.5Z"/><path fill="#aaa" opacity=".3" d="M137.7 200.0A1.5 1.4 99 1 0 138.2 197.1A1.5 1.4 99 1 0 137.7 200.0ZM140.9 200.1A3.2 2.6 3 1 0 134.6 199.7A3.2 2.6 3 1 0 140.9 200.1ZM134.6 197.7A2.4 1.8 92 1 0 134.8 192.9A2.4 1.8 92 1 0 134.6 197.7Z"/><path fill="#555" opacity=".45" d="M135.8 200.3A2.6 2.6 174 1 0 141.0 199.7A2.6 2.6 174 1 0 135.8 200.3ZM141.5 203.9A2.9 2.6 74 1 0 139.9 198.4A2.9 2.6 74 1 0 141.5 203.9Z"/><path fill="#aaa" opacity=".45" d="M135.3 201.5A3.1 2.3 118 1 0 138.2 196.0A3.1 2.3 118 1 0 135.3 201.5Z"/><path fill="#2a2a2a" opacity=".6" d="M140.1 204.4A1.0 1.0 52 1 0 138.8 202.8A1.0 1.0 52 1 0 140.1 204.4Z"/><path fill="#2a2a2a" opacity=".85" d="M133.0 197.0A0.8 0.6 92 1 0 133.1 195.4A0.8 0.6 92 1 0 133.0 197.0Z"/>
<path d="M127.3,176.8C128.9,176.4 139.8,176.0 141.6,176.4C143.4,176.8 143.7,179.4 142.8,179.9C141.8,180.4 135.0,181.1 133.2,181.1C131.5,181.1 128.7,180.4 128.0,179.9C127.3,179.4 125.7,177.3 127.3,176.8Z" fill="#8a8a8a" stroke="#444" stroke-width="1" stroke-opacity="0.8"/>
<path fill="#555" opacity=".45" d="M138.5 181.7A2.7 1.6 139 1 0 142.6 178.1A2.7 1.6 139 1 0 138.5 181.7Z"/><path fill="#555" opacity=".3" d="M134.6 178.4A3.1 1.5 23 1 0 128.9 176.0A3.1 1.5 23 1 0 134.6 178.4Z"/>
<path d="M142.8,178.8C143.2,178.4 146.0,178.5 147.5,179.2C149.0,179.9 154.4,183.5 155.8,184.7C157.2,185.9 159.3,188.8 159.4,189.4C159.5,190.0 158.1,190.6 157.0,190.2C155.9,189.7 151.4,186.8 149.9,185.9C148.4,185.0 144.7,183.1 143.9,182.3C143.1,181.5 142.3,179.1 142.8,178.8Z" fill="#858585" stroke="#444" stroke-width="1" stroke-opacity="0.8"/>
<path fill="#555" opacity=".3" d="M148.3 183.7A3.0 2.1 28 1 0 143.0 180.8A3.0 2.1 28 1 0 148.3 183.7ZM157.7 186.9A3.0 2.3 18 1 0 151.9 185.0A3.0 2.3 18 1 0 157.7 186.9Z"/><path fill="#aaa" opacity=".3" d="M149.4 187.9A3.0 1.6 105 1 0 150.9 182.1A3.0 1.6 105 1 0 149.4 187.9ZM148.2 183.5A2.1 2.0 135 1 0 151.2 180.5A2.1 2.0 135 1 0 148.2 183.5ZM152.6 184.5A2.7 1.9 43 1 0 148.6 180.9A2.7 1.9 43 1 0 152.6 184.5Z"/><path fill="#555" opacity=".45" d="M150.7 185.6A2.3 1.8 41 1 0 147.3 182.7A2.3 1.8 41 1 0 150.7 185.6Z"/><path fill="#2a2a2a" opacity=".85" d="M144.7 181.5A0.7 0.6 157 1 0 146.0 180.9A0.7 0.6 157 1 0 144.7 181.5Z"/>
<path d="M148.7,194.2C149.2,193.2 152.2,190.5 153.4,190.2C154.6,189.8 158.4,190.3 159.4,191.1C160.4,191.9 162.0,195.3 162.2,196.6C162.4,197.9 161.9,201.5 161.3,202.5C160.7,203.5 158.2,205.2 157.0,205.3C155.8,205.5 152.1,204.5 151.1,203.7C150.1,202.9 149.0,200.0 148.7,198.9C148.4,197.8 148.2,195.2 148.7,194.2Z" fill="#7e7e7e" stroke="#444" stroke-width="1" stroke-opacity="0.8"/>
<path fill="#555" opacity=".45" d="M151.9 205.0A1.9 1.2 161 1 0 155.5 203.8A1.9 1.2 161 1 0 151.9 205.0ZM164.5 199.4A3.1 1.8 4 1 0 158.3 198.9A3.1 1.8 4 1 0 164.5 199.4ZM149.6 203.8A1.7 0.9 131 1 0 151.9 201.2A1.7 0.9 131 1 0 149.6 203.8ZM154.4 202.7A1.3 1.0 124 1 0 155.9 200.4A1.3 1.0 124 1 0 154.4 202.7ZM152.6 196.4A3.0 1.9 68 1 0 150.4 190.9A3.0 1.9 68 1 0 152.6 196.4ZM159.9 200.0A1.4 1.0 171 1 0 162.7 199.5A1.4 1.0 171 1 0 159.9 200.0Z"/><path fill="#2a2a2a" opacity=".6" d="M158.3 198.8A1.1 0.8 127 1 0 159.6 197.0A1.1 0.8 127 1 0 158.3 198.8ZM161.8 195.2A1.2 1.2 18 1 0 159.5 194.4A1.2 1.2 18 1 0 161.8 195.2ZM159.3 194.6A0.6 0.5 119 1 0 159.9 193.5A0.6 0.5 119 1 0 159.3 194.6Z"/><path fill="#e8e8e8" opacity=".85" d="M152.6 205.5A1.7 1.7 146 1 0 155.4 203.6A1.7 1.7 146 1 0 152.6 205.5Z"/>
<path d="M171.2,184.7C171.8,184.2 176.6,185.1 178.4,185.9C180.2,186.7 185.2,190.4 186.7,191.8C188.2,193.2 191.2,196.8 191.4,197.8C191.7,198.7 190.3,199.9 189.1,199.7C187.9,199.4 182.6,196.5 180.8,195.4C178.9,194.3 174.7,191.8 173.6,190.6C172.5,189.4 170.7,185.2 171.2,184.7Z" fill="#858585" stroke="#444" stroke-width="1" stroke-opacity="0.8"/>
<path fill="#555" opacity=".45" d="M178.6 192.9A3.1 2.2 178 1 0 184.8 192.6A3.1 2.2 178 1 0 178.6 192.9ZM176.4 192.9A1.9 0.9 116 1 0 178.1 189.5A1.9 0.9 116 1 0 176.4 192.9ZM185.3 198.7A2.9 1.7 135 1 0 189.5 194.6A2.9 1.7 135 1 0 185.3 198.7ZM183.5 195.5A1.4 0.6 27 1 0 181.0 194.2A1.4 0.6 27 1 0 183.5 195.5ZM190.2 196.6A1.3 0.6 58 1 0 188.8 194.5A1.3 0.6 58 1 0 190.2 196.6ZM184.5 199.5A2.7 2.1 130 1 0 188.0 195.4A2.7 2.1 130 1 0 184.5 199.5Z"/><path fill="#aaa" opacity=".3" d="M175.9 188.1A2.5 1.4 113 1 0 177.8 183.6A2.5 1.4 113 1 0 175.9 188.1ZM181.5 191.2A2.5 2.3 46 1 0 178.0 187.6A2.5 2.3 46 1 0 181.5 191.2Z"/><path fill="#aaa" opacity=".45" d="M180.6 196.3A2.8 2.4 134 1 0 184.5 192.3A2.8 2.4 134 1 0 180.6 196.3Z"/><path fill="#555" opacity=".3" d="M175.1 191.9A2.7 2.0 61 1 0 172.5 187.2A2.7 2.0 61 1 0 175.1 191.9Z"/><path fill="#2a2a2a" opacity=".85" d="M178.2 187.9A1.3 1.1 72 1 0 177.4 185.4A1.3 1.1 72 1 0 178.2 187.9Z"/>
<path d="M101.9,207.2C102.5,206.1 105.8,204.9 107.1,204.9C108.4,204.9 112.2,206.3 113.0,207.2C113.8,208.2 114.5,212.0 114.2,213.2C114.0,214.4 111.8,217.4 110.7,217.9C109.6,218.4 105.8,218.3 104.8,217.9C103.7,217.5 102.2,215.6 101.9,214.4C101.6,213.2 101.3,208.4 101.9,207.2Z" fill="#888888" stroke="#444" stroke-width="1" stroke-opacity="0.8"/>
<path fill="#555" opacity=".3" d="M107.5 217.9A2.5 1.8 32 1 0 103.3 215.3A2.5 1.8 32 1 0 107.5 217.9ZM113.2 213.5A1.8 1.1 63 1 0 111.6 210.2A1.8 1.1 63 1 0 113.2 213.5ZM110.6 218.0A2.5 1.5 120 1 0 113.1 213.7A2.5 1.5 120 1 0 110.6 218.0Z"/><path fill="#555" opacity=".45" d="M111.5 216.7A2.3 2.0 23 1 0 107.2 214.9A2.3 2.0 23 1 0 111.5 216.7Z"/><path fill="#aaa" opacity=".3" d="M101.0 215.4A2.9 2.8 152 1 0 106.2 212.6A2.9 2.8 152 1 0 101.0 215.4Z"/><path fill="#2a2a2a" opacity=".6" d="M104.2 218.0A1.3 0.7 108 1 0 105.0 215.6A1.3 0.7 108 1 0 104.2 218.0ZM109.6 208.0A1.2 1.0 102 1 0 110.1 205.6A1.2 1.0 102 1 0 109.6 208.0Z"/><path fill="#e8e8e8" opacity=".6" d="M109.4 208.1A1.6 1.3 15 1 0 106.2 207.2A1.6 1.3 15 1 0 109.4 208.1Z"/>
<path d="M138.0,207.2C138.3,206.7 140.5,207.6 141.6,208.4C142.7,209.2 146.5,212.9 147.5,214.4C148.5,215.9 149.9,220.5 149.9,221.5C149.9,222.5 148.3,223.1 147.5,222.7C146.7,222.3 143.7,219.0 142.8,217.9C141.8,216.8 139.8,214.4 139.2,213.2C138.6,212.0 137.7,207.8 138.0,207.2Z" fill="#808080" stroke="#444" stroke-width="1" stroke-opacity="0.8"/>
<path fill="#aaa" opacity=".45" d="M139.6 218.8A3.1 1.8 141 1 0 144.4 214.8A3.1 1.8 141 1 0 139.6 218.8Z"/><path fill="#555" opacity=".45" d="M142.8 213.2A2.2 1.3 133 1 0 145.9 209.9A2.2 1.3 133 1 0 142.8 213.2ZM144.4 214.2A2.1 1.8 45 1 0 141.4 211.2A2.1 1.8 45 1 0 144.4 214.2Z"/><path fill="#aaa" opacity=".3" d="M145.2 221.2A1.5 1.1 117 1 0 146.6 218.6A1.5 1.1 117 1 0 145.2 221.2Z"/><path fill="#555" opacity=".3" d="M146.7 222.2A2.1 1.0 174 1 0 150.9 221.8A2.1 1.0 174 1 0 146.7 222.2ZM143.2 213.3A1.6 1.6 79 1 0 142.6 210.1A1.6 1.6 79 1 0 143.2 213.3Z"/><path fill="#2a2a2a" opacity=".85" d="M142.7 218.4A1.2 0.7 175 1 0 145.1 218.2A1.2 0.7 175 1 0 142.7 218.4Z"/>
<path d="M154.6,209.6C155.4,209.1 161.6,208.5 164.1,208.4C166.6,208.3 173.8,208.3 176.0,208.4C178.2,208.5 182.8,209.2 183.1,209.6C183.4,210.0 180.3,211.6 178.4,212.0C176.5,212.4 169.0,213.1 166.5,213.2C164.0,213.3 158.4,212.9 157.0,212.5C155.6,212.1 153.8,210.1 154.6,209.6Z" fill="#8a8a8a" stroke="#444" stroke-width="1" stroke-opacity="0.8"/>
<path fill="#aaa" opacity=".45" d="M155.9 212.4A2.9 1.6 67 1 0 153.7 207.1A2.9 1.6 67 1 0 155.9 212.4Z"/><path fill="#555" opacity=".3" d="M162.9 210.6A1.2 1.1 13 1 0 160.5 210.1A1.2 1.1 13 1 0 162.9 210.6ZM174.3 213.7A2.4 2.0 46 1 0 171.0 210.2A2.4 2.0 46 1 0 174.3 213.7ZM163.8 210.8A2.9 2.5 44 1 0 159.6 206.7A2.9 2.5 44 1 0 163.8 210.8Z"/><path fill="#2a2a2a" opacity=".85" d="M157.1 211.9A0.7 0.5 25 1 0 155.9 211.3A0.7 0.5 25 1 0 157.1 211.9Z"/>
<path d="M184.3,207.2C184.9,206.1 190.3,205.0 191.4,204.9C192.6,204.8 193.5,204.8 193.8,206.0C194.1,207.2 194.2,214.1 193.8,215.6C193.4,217.1 191.1,219.2 190.2,219.1C189.4,219.0 187.4,215.8 186.7,214.4C186.0,213.0 183.7,208.4 184.3,207.2Z" fill="#858585" stroke="#444" stroke-width="1" stroke-opacity="0.8"/>
<path fill="#aaa" opacity=".3" d="M191.2 207.7A2.3 1.2 96 1 0 191.7 203.1A2.3 1.2 96 1 0 191.2 207.7ZM190.9 216.4A1.5 1.1 50 1 0 188.9 214.1A1.5 1.1 50 1 0 190.9 216.4Z"/><path fill="#555" opacity=".3" d="M189.8 208.4A2.9 2.4 9 1 0 184.1 207.4A2.9 2.4 9 1 0 189.8 208.4Z"/><path fill="#555" opacity=".45" d="M185.4 213.1A1.9 1.3 132 1 0 188.0 210.2A1.9 1.3 132 1 0 185.4 213.1Z"/><path fill="#2a2a2a" opacity=".85" d="M184.7 212.0A1.5 1.3 125 1 0 186.4 209.6A1.5 1.3 125 1 0 184.7 212.0Z"/>
<path d="M120.2,217.9C120.9,216.7 124.6,213.6 126.1,213.2C127.6,212.8 132.0,213.7 133.2,214.4C134.5,215.1 136.4,217.4 136.8,219.1C137.2,220.8 137.2,226.7 136.8,228.6C136.4,230.5 134.5,234.8 133.2,235.8C132.0,236.7 127.5,237.5 126.1,236.9C124.7,236.3 122.1,232.5 121.4,231.0C120.7,229.5 120.3,225.4 120.2,223.9C120.1,222.4 119.5,219.1 120.2,217.9Z" fill="#888888" stroke="#444" stroke-width="1" stroke-opacity="0.8"/>
<path fill="#555" opacity=".3" d="M125.6 218.5A2.8 1.3 173 1 0 131.2 217.8A2.8 1.3 173 1 0 125.6 218.5ZM123.0 219.3A2.9 1.8 37 1 0 118.4 215.8A2.9 1.8 37 1 0 123.0 219.3ZM138.8 220.5A2.0 2.0 3 1 0 134.8 220.3A2.0 2.0 3 1 0 138.8 220.5Z"/><path fill="#aaa" opacity=".3" d="M127.5 234.7A1.5 1.1 99 1 0 128.0 231.8A1.5 1.1 99 1 0 127.5 234.7ZM139.0 221.7A3.0 1.8 19 1 0 133.3 219.7A3.0 1.8 19 1 0 139.0 221.7ZM135.4 216.1A1.8 1.3 7 1 0 131.8 215.7A1.8 1.3 7 1 0 135.4 216.1ZM133.0 234.4A2.4 1.2 100 1 0 133.8 229.7A2.4 1.2 100 1 0 133.0 234.4Z"/><path fill="#555" opacity=".45" d="M130.0 236.2A2.6 1.9 28 1 0 125.4 233.7A2.6 1.9 28 1 0 130.0 236.2ZM125.8 222.9A2.7 2.4 15 1 0 120.6 221.6A2.7 2.4 15 1 0 125.8 222.9Z"/><path fill="#aaa" opacity=".45" d="M129.0 228.7A1.6 0.8 124 1 0 130.7 226.0A1.6 0.8 124 1 0 129.0 228.7ZM133.0 229.4A3.0 2.4 134 1 0 137.2 225.1A3.0 2.4 134 1 0 133.0 229.4ZM122.4 217.7A1.6 1.1 142 1 0 125.0 215.6A1.6 1.1 142 1 0 122.4 217.7ZM128.7 219.3A1.6 0.7 95 1 0 129.0 216.2A1.6 0.7 95 1 0 128.7 219.3Z"/><path fill="#2a2a2a" opacity=".6" d="M121.2 226.4A0.9 0.9 154 1 0 122.9 225.6A0.9 0.9 154 1 0 121.2 226.4ZM127.3 230.5A0.9 0.7 144 1 0 128.7 229.4A0.9 0.7 144 1 0 127.3 230.5Z"/><path fill="#2a2a2a" opacity=".85" d="M126.6 233.5A0.7 0.4 101 1 0 126.9 232.1A0.7 0.4 101 1 0 126.6 233.5Z"/><path fill="#e8e8e8" opacity=".6" d="M133.9 222.3A1.5 0.8 4 1 0 131.0 222.1A1.5 0.8 4 1 0 133.9 222.3ZM130.6 236.1A1.0 0.9 5 1 0 128.6 235.9A1.0 0.9 5 1 0 130.6 236.1ZM120.3 222.3A1.7 1.7 154 1 0 123.4 220.7A1.7 1.7 154 1 0 120.3 222.3ZM135.5 228.7A0.9 0.7 122 1 0 136.4 227.2A0.9 0.7 122 1 0 135.5 228.7ZM124.0 227.5A1.0 0.9 102 1 0 124.4 225.6A1.0 0.9 102 1 0 124.0 227.5Z"/><path fill="#e8e8e8" opacity=".85" d="M127.7 234.1A0.6 0.6 81 1 0 127.5 232.8A0.6 0.6 81 1 0 127.7 234.1ZM129.7 228.7A1.4 0.8 55 1 0 128.1 226.4A1.4 0.8 55 1 0 129.7 228.7ZM123.9 234.3A1.8 1.4 107 1 0 124.9 231.0A1.8 1.4 107 1 0 123.9 234.3ZM125.5 235.0A1.3 1.2 126 1 0 127.0 232.9A1.3 1.2 126 1 0 125.5 235.0Z"/>
<path d="M109.5,221.5C109.9,220.5 112.2,217.9 113.0,217.9C113.8,217.9 115.9,220.3 116.6,221.5C117.3,222.7 119.0,227.4 119.0,228.6C119.0,229.8 117.4,231.9 116.6,232.2C115.8,232.5 112.7,231.7 111.9,231.0C111.1,230.3 109.8,227.4 109.5,226.2C109.2,225.1 109.1,222.5 109.5,221.5Z" fill="#828282" stroke="#444" stroke-width="1" stroke-opacity="0.8"/>
<path fill="#aaa" opacity=".45" d="M115.0 224.7A2.0 1.5 107 1 0 116.1 220.8A2.0 1.5 107 1 0 115.0 224.7ZM114.2 221.6A2.1 1.0 58 1 0 112.0 218.1A2.1 1.0 58 1 0 114.2 221.6Z"/><path fill="#555" opacity=".45" d="M114.1 227.5A1.6 1.4 105 1 0 114.9 224.4A1.6 1.4 105 1 0 114.1 227.5Z"/><path fill="#555" opacity=".3" d="M117.5 228.7A2.3 1.2 23 1 0 113.3 226.9A2.3 1.2 23 1 0 117.5 228.7Z"/><path fill="#2a2a2a" opacity=".6" d="M114.6 222.0A0.9 0.8 124 1 0 115.6 220.5A0.9 0.8 124 1 0 114.6 222.0Z"/><path fill="#2a2a2a" opacity=".85" d="M116.8 223.9A1.2 0.9 85 1 0 116.6 221.4A1.2 0.9 85 1 0 116.8 223.9Z"/>
<path d="M138.0,231.0C138.6,230.1 141.4,227.8 142.8,227.4C144.1,227.0 148.7,226.8 149.9,227.4C151.1,228.0 153.1,231.0 153.4,232.2C153.7,233.4 153.1,237.0 152.2,238.1C151.4,239.2 147.7,241.6 146.3,241.7C144.9,241.8 141.4,240.0 140.4,239.3C139.4,238.6 138.3,236.3 138.0,235.3C137.7,234.3 137.4,231.9 138.0,231.0Z" fill="#858585" stroke="#444" stroke-width="1" stroke-opacity="0.8"/>
<path fill="#555" opacity=".45" d="M150.1 230.8A1.7 1.0 30 1 0 147.2 229.2A1.7 1.0 30 1 0 150.1 230.8ZM141.2 237.4A3.2 1.7 86 1 0 140.7 231.0A3.2 1.7 86 1 0 141.2 237.4ZM140.2 238.2A2.7 1.6 107 1 0 141.8 233.0A2.7 1.6 107 1 0 140.2 238.2Z"/><path fill="#aaa" opacity=".45" d="M142.4 240.7A2.6 1.3 142 1 0 146.5 237.6A2.6 1.3 142 1 0 142.4 240.7ZM150.1 233.5A3.2 1.6 26 1 0 144.4 230.7A3.2 1.6 26 1 0 150.1 233.5Z"/><path fill="#555" opacity=".3" d="M144.7 231.4A2.7 2.0 111 1 0 146.6 226.4A2.7 2.0 111 1 0 144.7 231.4Z"/><path fill="#aaa" opacity=".3" d="M142.9 229.8A1.7 1.4 24 1 0 139.8 228.5A1.7 1.4 24 1 0 142.9 229.8Z"/><path fill="#2a2a2a" opacity=".85" d="M143.8 228.5A1.4 1.3 6 1 0 141.0 228.2A1.4 1.3 6 1 0 143.8 228.5ZM147.9 230.4A0.6 0.3 49 1 0 147.1 229.5A0.6 0.3 49 1 0 147.9 230.4Z"/><path fill="#2a2a2a" opacity=".6" d="M140.6 231.6A0.8 0.6 135 1 0 141.7 230.5A0.8 0.6 135 1 0 140.6 231.6Z"/><path fill="#e8e8e8" opacity=".85" d="M147.0 237.7A1.8 1.6 88 1 0 146.9 234.1A1.8 1.6 88 1 0 147.0 237.7ZM144.6 230.2A1.3 0.8 31 1 0 142.4 228.9A1.3 0.8 31 1 0 144.6 230.2Z"/><path fill="#e8e8e8" opacity=".6" d="M150.8 237.7A1.7 1.4 152 1 0 153.9 236.0A1.7 1.4 152 1 0 150.8 237.7Z"/>
<path d="M157.0,231.0C157.3,230.0 160.5,228.3 161.8,228.2C163.0,228.1 166.9,229.1 167.7,229.8C168.5,230.5 169.2,233.6 168.9,234.6C168.6,235.6 166.4,237.8 165.3,238.1C164.2,238.4 160.4,237.7 159.4,236.9C158.4,236.1 156.7,232.0 157.0,231.0Z" fill="#888888" stroke="#444" stroke-width="1" stroke-opacity="0.8"/>
<path fill="#aaa" opacity=".45" d="M163.2 233.3A1.9 1.6 65 1 0 161.6 229.8A1.9 1.6 65 1 0 163.2 233.3ZM163.3 236.3A1.9 1.9 166 1 0 167.0 235.4A1.9 1.9 166 1 0 163.3 236.3Z"/><path fill="#555" opacity=".45" d="M160.5 232.8A1.9 1.7 171 1 0 164.3 232.2A1.9 1.7 171 1 0 160.5 232.8Z"/><path fill="#2a2a2a" opacity=".85" d="M166.3 237.2A0.7 0.7 70 1 0 165.8 235.9A0.7 0.7 70 1 0 166.3 237.2Z"/><path fill="#2a2a2a" opacity=".6" d="M165.5 234.9A0.7 0.6 15 1 0 164.0 234.5A0.7 0.6 15 1 0 165.5 234.9Z"/><path fill="#e8e8e8" opacity=".85" d="M167.7 233.8A1.7 0.9 4 1 0 164.3 233.6A1.7 0.9 4 1 0 167.7 233.8Z"/>
<path d="M170.0,223.9C170.4,223.1 174.5,221.6 176.0,221.5C177.5,221.4 182.0,222.1 183.1,222.7C184.2,223.3 185.8,225.4 185.5,226.2C185.2,227.1 182.3,229.5 180.8,229.8C179.2,230.1 173.7,229.3 172.4,228.6C171.1,227.9 169.6,224.7 170.0,223.9Z" fill="#868686" stroke="#444" stroke-width="1" stroke-opacity="0.8"/>
<path fill="#555" opacity=".3" d="M173.0 225.0A1.5 1.5 124 1 0 174.7 222.5A1.5 1.5 124 1 0 173.0 225.0Z"/><path fill="#aaa" opacity=".3" d="M177.9 226.0A2.3 2.1 174 1 0 182.4 225.5A2.3 2.1 174 1 0 177.9 226.0Z"/><path fill="#555" opacity=".45" d="M180.7 225.1A1.5 0.8 178 1 0 183.7 225.0A1.5 0.8 178 1 0 180.7 225.1ZM180.0 226.2A2.2 2.0 138 1 0 183.4 223.2A2.2 2.0 138 1 0 180.0 226.2Z"/><path fill="#2a2a2a" opacity=".85" d="M182.1 226.4A1.2 0.8 174 1 0 184.6 226.1A1.2 0.8 174 1 0 182.1 226.4Z"/><path fill="#e8e8e8" opacity=".85" d="M172.3 227.8A1.1 0.9 100 1 0 172.7 225.8A1.1 0.9 100 1 0 172.3 227.8Z"/>
<path d="M177.2,233.4C177.6,232.4 181.6,230.1 183.1,229.8C184.6,229.5 189.1,230.3 190.2,231.0C191.4,231.7 192.9,234.8 192.6,235.8C192.3,236.7 189.4,239.0 187.9,239.3C186.4,239.6 180.8,239.3 179.6,238.6C178.4,237.9 176.8,234.4 177.2,233.4Z" fill="#868686" stroke="#444" stroke-width="1" stroke-opacity="0.8"/>
<path fill="#aaa" opacity=".3" d="M184.4 236.9A1.5 1.5 38 1 0 182.1 235.1A1.5 1.5 38 1 0 184.4 236.9Z"/><path fill="#555" opacity=".45" d="M184.8 231.6A2.0 1.5 52 1 0 182.3 228.5A2.0 1.5 52 1 0 184.8 231.6ZM180.8 232.3A1.8 1.4 137 1 0 183.4 229.9A1.8 1.4 137 1 0 180.8 232.3Z"/><path fill="#555" opacity=".3" d="M187.1 235.0A1.3 0.7 44 1 0 185.3 233.3A1.3 0.7 44 1 0 187.1 235.0Z"/><path fill="#2a2a2a" opacity=".6" d="M182.1 238.5A0.8 0.7 126 1 0 183.1 237.2A0.8 0.7 126 1 0 182.1 238.5Z"/><path fill="#2a2a2a" opacity=".85" d="M190.8 234.5A1.0 0.8 28 1 0 189.0 233.6A1.0 0.8 28 1 0 190.8 234.5Z"/><path fill="#e8e8e8" opacity=".85" d="M180.5 237.7A1.4 0.6 100 1 0 181.0 235.0A1.4 0.6 100 1 0 180.5 237.7Z"/>
<g fill="none" stroke="#333" stroke-width="0.7"><path d="M170,199c1-2 2,-1 1,2s1,3 2,1"/><path d="M176,200c0,2 1,3 2,4"/><path d="M180,205l1.5,-1"/></g>
<g fill="#bdbdbd" opacity="0.6"><ellipse cx="110" cy="200" rx="6" ry="3"/><ellipse cx="122" cy="203" rx="5" ry="2.5"/></g>
</g>
<clipPath id="em6"><rect x="6.4" y="249.8" width="92.9" height="71.1"/></clipPath>
<g clip-path="url(#em6)">
<rect x="6.4" y="249.8" width="92.9" height="71.1" fill="#dfdfdf"/>
<path d="M14.5,302.6C13.3,301.0 12.9,298.7 13.3,295.5C13.7,292.3 15.1,287.6 16.9,283.6C18.7,279.6 21.6,275.3 24.0,271.8C26.4,268.2 28.3,265.0 31.1,262.2C33.9,259.5 37.6,256.7 40.6,255.1C43.6,253.5 46.9,252.6 48.9,252.8C50.9,252.9 52.3,253.9 52.5,256.3C52.7,258.7 51.5,262.8 50.1,267.0C48.7,271.2 46.2,277.1 44.2,281.2C42.2,285.4 40.8,288.8 38.2,292.0C35.7,295.2 31.7,298.1 28.8,300.2C25.8,302.4 22.8,304.6 20.4,305.0C18.0,305.4 15.7,304.2 14.5,302.6Z" fill="#858585" stroke="#444" stroke-width="1" stroke-opacity="0.8"/>
<path fill="#555" opacity=".3" d="M49.5 269.3A1.8 1.4 101 1 0 50.2 265.8A1.8 1.4 101 1 0 49.5 269.3ZM27.1 289.4A3.0 1.5 28 1 0 21.8 286.6A3.0 1.5 28 1 0 27.1 289.4ZM30.0 279.4A1.5 0.9 107 1 0 30.8 276.6A1.5 0.9 107 1 0 30.0 279.4ZM21.5 292.4A2.9 1.9 136 1 0 25.7 288.4A2.9 1.9 136 1 0 21.5 292.4ZM52.7 262.5A1.9 1.2 9 1 0 49.0 261.9A1.9 1.2 9 1 0 52.7 262.5ZM35.9 266.3A2.6 2.3 97 1 0 36.5 261.2A2.6 2.3 97 1 0 35.9 266.3ZM41.5 275.4A1.4 1.3 155 1 0 44.1 274.1A1.4 1.3 155 1 0 41.5 275.4ZM25.6 275.0A1.9 1.2 170 1 0 29.4 274.4A1.9 1.2 170 1 0 25.6 275.0ZM34.2 271.8A1.7 1.1 159 1 0 37.3 270.6A1.7 1.1 159 1 0 34.2 271.8ZM47.9 270.7A1.9 1.1 41 1 0 45.0 268.3A1.9 1.1 41 1 0 47.9 270.7ZM24.9 275.9A2.0 1.1 166 1 0 28.8 274.9A2.0 1.1 166 1 0 24.9 275.9ZM41.5 267.9A1.7 1.3 126 1 0 43.5 265.1A1.7 1.3 126 1 0 41.5 267.9ZM24.7 280.8A2.3 1.8 48 1 0 21.7 277.4A2.3 1.8 48 1 0 24.7 280.8ZM18.5 287.1A1.6 0.8 138 1 0 20.9 284.9A1.6 0.8 138 1 0 18.5 287.1ZM19.1 299.0A2.6 2.5 84 1 0 18.5 293.9A2.6 2.5 84 1 0 19.1 299.0ZM18.2 303.0A1.8 1.2 111 1 0 19.5 299.6A1.8 1.2 111 1 0 18.2 303.0ZM50.6 268.6A1.6 1.2 8 1 0 47.4 268.1A1.6 1.2 8 1 0 50.6 268.6ZM38.3 261.3A2.5 1.6 102 1 0 39.3 256.4A2.5 1.6 102 1 0 38.3 261.3ZM26.4 290.8A1.9 1.0 140 1 0 29.4 288.3A1.9 1.0 140 1 0 26.4 290.8ZM49.7 256.5A2.2 1.6 27 1 0 45.8 254.5A2.2 1.6 27 1 0 49.7 256.5ZM40.6 264.3A2.1 2.0 89 1 0 40.5 260.1A2.1 2.0 89 1 0 40.6 264.3ZM45.4 273.6A2.1 1.6 46 1 0 42.5 270.6A2.1 1.6 46 1 0 45.4 273.6Z"/><path fill="#555" opacity=".45" d="M52.4 261.0A3.2 1.5 5 1 0 46.0 260.4A3.2 1.5 5 1 0 52.4 261.0ZM42.1 270.2A2.4 1.4 56 1 0 39.5 266.2A2.4 1.4 56 1 0 42.1 270.2ZM24.7 302.5A1.2 0.8 124 1 0 26.0 300.4A1.2 0.8 124 1 0 24.7 302.5ZM31.8 281.2A1.9 1.4 124 1 0 34.0 278.0A1.9 1.4 124 1 0 31.8 281.2ZM21.0 295.1A2.5 1.8 114 1 0 23.1 290.5A2.5 1.8 114 1 0 21.0 295.1ZM40.0 270.7A2.7 2.5 56 1 0 36.9 266.1A2.7 2.5 56 1 0 40.0 270.7ZM33.9 289.5A2.3 2.2 157 1 0 38.2 287.7A2.3 2.2 157 1 0 33.9 289.5ZM32.7 265.4A1.6 0.8 68 1 0 31.5 262.5A1.6 0.8 68 1 0 32.7 265.4ZM28.2 298.8A2.6 1.8 19 1 0 23.3 297.1A2.6 1.8 19 1 0 28.2 298.8ZM36.2 272.6A2.5 1.4 148 1 0 40.5 269.9A2.5 1.4 148 1 0 36.2 272.6ZM26.5 291.6A3.1 2.8 149 1 0 31.7 288.4A3.1 2.8 149 1 0 26.5 291.6ZM23.2 280.9A3.1 3.1 144 1 0 28.2 277.3A3.1 3.1 144 1 0 23.2 280.9ZM29.8 268.2A2.4 2.1 164 1 0 34.3 266.9A2.4 2.1 164 1 0 29.8 268.2ZM20.9 289.1A2.6 1.5 84 1 0 20.4 284.0A2.6 1.5 84 1 0 20.9 289.1ZM27.7 271.4A2.2 2.0 23 1 0 23.6 269.7A2.2 2.0 23 1 0 27.7 271.4ZM32.5 293.0A1.8 1.5 128 1 0 34.7 290.2A1.8 1.5 128 1 0 32.5 293.0ZM47.6 259.3A2.8 2.2 109 1 0 49.5 254.0A2.8 2.2 109 1 0 47.6 259.3ZM44.3 275.3A1.8 1.7 106 1 0 45.3 271.8A1.8 1.7 106 1 0 44.3 275.3ZM19.0 294.4A2.9 1.4 154 1 0 24.2 291.8A2.9 1.4 154 1 0 19.0 294.4ZM41.5 290.0A2.5 2.2 32 1 0 37.2 287.3A2.5 2.2 32 1 0 41.5 290.0ZM47.2 255.3A1.4 1.2 175 1 0 50.1 255.0A1.4 1.2 175 1 0 47.2 255.3ZM42.7 275.5A2.2 1.5 50 1 0 39.9 272.1A2.2 1.5 50 1 0 42.7 275.5ZM38.9 262.5A3.0 1.4 104 1 0 40.4 256.7A3.0 1.4 104 1 0 38.9 262.5ZM20.1 281.0A1.8 0.8 106 1 0 21.1 277.5A1.8 0.8 106 1 0 20.1 281.0ZM41.4 274.3A2.4 1.2 81 1 0 40.6 269.6A2.4 1.2 81 1 0 41.4 274.3Z"/><path fill="#aaa" opacity=".3" d="M19.9 292.2A2.4 1.7 120 1 0 22.3 288.1A2.4 1.7 120 1 0 19.9 292.2ZM44.0 263.1A2.3 1.9 108 1 0 45.5 258.7A2.3 1.9 108 1 0 44.0 263.1ZM42.8 269.8A2.2 2.1 92 1 0 43.0 265.3A2.2 2.1 92 1 0 42.8 269.8ZM37.7 265.7A2.9 2.6 71 1 0 35.8 260.2A2.9 2.6 71 1 0 37.7 265.7ZM45.5 259.2A2.3 1.6 0 1 0 41.0 259.2A2.3 1.6 0 1 0 45.5 259.2ZM13.0 291.1A2.4 2.4 164 1 0 17.7 289.7A2.4 2.4 164 1 0 13.0 291.1ZM39.7 285.5A2.2 1.9 178 1 0 44.0 285.3A2.2 1.9 178 1 0 39.7 285.5ZM32.3 283.9A2.1 1.9 168 1 0 36.4 283.0A2.1 1.9 168 1 0 32.3 283.9ZM34.6 292.2A2.8 1.8 78 1 0 33.4 286.7A2.8 1.8 78 1 0 34.6 292.2ZM28.2 282.6A3.2 3.0 144 1 0 33.4 278.9A3.2 3.0 144 1 0 28.2 282.6ZM23.1 290.3A2.3 1.6 129 1 0 26.0 286.7A2.3 1.6 129 1 0 23.1 290.3ZM43.8 266.2A3.1 1.6 50 1 0 39.8 261.5A3.1 1.6 50 1 0 43.8 266.2ZM44.5 261.9A1.7 1.1 82 1 0 44.0 258.5A1.7 1.1 82 1 0 44.5 261.9ZM27.9 283.9A2.1 2.0 154 1 0 31.7 282.1A2.1 2.0 154 1 0 27.9 283.9ZM22.0 300.4A1.8 1.8 164 1 0 25.5 299.4A1.8 1.8 164 1 0 22.0 300.4Z"/><path fill="#aaa" opacity=".45" d="M32.9 279.8A2.2 1.9 85 1 0 32.5 275.4A2.2 1.9 85 1 0 32.9 279.8ZM49.6 264.7A2.7 1.8 76 1 0 48.2 259.4A2.7 1.8 76 1 0 49.6 264.7ZM24.3 279.3A1.3 1.1 127 1 0 25.9 277.2A1.3 1.1 127 1 0 24.3 279.3ZM44.7 279.1A3.2 1.6 52 1 0 40.8 274.1A3.2 1.6 52 1 0 44.7 279.1ZM27.6 285.0A2.1 1.0 145 1 0 31.0 282.6A2.1 1.0 145 1 0 27.6 285.0ZM42.8 281.8A2.0 1.7 101 1 0 43.6 277.9A2.0 1.7 101 1 0 42.8 281.8Z"/><path fill="#2a2a2a" opacity=".85" d="M22.5 280.0A0.7 0.4 3 1 0 21.1 279.9A0.7 0.4 3 1 0 22.5 280.0ZM19.6 297.9A0.7 0.6 88 1 0 19.5 296.4A0.7 0.6 88 1 0 19.6 297.9ZM16.0 299.5A1.2 1.0 172 1 0 18.4 299.1A1.2 1.0 172 1 0 16.0 299.5Z"/><path fill="#2a2a2a" opacity=".6" d="M36.9 274.6A1.3 1.0 121 1 0 38.3 272.3A1.3 1.0 121 1 0 36.9 274.6ZM29.5 274.0A1.2 0.9 4 1 0 27.0 273.9A1.2 0.9 4 1 0 29.5 274.0ZM26.9 269.2A0.7 0.4 57 1 0 26.1 267.9A0.7 0.4 57 1 0 26.9 269.2Z"/><path fill="#e8e8e8" opacity=".6" d="M46.2 264.7A0.9 0.9 2 1 0 44.5 264.6A0.9 0.9 2 1 0 46.2 264.7Z"/><path fill="#e8e8e8" opacity=".85" d="M35.5 265.6A1.7 1.5 103 1 0 36.2 262.3A1.7 1.5 103 1 0 35.5 265.6ZM19.6 284.2A0.8 0.7 128 1 0 20.6 282.9A0.8 0.7 128 1 0 19.6 284.2Z"/>
<path d="M59.6,259.9C61.3,256.7 63.8,253.7 65.6,252.8C67.4,251.8 68.9,253.1 70.3,253.9C71.7,254.7 72.1,257.1 73.9,257.5C75.7,257.9 79.2,255.9 81.0,256.3C82.8,256.7 83.6,257.3 84.6,259.9C85.6,262.5 86.4,267.8 87.0,271.8C87.5,275.7 88.3,280.1 88.1,283.6C87.9,287.2 86.6,290.6 85.8,293.1C85.0,295.7 84.6,297.1 83.4,299.1C82.2,301.1 80.2,303.4 78.6,305.0C77.0,306.6 75.5,307.7 73.9,308.6C72.3,309.4 71.1,310.0 69.1,310.2C67.2,310.5 64.2,310.9 62.0,310.2C59.8,309.6 57.5,308.6 56.1,306.2C54.7,303.7 54.1,299.3 53.7,295.5C53.3,291.8 53.4,287.6 53.7,283.6C54.0,279.7 54.4,275.7 55.4,271.8C56.4,267.8 57.9,263.0 59.6,259.9Z" fill="#a4a4a4" stroke="#444" stroke-width="1" stroke-opacity="0.8"/>
<path fill="#555" opacity=".3" d="M79.4 297.7A1.7 1.4 45 1 0 77.0 295.2A1.7 1.4 45 1 0 79.4 297.7ZM56.6 294.2A1.5 0.9 141 1 0 59.0 292.3A1.5 0.9 141 1 0 56.6 294.2ZM84.2 265.2A2.7 2.4 18 1 0 79.1 263.5A2.7 2.4 18 1 0 84.2 265.2ZM84.6 289.8A2.7 1.8 77 1 0 83.3 284.5A2.7 1.8 77 1 0 84.6 289.8ZM81.5 297.1A2.2 1.1 107 1 0 82.8 292.9A2.2 1.1 107 1 0 81.5 297.1ZM63.1 297.0A2.6 2.5 87 1 0 62.8 291.7A2.6 2.5 87 1 0 63.1 297.0ZM82.9 269.7A2.6 1.9 58 1 0 80.2 265.3A2.6 1.9 58 1 0 82.9 269.7ZM66.4 284.1A1.3 1.2 148 1 0 68.6 282.7A1.3 1.2 148 1 0 66.4 284.1ZM83.3 285.0A2.7 2.5 112 1 0 85.3 280.0A2.7 2.5 112 1 0 83.3 285.0ZM78.0 288.8A1.4 1.3 2 1 0 75.3 288.7A1.4 1.3 2 1 0 78.0 288.8ZM61.6 274.9A2.2 2.1 146 1 0 65.2 272.5A2.2 2.1 146 1 0 61.6 274.9ZM55.7 301.6A2.3 1.1 122 1 0 58.1 297.8A2.3 1.1 122 1 0 55.7 301.6ZM64.5 265.1A1.6 1.0 10 1 0 61.3 264.5A1.6 1.0 10 1 0 64.5 265.1ZM83.5 266.2A1.6 1.1 23 1 0 80.4 264.9A1.6 1.1 23 1 0 83.5 266.2ZM77.1 271.1A2.5 1.7 32 1 0 72.8 268.4A2.5 1.7 32 1 0 77.1 271.1ZM80.2 271.0A2.7 2.4 118 1 0 82.8 266.2A2.7 2.4 118 1 0 80.2 271.0ZM77.9 302.9A1.6 1.3 179 1 0 81.0 302.9A1.6 1.3 179 1 0 77.9 302.9ZM79.6 266.8A1.7 1.5 48 1 0 77.3 264.2A1.7 1.5 48 1 0 79.6 266.8ZM80.6 293.0A2.9 2.1 116 1 0 83.1 287.8A2.9 2.1 116 1 0 80.6 293.0ZM68.8 269.6A2.8 2.8 112 1 0 70.9 264.3A2.8 2.8 112 1 0 68.8 269.6ZM72.3 309.8A3.2 2.5 39 1 0 67.4 305.8A3.2 2.5 39 1 0 72.3 309.8ZM65.7 286.9A2.7 1.5 59 1 0 62.9 282.3A2.7 1.5 59 1 0 65.7 286.9ZM83.7 273.6A1.4 0.8 37 1 0 81.5 272.0A1.4 0.8 37 1 0 83.7 273.6ZM70.2 266.1A1.8 1.6 3 1 0 66.6 265.9A1.8 1.6 3 1 0 70.2 266.1ZM89.0 286.7A3.0 2.5 53 1 0 85.3 281.8A3.0 2.5 53 1 0 89.0 286.7ZM70.9 308.3A3.2 2.0 46 1 0 66.4 303.7A3.2 2.0 46 1 0 70.9 308.3ZM62.7 310.6A2.0 1.3 36 1 0 59.4 308.3A2.0 1.3 36 1 0 62.7 310.6Z"/><path fill="#aaa" opacity=".3" d="M65.6 287.2A1.7 1.1 93 1 0 65.8 283.9A1.7 1.1 93 1 0 65.6 287.2ZM65.0 313.0A2.9 2.1 78 1 0 63.7 307.3A2.9 2.1 78 1 0 65.0 313.0ZM58.8 283.8A2.2 1.9 109 1 0 60.2 279.6A2.2 1.9 109 1 0 58.8 283.8ZM75.5 289.5A2.1 1.9 90 1 0 75.5 285.4A2.1 1.9 90 1 0 75.5 289.5ZM71.0 265.7A2.6 2.3 34 1 0 66.6 262.8A2.6 2.3 34 1 0 71.0 265.7ZM51.9 278.3A2.7 2.0 174 1 0 57.2 277.8A2.7 2.0 174 1 0 51.9 278.3ZM78.7 284.8A2.7 1.9 107 1 0 80.3 279.7A2.7 1.9 107 1 0 78.7 284.8ZM67.1 309.1A2.9 2.3 144 1 0 71.7 305.8A2.9 2.3 144 1 0 67.1 309.1ZM74.4 298.5A1.3 1.2 79 1 0 74.0 296.1A1.3 1.2 79 1 0 74.4 298.5ZM75.2 277.1A2.6 2.2 82 1 0 74.5 271.9A2.6 2.2 82 1 0 75.2 277.1Z"/><path fill="#555" opacity=".45" d="M61.5 273.7A2.6 2.5 28 1 0 56.9 271.3A2.6 2.5 28 1 0 61.5 273.7ZM72.5 271.3A3.0 2.0 87 1 0 72.2 265.2A3.0 2.0 87 1 0 72.5 271.3ZM82.2 292.0A2.5 1.5 94 1 0 82.5 287.1A2.5 1.5 94 1 0 82.2 292.0ZM74.5 301.4A2.6 1.7 171 1 0 79.6 300.6A2.6 1.7 171 1 0 74.5 301.4ZM75.4 288.0A1.8 1.2 152 1 0 78.6 286.3A1.8 1.2 152 1 0 75.4 288.0ZM74.1 277.7A1.5 1.0 155 1 0 76.8 276.5A1.5 1.0 155 1 0 74.1 277.7ZM71.1 278.4A1.3 0.6 12 1 0 68.6 277.9A1.3 0.6 12 1 0 71.1 278.4ZM63.5 280.3A3.2 2.7 59 1 0 60.3 274.8A3.2 2.7 59 1 0 63.5 280.3ZM62.6 297.7A2.4 2.3 167 1 0 67.3 296.6A2.4 2.3 167 1 0 62.6 297.7ZM57.3 302.1A1.6 1.5 161 1 0 60.3 301.1A1.6 1.5 161 1 0 57.3 302.1ZM82.3 299.8A1.4 0.7 85 1 0 82.0 297.0A1.4 0.7 85 1 0 82.3 299.8ZM63.7 260.4A2.5 1.3 15 1 0 58.9 259.1A2.5 1.3 15 1 0 63.7 260.4ZM77.7 293.5A2.5 1.8 96 1 0 78.2 288.6A2.5 1.8 96 1 0 77.7 293.5ZM53.1 300.2A3.2 2.7 132 1 0 57.4 295.5A3.2 2.7 132 1 0 53.1 300.2ZM58.3 283.1A2.2 1.4 111 1 0 59.8 279.0A2.2 1.4 111 1 0 58.3 283.1ZM63.4 302.1A1.7 1.4 91 1 0 63.5 298.8A1.7 1.4 91 1 0 63.4 302.1ZM85.0 285.4A1.7 1.6 80 1 0 84.4 282.1A1.7 1.6 80 1 0 85.0 285.4ZM83.5 277.7A2.1 1.9 27 1 0 79.8 275.8A2.1 1.9 27 1 0 83.5 277.7ZM60.0 275.1A1.9 0.8 50 1 0 57.6 272.2A1.9 0.8 50 1 0 60.0 275.1ZM81.5 276.9A1.9 1.3 160 1 0 85.1 275.6A1.9 1.3 160 1 0 81.5 276.9ZM69.0 261.7A1.7 1.4 156 1 0 72.1 260.4A1.7 1.4 156 1 0 69.0 261.7Z"/><path fill="#aaa" opacity=".45" d="M83.2 262.5A2.6 1.5 67 1 0 81.2 257.7A2.6 1.5 67 1 0 83.2 262.5ZM77.2 278.2A1.9 1.1 85 1 0 76.9 274.4A1.9 1.1 85 1 0 77.2 278.2ZM69.3 293.5A1.3 1.0 163 1 0 71.8 292.8A1.3 1.0 163 1 0 69.3 293.5ZM68.2 282.2A2.9 2.0 84 1 0 67.6 276.5A2.9 2.0 84 1 0 68.2 282.2ZM63.5 286.2A2.5 1.6 107 1 0 65.0 281.4A2.5 1.6 107 1 0 63.5 286.2ZM66.5 295.6A2.0 1.7 49 1 0 63.9 292.7A2.0 1.7 49 1 0 66.5 295.6ZM58.2 295.2A1.3 1.2 81 1 0 57.8 292.7A1.3 1.2 81 1 0 58.2 295.2ZM77.9 306.0A2.7 1.6 71 1 0 76.1 300.9A2.7 1.6 71 1 0 77.9 306.0Z"/>
<path d="M58.4,271.8C59.9,269.0 61.4,266.2 64.4,264.6C67.3,263.0 73.3,261.9 76.3,262.2C79.2,262.6 81.0,264.6 82.2,267.0C83.4,269.4 83.6,272.9 83.4,276.5C83.2,280.1 82.2,285.2 81.0,288.4C79.8,291.5 77.8,293.1 76.3,295.5C74.7,297.9 73.5,300.9 71.5,302.6C69.5,304.4 66.6,306.0 64.4,306.2C62.2,306.4 60.0,306.0 58.4,303.8C56.9,301.6 55.4,296.9 54.9,293.1C54.4,289.4 54.8,284.8 55.4,281.2C56.0,277.7 56.9,274.5 58.4,271.8Z" fill="#7e7e7e" stroke="#444" stroke-width="1" stroke-opacity="0.8"/>
<path fill="#aaa" opacity=".3" d="M67.8 277.0A3.1 2.0 35 1 0 62.8 273.5A3.1 2.0 35 1 0 67.8 277.0ZM80.6 280.5A1.4 1.0 7 1 0 77.7 280.2A1.4 1.0 7 1 0 80.6 280.5ZM65.2 289.6A1.6 1.2 78 1 0 64.6 286.4A1.6 1.2 78 1 0 65.2 289.6ZM64.2 293.5A2.7 2.2 98 1 0 64.9 288.2A2.7 2.2 98 1 0 64.2 293.5Z"/><path fill="#555" opacity=".3" d="M58.6 299.5A2.6 1.6 49 1 0 55.2 295.6A2.6 1.6 49 1 0 58.6 299.5ZM56.4 290.3A1.8 1.3 94 1 0 56.7 286.6A1.8 1.3 94 1 0 56.4 290.3ZM73.7 289.4A2.4 1.7 110 1 0 75.4 284.8A2.4 1.7 110 1 0 73.7 289.4ZM80.8 285.9A2.1 1.0 93 1 0 81.1 281.7A2.1 1.0 93 1 0 80.8 285.9ZM75.1 267.4A2.3 1.9 28 1 0 71.1 265.3A2.3 1.9 28 1 0 75.1 267.4ZM64.8 288.2A2.4 1.7 71 1 0 63.2 283.7A2.4 1.7 71 1 0 64.8 288.2ZM77.0 287.8A2.8 2.2 142 1 0 81.4 284.4A2.8 2.2 142 1 0 77.0 287.8ZM65.8 272.2A1.9 0.8 125 1 0 67.9 269.2A1.9 0.8 125 1 0 65.8 272.2ZM80.3 278.6A2.3 1.5 174 1 0 84.8 278.2A2.3 1.5 174 1 0 80.3 278.6ZM58.3 282.1A1.9 1.4 43 1 0 55.5 279.5A1.9 1.4 43 1 0 58.3 282.1ZM72.0 299.7A2.2 1.6 47 1 0 69.0 296.4A2.2 1.6 47 1 0 72.0 299.7Z"/><path fill="#555" opacity=".45" d="M72.9 288.1A1.9 1.6 106 1 0 74.0 284.4A1.9 1.6 106 1 0 72.9 288.1ZM55.8 291.7A1.5 1.3 116 1 0 57.1 288.9A1.5 1.3 116 1 0 55.8 291.7ZM67.4 282.8A1.4 0.8 71 1 0 66.5 280.1A1.4 0.8 71 1 0 67.4 282.8ZM82.1 270.2A2.0 1.9 62 1 0 80.2 266.6A2.0 1.9 62 1 0 82.1 270.2ZM66.6 285.7A2.7 1.3 162 1 0 71.7 284.1A2.7 1.3 162 1 0 66.6 285.7ZM60.1 294.2A2.3 1.4 19 1 0 55.7 292.7A2.3 1.4 19 1 0 60.1 294.2ZM76.4 268.0A2.6 2.6 37 1 0 72.2 264.8A2.6 2.6 37 1 0 76.4 268.0ZM78.0 285.5A3.0 1.8 29 1 0 72.7 282.6A3.0 1.8 29 1 0 78.0 285.5ZM57.4 290.0A2.4 1.6 111 1 0 59.1 285.5A2.4 1.6 111 1 0 57.4 290.0ZM77.0 290.2A1.4 1.4 95 1 0 77.3 287.3A1.4 1.4 95 1 0 77.0 290.2ZM73.5 272.8A2.9 2.2 133 1 0 77.5 268.5A2.9 2.2 133 1 0 73.5 272.8ZM57.7 298.1A2.6 1.7 151 1 0 62.3 295.6A2.6 1.7 151 1 0 57.7 298.1ZM78.8 267.5A1.6 1.1 119 1 0 80.4 264.7A1.6 1.1 119 1 0 78.8 267.5ZM57.9 291.5A3.1 2.7 63 1 0 55.1 285.9A3.1 2.7 63 1 0 57.9 291.5ZM60.2 297.9A3.0 1.7 146 1 0 65.2 294.5A3.0 1.7 146 1 0 60.2 297.9ZM63.0 306.8A1.9 1.1 151 1 0 66.3 305.0A1.9 1.1 151 1 0 63.0 306.8ZM72.1 303.0A2.2 1.8 73 1 0 70.8 298.7A2.2 1.8 73 1 0 72.1 303.0ZM63.6 282.1A2.3 2.3 1 1 0 59.0 282.0A2.3 2.3 1 1 0 63.6 282.1ZM73.6 297.3A1.6 1.6 136 1 0 76.0 295.1A1.6 1.6 136 1 0 73.6 297.3ZM65.6 274.5A1.3 1.0 2 1 0 62.9 274.4A1.3 1.0 2 1 0 65.6 274.5Z"/><path fill="#aaa" opacity=".45" d="M81.2 269.9A1.7 0.9 32 1 0 78.4 268.1A1.7 0.9 32 1 0 81.2 269.9ZM65.5 277.1A2.8 2.0 177 1 0 71.0 276.8A2.8 2.0 177 1 0 65.5 277.1ZM78.2 281.3A2.0 1.2 154 1 0 81.9 279.5A2.0 1.2 154 1 0 78.2 281.3ZM66.7 302.7A1.8 1.5 72 1 0 65.6 299.3A1.8 1.5 72 1 0 66.7 302.7ZM80.5 276.6A3.0 2.7 77 1 0 79.1 270.8A3.0 2.7 77 1 0 80.5 276.6ZM75.3 278.5A1.4 1.2 80 1 0 74.8 275.8A1.4 1.2 80 1 0 75.3 278.5Z"/><path fill="#2a2a2a" opacity=".85" d="M75.3 268.3A0.7 0.3 22 1 0 74.1 267.8A0.7 0.3 22 1 0 75.3 268.3ZM82.9 276.3A1.2 1.1 35 1 0 81.0 275.0A1.2 1.1 35 1 0 82.9 276.3ZM76.9 278.9A0.8 0.4 30 1 0 75.5 278.1A0.8 0.4 30 1 0 76.9 278.9ZM76.0 292.4A0.9 0.9 110 1 0 76.7 290.6A0.9 0.9 110 1 0 76.0 292.4ZM62.6 290.9A1.4 0.8 88 1 0 62.5 288.1A1.4 0.8 88 1 0 62.6 290.9Z"/><path fill="#2a2a2a" opacity=".6" d="M70.8 268.5A1.3 0.9 110 1 0 71.6 266.1A1.3 0.9 110 1 0 70.8 268.5ZM64.4 293.5A0.8 0.6 57 1 0 63.5 292.1A0.8 0.6 57 1 0 64.4 293.5ZM80.8 288.8A1.0 0.5 55 1 0 79.7 287.3A1.0 0.5 55 1 0 80.8 288.8Z"/><path fill="#e8e8e8" opacity=".6" d="M78.5 289.7A1.6 1.2 73 1 0 77.6 286.7A1.6 1.2 73 1 0 78.5 289.7Z"/><path fill="#e8e8e8" opacity=".85" d="M62.6 281.7A1.3 1.1 111 1 0 63.6 279.2A1.3 1.1 111 1 0 62.6 281.7ZM60.8 290.4A1.3 0.6 170 1 0 63.3 290.0A1.3 0.6 170 1 0 60.8 290.4Z"/>
<path d="M6.4,296.0C7.0,292.0 8.9,295.8 10.0,297.0C11.1,298.2 12.2,300.5 13.0,303.0C13.8,305.5 14.5,309.0 14.5,312.0C14.5,315.0 14.3,319.5 13.0,321.0C11.7,322.5 7.5,325.2 6.4,321.0C5.3,316.8 5.8,300.0 6.4,296.0Z" fill="#777777" stroke="#444" stroke-width="1" stroke-opacity="0.8"/>
<path fill="#555" opacity=".45" d="M9.3 323.8A2.9 2.6 91 1 0 9.4 318.0A2.9 2.6 91 1 0 9.3 323.8ZM12.4 322.4A2.8 2.1 45 1 0 8.4 318.4A2.8 2.1 45 1 0 12.4 322.4ZM13.9 315.2A1.3 0.7 5 1 0 11.3 315.0A1.3 0.7 5 1 0 13.9 315.2Z"/><path fill="#555" opacity=".3" d="M13.0 319.9A1.5 0.8 26 1 0 10.2 318.5A1.5 0.8 26 1 0 13.0 319.9Z"/><path fill="#aaa" opacity=".45" d="M10.1 311.8A1.3 0.6 146 1 0 12.2 310.4A1.3 0.6 146 1 0 10.1 311.8ZM10.1 303.9A1.5 1.2 85 1 0 9.9 301.0A1.5 1.2 85 1 0 10.1 303.9Z"/><path fill="#2a2a2a" opacity=".85" d="M7.7 304.0A1.2 1.1 61 1 0 6.5 301.8A1.2 1.1 61 1 0 7.7 304.0Z"/>
<path d="M95.2,253.0C96.0,250.9 98.6,248.2 99.3,252.5C100.0,256.8 99.8,275.1 99.3,279.0C98.8,282.9 96.7,278.3 96.0,276.0C95.3,273.7 95.1,268.8 95.0,265.0C94.9,261.2 94.5,255.1 95.2,253.0Z" fill="#777777" stroke="#444" stroke-width="1" stroke-opacity="0.8"/>
<path fill="#aaa" opacity=".3" d="M100.0 263.3A1.2 0.7 22 1 0 97.7 262.4A1.2 0.7 22 1 0 100.0 263.3ZM97.8 258.5A1.6 1.3 45 1 0 95.4 256.2A1.6 1.3 45 1 0 97.8 258.5Z"/><path fill="#555" opacity=".3" d="M94.6 276.2A3.0 1.9 135 1 0 98.8 272.0A3.0 1.9 135 1 0 94.6 276.2Z"/>
<g fill="#2c2c2c" opacity="0.85"><circle cx="33.5" cy="281.2" r="2.1"/><circle cx="22.8" cy="278.9" r="1.4"/><circle cx="29.9" cy="291.9" r="1.2"/><circle cx="25.2" cy="294.3" r="1.4"/><circle cx="35.9" cy="271.8" r="1.2"/><circle cx="38.2" cy="264.6" r="1.0"/><circle cx="28.8" cy="265.8" r="0.7"/><circle cx="41.8" cy="276.5" r="1.0"/><circle cx="19.2" cy="297.9" r="1.0"/><circle cx="26.4" cy="286.0" r="0.7"/><circle cx="59.6" cy="278.9" r="1.4"/><circle cx="68.0" cy="271.8" r="1.2"/><circle cx="63.2" cy="284.8" r="1.2"/><circle cx="58.4" cy="289.6" r="1.4"/><circle cx="69.1" cy="290.8" r="1.7"/><circle cx="64.4" cy="295.5" r="1.4"/><circle cx="73.9" cy="274.1" r="1.2"/><circle cx="76.3" cy="262.2" r="1.2"/><circle cx="65.6" cy="302.6" r="1.4"/><circle cx="75.1" cy="305.0" r="1.2"/><circle cx="81.0" cy="271.8" r="1.0"/><circle cx="60.8" cy="297.9" r="1.0"/><circle cx="78.6" cy="283.6" r="1.0"/></g>
<g fill="#ececec" opacity="0.9"><ellipse cx="66.8" cy="280.1" rx="1.9" ry="2.9"/><ellipse cx="73.9" cy="297.9" rx="1.0" ry="1.9"/><ellipse cx="81.5" cy="271.8" rx="0.7" ry="0.7"/><ellipse cx="27.6" cy="283.6" rx="1.0" ry="0.7"/><ellipse cx="21.6" cy="288.4" rx="0.7" ry="0.5"/><ellipse cx="24.0" cy="286.0" rx="0.5" ry="0.7"/><ellipse cx="38.2" cy="286.0" rx="0.7" ry="1.0"/></g>
</g>
<clipPath id="em7"><rect x="101.8" y="249.8" width="92.4" height="71.1"/></clipPath>
<g clip-path="url(#em7)">
<rect x="101.8" y="249.8" width="92.4" height="71.1" fill="#d9d9d9"/>
<path d="M107.0,252.0C107.3,250.9 112.2,250.1 115.0,250.4C117.8,250.7 121.3,252.4 124.0,254.0C126.7,255.6 130.0,258.2 131.0,260.0C132.0,261.8 131.5,264.3 130.0,264.6C128.5,264.9 124.8,263.3 122.0,262.0C119.2,260.7 115.5,258.7 113.0,257.0C110.5,255.3 106.7,253.1 107.0,252.0Z" fill="#7a7a7a" stroke="#444" stroke-width="1" stroke-opacity="0.8"/>
<path fill="#aaa" opacity=".45" d="M117.6 254.7A1.3 1.2 64 1 0 116.4 252.3A1.3 1.2 64 1 0 117.6 254.7ZM121.1 259.7A1.9 0.9 77 1 0 120.3 256.0A1.9 0.9 77 1 0 121.1 259.7Z"/><path fill="#555" opacity=".45" d="M115.0 259.0A1.8 1.2 129 1 0 117.3 256.2A1.8 1.2 129 1 0 115.0 259.0ZM109.9 255.3A1.6 0.8 129 1 0 111.9 252.8A1.6 0.8 129 1 0 109.9 255.3ZM131.4 263.6A3.0 2.2 70 1 0 129.3 258.0A3.0 2.2 70 1 0 131.4 263.6ZM125.3 265.2A3.0 2.6 61 1 0 122.4 259.9A3.0 2.6 61 1 0 125.3 265.2ZM118.0 256.3A2.8 2.3 47 1 0 114.1 252.2A2.8 2.3 47 1 0 118.0 256.3ZM124.7 258.0A1.4 0.9 177 1 0 127.5 257.9A1.4 0.9 177 1 0 124.7 258.0ZM117.4 259.0A3.2 2.9 132 1 0 121.6 254.3A3.2 2.9 132 1 0 117.4 259.0Z"/><path fill="#555" opacity=".3" d="M127.2 259.6A2.2 1.4 91 1 0 127.3 255.2A2.2 1.4 91 1 0 127.2 259.6ZM125.7 262.8A2.8 2.8 115 1 0 128.1 257.7A2.8 2.8 115 1 0 125.7 262.8Z"/><path fill="#2a2a2a" opacity=".6" d="M124.4 257.6A1.0 0.8 0 1 0 122.5 257.6A1.0 0.8 0 1 0 124.4 257.6Z"/><path fill="#2a2a2a" opacity=".85" d="M124.7 256.7A0.9 0.4 109 1 0 125.2 255.0A0.9 0.4 109 1 0 124.7 256.7ZM116.0 253.4A0.7 0.7 90 1 0 116.0 252.0A0.7 0.7 90 1 0 116.0 253.4Z"/><path fill="#e8e8e8" opacity=".85" d="M112.5 252.5A0.7 0.4 39 1 0 111.4 251.6A0.7 0.4 39 1 0 112.5 252.5Z"/>
<path d="M102.0,253.0C102.7,251.3 105.0,252.2 106.0,253.0C107.0,253.8 108.0,256.3 108.0,258.0C108.0,259.7 107.0,262.2 106.0,263.0C105.0,263.8 102.7,264.7 102.0,263.0C101.3,261.3 101.3,254.7 102.0,253.0Z" fill="#666666" stroke="#444" stroke-width="1" stroke-opacity="0.8"/>
<path fill="#555" opacity=".45" d="M104.1 264.0A3.0 2.5 60 1 0 101.1 258.7A3.0 2.5 60 1 0 104.1 264.0Z"/><path fill="#aaa" opacity=".3" d="M105.2 259.8A2.9 2.4 118 1 0 108.0 254.6A2.9 2.4 118 1 0 105.2 259.8Z"/>
<path d="M149.9,252.8C151.3,251.4 154.4,250.5 157.0,250.8C159.6,251.2 162.5,252.8 165.3,255.1C168.1,257.4 171.0,261.0 173.6,264.6C176.2,268.2 179.2,272.9 180.8,276.5C182.3,280.1 183.5,283.8 183.1,286.0C182.7,288.2 180.8,290.0 178.4,289.6C176.0,289.2 172.1,285.8 168.9,283.6C165.7,281.4 162.2,279.3 159.4,276.5C156.6,273.7 154.0,270.0 152.2,267.0C150.5,264.0 149.1,261.1 148.7,258.7C148.3,256.3 148.5,254.1 149.9,252.8Z" fill="#7c7c7c" stroke="#444" stroke-width="1" stroke-opacity="0.8"/>
<path fill="#555" opacity=".45" d="M157.7 255.8A2.0 1.4 154 1 0 161.2 254.0A2.0 1.4 154 1 0 157.7 255.8ZM172.5 270.4A2.0 1.1 120 1 0 174.5 266.9A2.0 1.1 120 1 0 172.5 270.4ZM172.8 282.8A2.0 1.3 54 1 0 170.4 279.6A2.0 1.3 54 1 0 172.8 282.8ZM168.4 274.1A2.0 1.4 171 1 0 172.4 273.5A2.0 1.4 171 1 0 168.4 274.1ZM166.0 270.0A2.3 1.2 75 1 0 164.8 265.5A2.3 1.2 75 1 0 166.0 270.0ZM166.5 267.4A1.8 1.3 131 1 0 168.9 264.7A1.8 1.3 131 1 0 166.5 267.4ZM174.8 275.2A1.5 0.8 133 1 0 176.8 273.0A1.5 0.8 133 1 0 174.8 275.2ZM159.9 261.4A1.8 1.1 75 1 0 159.0 257.9A1.8 1.1 75 1 0 159.9 261.4ZM162.0 275.4A2.8 2.3 84 1 0 161.4 269.8A2.8 2.3 84 1 0 162.0 275.4ZM172.0 283.6A1.3 0.6 86 1 0 171.9 281.0A1.3 0.6 86 1 0 172.0 283.6ZM158.7 264.1A2.1 2.0 77 1 0 157.7 260.0A2.1 2.0 77 1 0 158.7 264.1ZM153.8 253.3A1.4 0.7 168 1 0 156.4 252.7A1.4 0.7 168 1 0 153.8 253.3ZM176.4 290.2A2.1 1.6 130 1 0 179.1 287.0A2.1 1.6 130 1 0 176.4 290.2ZM159.7 262.0A3.0 2.6 13 1 0 153.8 260.6A3.0 2.6 13 1 0 159.7 262.0ZM163.2 277.4A2.4 1.4 95 1 0 163.6 272.5A2.4 1.4 95 1 0 163.2 277.4ZM155.7 258.3A2.2 2.2 94 1 0 156.0 253.9A2.2 2.2 94 1 0 155.7 258.3ZM157.1 274.5A3.1 3.0 121 1 0 160.4 269.1A3.1 3.0 121 1 0 157.1 274.5ZM153.5 263.7A2.4 1.2 117 1 0 155.7 259.3A2.4 1.2 117 1 0 153.5 263.7ZM158.8 274.0A1.6 0.7 151 1 0 161.7 272.4A1.6 0.7 151 1 0 158.8 274.0ZM170.9 275.7A2.2 1.1 135 1 0 174.0 272.6A2.2 1.1 135 1 0 170.9 275.7Z"/><path fill="#aaa" opacity=".45" d="M157.5 273.5A3.2 1.6 66 1 0 155.0 267.7A3.2 1.6 66 1 0 157.5 273.5ZM173.6 273.3A3.2 2.3 54 1 0 169.8 268.2A3.2 2.3 54 1 0 173.6 273.3ZM162.6 268.9A1.2 0.9 82 1 0 162.3 266.5A1.2 0.9 82 1 0 162.6 268.9ZM167.5 279.6A1.9 1.7 154 1 0 170.9 277.9A1.9 1.7 154 1 0 167.5 279.6ZM167.4 262.5A1.5 1.5 119 1 0 168.9 259.9A1.5 1.5 119 1 0 167.4 262.5ZM180.5 285.4A1.2 0.7 74 1 0 179.8 283.0A1.2 0.7 74 1 0 180.5 285.4ZM156.8 273.9A2.7 1.5 75 1 0 155.4 268.8A2.7 1.5 75 1 0 156.8 273.9ZM156.7 255.8A2.2 1.4 27 1 0 152.6 253.8A2.2 1.4 27 1 0 156.7 255.8ZM167.2 258.8A2.2 1.8 23 1 0 163.3 257.1A2.2 1.8 23 1 0 167.2 258.8Z"/><path fill="#555" opacity=".3" d="M161.7 270.5A1.7 0.8 71 1 0 160.6 267.3A1.7 0.8 71 1 0 161.7 270.5ZM178.3 286.0A1.7 0.9 175 1 0 181.7 285.7A1.7 0.9 175 1 0 178.3 286.0ZM167.2 268.2A1.3 1.1 12 1 0 164.6 267.7A1.3 1.1 12 1 0 167.2 268.2ZM159.5 260.9A2.0 1.9 98 1 0 160.1 256.9A2.0 1.9 98 1 0 159.5 260.9ZM172.5 284.1A1.4 0.8 9 1 0 169.8 283.7A1.4 0.8 9 1 0 172.5 284.1ZM175.5 274.3A2.6 1.4 14 1 0 170.4 273.0A2.6 1.4 14 1 0 175.5 274.3ZM154.5 268.7A1.7 1.0 36 1 0 151.8 266.7A1.7 1.0 36 1 0 154.5 268.7ZM178.7 278.6A1.3 1.3 131 1 0 180.5 276.5A1.3 1.3 131 1 0 178.7 278.6ZM158.6 271.1A2.8 1.7 125 1 0 161.9 266.5A2.8 1.7 125 1 0 158.6 271.1ZM175.0 271.7A2.0 1.1 111 1 0 176.4 268.0A2.0 1.1 111 1 0 175.0 271.7ZM154.1 270.4A3.2 1.4 92 1 0 154.4 264.0A3.2 1.4 92 1 0 154.1 270.4ZM164.3 266.6A2.5 2.4 55 1 0 161.4 262.6A2.5 2.4 55 1 0 164.3 266.6ZM172.0 284.2A2.1 1.6 88 1 0 171.8 280.0A2.1 1.6 88 1 0 172.0 284.2Z"/><path fill="#aaa" opacity=".3" d="M169.6 259.2A2.1 1.2 31 1 0 166.0 257.1A2.1 1.2 31 1 0 169.6 259.2ZM165.6 267.0A1.5 1.0 127 1 0 167.3 264.7A1.5 1.0 127 1 0 165.6 267.0Z"/><path fill="#2a2a2a" opacity=".6" d="M169.3 281.5A1.2 1.1 126 1 0 170.7 279.6A1.2 1.1 126 1 0 169.3 281.5ZM159.3 266.7A1.2 1.0 15 1 0 157.0 266.1A1.2 1.0 15 1 0 159.3 266.7ZM162.1 258.9A1.0 0.6 142 1 0 163.6 257.7A1.0 0.6 142 1 0 162.1 258.9Z"/><path fill="#2a2a2a" opacity=".85" d="M161.2 261.7A0.7 0.6 115 1 0 161.8 260.5A0.7 0.6 115 1 0 161.2 261.7ZM162.8 266.1A0.6 0.4 107 1 0 163.2 264.9A0.6 0.4 107 1 0 162.8 266.1Z"/><path fill="#e8e8e8" opacity=".6" d="M155.6 271.3A0.8 0.7 153 1 0 157.0 270.6A0.8 0.7 153 1 0 155.6 271.3Z"/>
<path d="M107.1,269.4C108.1,266.8 111.1,266.0 114.2,265.8C117.4,265.6 122.1,267.0 126.1,268.2C130.1,269.4 134.6,270.8 138.0,273.0C141.4,275.2 144.3,277.5 146.3,281.2C148.3,285.0 149.5,291.1 149.9,295.5C150.3,299.9 149.5,303.8 148.7,307.4C147.9,311.0 147.3,314.7 145.1,316.9C142.9,319.1 139.2,320.2 135.6,320.4C132.0,320.6 126.9,319.8 123.8,318.0C120.6,316.2 118.4,313.5 116.6,309.8C114.8,306.0 114.4,300.2 113.0,295.5C111.6,290.8 109.3,285.6 108.3,281.2C107.3,276.9 106.1,272.0 107.1,269.4Z" fill="#838383" stroke="#444" stroke-width="1" stroke-opacity="0.8"/>
<path fill="#555" opacity=".3" d="M145.6 301.2A2.7 1.5 73 1 0 144.1 296.1A2.7 1.5 73 1 0 145.6 301.2ZM128.9 273.7A1.6 1.3 178 1 0 132.0 273.6A1.6 1.3 178 1 0 128.9 273.7ZM136.3 309.2A1.9 1.6 110 1 0 137.6 305.6A1.9 1.6 110 1 0 136.3 309.2ZM126.2 277.7A3.0 2.4 18 1 0 120.6 275.8A3.0 2.4 18 1 0 126.2 277.7ZM143.0 290.3A2.9 1.8 143 1 0 147.7 286.7A2.9 1.8 143 1 0 143.0 290.3ZM145.0 296.9A2.3 1.8 58 1 0 142.5 292.9A2.3 1.8 58 1 0 145.0 296.9ZM125.8 290.0A2.0 1.6 125 1 0 128.1 286.7A2.0 1.6 125 1 0 125.8 290.0ZM110.0 275.2A2.8 2.2 44 1 0 106.0 271.4A2.8 2.2 44 1 0 110.0 275.2ZM144.6 299.2A2.4 1.8 127 1 0 147.5 295.4A2.4 1.8 127 1 0 144.6 299.2ZM112.5 275.0A2.7 1.3 83 1 0 111.8 269.6A2.7 1.3 83 1 0 112.5 275.0ZM131.5 277.6A1.3 0.8 127 1 0 133.1 275.5A1.3 0.8 127 1 0 131.5 277.6ZM111.1 278.7A1.4 0.7 62 1 0 109.8 276.3A1.4 0.7 62 1 0 111.1 278.7ZM132.6 282.9A1.4 1.3 156 1 0 135.2 281.8A1.4 1.3 156 1 0 132.6 282.9ZM111.2 295.2A2.0 1.4 140 1 0 114.3 292.7A2.0 1.4 140 1 0 111.2 295.2ZM132.5 305.1A2.5 1.8 136 1 0 136.0 301.6A2.5 1.8 136 1 0 132.5 305.1ZM144.3 315.7A2.1 1.4 42 1 0 141.3 312.9A2.1 1.4 42 1 0 144.3 315.7ZM117.9 281.8A2.0 1.5 87 1 0 117.7 277.7A2.0 1.5 87 1 0 117.9 281.8ZM139.7 300.2A1.5 1.2 124 1 0 141.5 297.7A1.5 1.2 124 1 0 139.7 300.2ZM114.5 267.4A1.3 0.9 35 1 0 112.4 265.9A1.3 0.9 35 1 0 114.5 267.4ZM130.5 310.6A1.6 1.1 63 1 0 129.1 307.8A1.6 1.1 63 1 0 130.5 310.6ZM114.0 277.5A2.6 2.5 139 1 0 118.0 274.0A2.6 2.5 139 1 0 114.0 277.5ZM114.0 294.0A2.1 1.2 82 1 0 113.5 289.9A2.1 1.2 82 1 0 114.0 294.0ZM107.9 288.9A3.1 2.5 176 1 0 114.0 288.5A3.1 2.5 176 1 0 107.9 288.9ZM139.6 310.9A3.0 1.9 156 1 0 145.1 308.5A3.0 1.9 156 1 0 139.6 310.9ZM124.6 278.0A1.7 1.3 36 1 0 121.8 276.0A1.7 1.3 36 1 0 124.6 278.0ZM145.9 284.9A2.7 2.2 75 1 0 144.5 279.8A2.7 2.2 75 1 0 145.9 284.9ZM111.1 278.1A2.0 1.7 96 1 0 111.6 274.2A2.0 1.7 96 1 0 111.1 278.1Z"/><path fill="#555" opacity=".45" d="M125.9 293.6A1.9 1.8 168 1 0 129.6 292.9A1.9 1.8 168 1 0 125.9 293.6ZM145.9 309.4A2.7 1.7 10 1 0 140.5 308.4A2.7 1.7 10 1 0 145.9 309.4ZM124.5 271.1A2.6 2.5 50 1 0 121.1 267.1A2.6 2.5 50 1 0 124.5 271.1ZM143.8 300.4A2.5 1.2 126 1 0 146.7 296.4A2.5 1.2 126 1 0 143.8 300.4ZM124.8 311.1A3.0 3.0 123 1 0 128.1 306.0A3.0 3.0 123 1 0 124.8 311.1ZM117.5 271.9A1.4 0.9 78 1 0 116.9 269.1A1.4 0.9 78 1 0 117.5 271.9ZM144.2 314.3A1.3 0.6 88 1 0 144.1 311.6A1.3 0.6 88 1 0 144.2 314.3ZM144.6 310.7A3.2 2.0 135 1 0 149.1 306.2A3.2 2.0 135 1 0 144.6 310.7ZM112.5 277.1A1.7 0.8 97 1 0 112.9 273.7A1.7 0.8 97 1 0 112.5 277.1ZM127.9 295.3A1.7 1.6 37 1 0 125.2 293.3A1.7 1.6 37 1 0 127.9 295.3ZM140.9 315.7A3.2 2.3 51 1 0 136.9 310.7A3.2 2.3 51 1 0 140.9 315.7ZM124.5 306.6A2.6 2.4 83 1 0 123.9 301.5A2.6 2.4 83 1 0 124.5 306.6ZM115.6 287.3A1.8 1.0 69 1 0 114.3 283.9A1.8 1.0 69 1 0 115.6 287.3ZM132.3 282.3A1.7 1.0 104 1 0 133.1 279.0A1.7 1.0 104 1 0 132.3 282.3ZM148.5 309.3A3.1 2.0 82 1 0 147.6 303.1A3.1 2.0 82 1 0 148.5 309.3ZM119.5 274.0A2.1 1.7 126 1 0 121.9 270.6A2.1 1.7 126 1 0 119.5 274.0ZM134.9 288.1A2.8 1.7 119 1 0 137.6 283.3A2.8 1.7 119 1 0 134.9 288.1ZM141.8 285.2A2.0 1.3 116 1 0 143.6 281.5A2.0 1.3 116 1 0 141.8 285.2ZM111.6 277.5A1.7 1.1 169 1 0 114.8 276.9A1.7 1.1 169 1 0 111.6 277.5ZM125.5 315.5A2.4 1.5 151 1 0 129.7 313.2A2.4 1.5 151 1 0 125.5 315.5ZM121.0 270.2A1.5 0.8 84 1 0 120.7 267.2A1.5 0.8 84 1 0 121.0 270.2ZM112.0 278.3A3.0 2.1 63 1 0 109.3 273.0A3.0 2.1 63 1 0 112.0 278.3ZM113.8 277.8A2.8 1.3 108 1 0 115.6 272.5A2.8 1.3 108 1 0 113.8 277.8ZM147.6 298.2A3.0 2.9 70 1 0 145.6 292.7A3.0 2.9 70 1 0 147.6 298.2ZM140.6 300.1A1.7 1.5 112 1 0 141.8 296.9A1.7 1.5 112 1 0 140.6 300.1ZM126.5 308.4A2.7 1.5 95 1 0 127.0 303.1A2.7 1.5 95 1 0 126.5 308.4ZM142.8 292.3A2.6 2.1 64 1 0 140.5 287.7A2.6 2.1 64 1 0 142.8 292.3ZM121.7 304.7A2.3 2.1 119 1 0 123.9 300.7A2.3 2.1 119 1 0 121.7 304.7ZM139.4 281.2A3.0 1.7 157 1 0 144.9 278.8A3.0 1.7 157 1 0 139.4 281.2ZM119.9 305.2A2.9 2.8 74 1 0 118.3 299.6A2.9 2.8 74 1 0 119.9 305.2ZM141.8 317.2A1.3 1.1 172 1 0 144.3 316.8A1.3 1.1 172 1 0 141.8 317.2Z"/><path fill="#aaa" opacity=".45" d="M119.9 302.6A1.3 1.2 168 1 0 122.4 302.1A1.3 1.2 168 1 0 119.9 302.6ZM121.2 311.0A2.7 2.1 35 1 0 116.9 307.9A2.7 2.1 35 1 0 121.2 311.0ZM121.1 283.3A2.3 1.1 78 1 0 120.2 278.9A2.3 1.1 78 1 0 121.1 283.3ZM140.3 307.4A2.3 2.2 54 1 0 137.5 303.7A2.3 2.2 54 1 0 140.3 307.4ZM127.1 282.5A1.2 1.0 12 1 0 124.7 282.0A1.2 1.0 12 1 0 127.1 282.5ZM117.3 296.1A1.7 1.2 67 1 0 116.0 292.9A1.7 1.2 67 1 0 117.3 296.1ZM136.8 304.0A1.6 1.5 11 1 0 133.7 303.4A1.6 1.5 11 1 0 136.8 304.0ZM142.0 301.7A2.3 1.7 117 1 0 144.1 297.6A2.3 1.7 117 1 0 142.0 301.7ZM121.7 271.7A3.1 1.7 57 1 0 118.3 266.5A3.1 1.7 57 1 0 121.7 271.7ZM145.8 290.8A1.5 1.4 113 1 0 147.0 287.9A1.5 1.4 113 1 0 145.8 290.8ZM122.1 301.7A1.3 0.8 12 1 0 119.6 301.2A1.3 0.8 12 1 0 122.1 301.7ZM113.3 272.8A2.2 1.9 114 1 0 115.1 268.8A2.2 1.9 114 1 0 113.3 272.8ZM121.5 281.9A1.5 1.0 66 1 0 120.2 279.2A1.5 1.0 66 1 0 121.5 281.9Z"/><path fill="#aaa" opacity=".3" d="M148.0 302.0A1.3 1.3 85 1 0 147.8 299.5A1.3 1.3 85 1 0 148.0 302.0ZM142.4 286.7A3.1 2.0 65 1 0 139.8 281.2A3.1 2.0 65 1 0 142.4 286.7ZM142.0 280.2A1.2 0.8 115 1 0 143.1 277.9A1.2 0.8 115 1 0 142.0 280.2ZM116.7 274.0A1.9 0.9 125 1 0 118.8 270.9A1.9 0.9 125 1 0 116.7 274.0ZM112.1 296.6A1.8 1.4 119 1 0 113.8 293.5A1.8 1.4 119 1 0 112.1 296.6ZM145.2 297.4A2.6 1.4 102 1 0 146.3 292.2A2.6 1.4 102 1 0 145.2 297.4Z"/><path fill="#2a2a2a" opacity=".85" d="M146.5 300.7A1.1 0.8 26 1 0 144.4 299.7A1.1 0.8 26 1 0 146.5 300.7ZM113.8 289.0A1.2 1.0 174 1 0 116.2 288.7A1.2 1.0 174 1 0 113.8 289.0Z"/><path fill="#2a2a2a" opacity=".6" d="M136.2 318.1A1.2 0.6 6 1 0 133.9 317.9A1.2 0.6 6 1 0 136.2 318.1ZM123.1 302.8A1.3 1.0 159 1 0 125.5 301.9A1.3 1.0 159 1 0 123.1 302.8Z"/>
<path d="M158.2,302.6C159.8,300.8 162.7,299.7 166.5,299.0C170.3,298.3 177.0,297.8 180.8,298.4C184.5,299.0 187.0,300.3 189.0,302.6C191.0,304.9 192.4,309.0 192.6,312.0C192.8,315.0 195.8,319.0 190.2,320.4C184.7,321.8 164.9,322.2 159.4,320.4C153.9,318.6 157.2,312.7 157.0,309.8C156.8,306.8 156.6,304.4 158.2,302.6Z" fill="#808080" stroke="#444" stroke-width="1" stroke-opacity="0.8"/>
<path fill="#555" opacity=".45" d="M182.4 303.2A1.4 0.9 6 1 0 179.5 302.9A1.4 0.9 6 1 0 182.4 303.2ZM173.2 306.4A2.7 1.7 152 1 0 178.0 303.8A2.7 1.7 152 1 0 173.2 306.4ZM183.5 316.3A1.6 0.8 17 1 0 180.5 315.4A1.6 0.8 17 1 0 183.5 316.3ZM160.3 311.3A2.3 2.1 90 1 0 160.3 306.8A2.3 2.1 90 1 0 160.3 311.3ZM176.0 321.0A1.3 0.9 42 1 0 174.1 319.3A1.3 0.9 42 1 0 176.0 321.0ZM162.6 318.7A3.1 2.0 49 1 0 158.5 314.1A3.1 2.0 49 1 0 162.6 318.7ZM166.8 320.0A2.8 1.7 74 1 0 165.2 314.6A2.8 1.7 74 1 0 166.8 320.0ZM172.2 308.8A1.2 0.7 167 1 0 174.6 308.2A1.2 0.7 167 1 0 172.2 308.8ZM159.9 303.2A1.7 0.9 163 1 0 163.2 302.2A1.7 0.9 163 1 0 159.9 303.2ZM189.9 309.8A2.8 1.7 65 1 0 187.5 304.6A2.8 1.7 65 1 0 189.9 309.8ZM157.5 313.0A1.4 1.1 153 1 0 159.9 311.7A1.4 1.1 153 1 0 157.5 313.0ZM160.3 320.9A2.2 2.0 118 1 0 162.3 317.0A2.2 2.0 118 1 0 160.3 320.9Z"/><path fill="#555" opacity=".3" d="M171.0 319.7A3.2 2.7 16 1 0 165.0 317.9A3.2 2.7 16 1 0 171.0 319.7ZM162.7 320.3A1.5 1.4 140 1 0 165.1 318.3A1.5 1.4 140 1 0 162.7 320.3ZM186.7 308.6A1.5 1.2 175 1 0 189.6 308.4A1.5 1.2 175 1 0 186.7 308.6ZM165.4 319.8A2.4 2.3 30 1 0 161.2 317.4A2.4 2.3 30 1 0 165.4 319.8ZM163.7 306.6A2.2 1.2 148 1 0 167.4 304.3A2.2 1.2 148 1 0 163.7 306.6ZM183.8 314.8A2.1 1.4 142 1 0 187.1 312.2A2.1 1.4 142 1 0 183.8 314.8ZM170.6 312.2A2.2 1.3 110 1 0 172.1 308.1A2.2 1.3 110 1 0 170.6 312.2ZM175.7 321.1A2.0 1.8 155 1 0 179.4 319.4A2.0 1.8 155 1 0 175.7 321.1ZM166.2 300.4A1.8 1.2 153 1 0 169.4 298.8A1.8 1.2 153 1 0 166.2 300.4ZM173.6 319.8A1.3 1.2 126 1 0 175.1 317.7A1.3 1.2 126 1 0 173.6 319.8Z"/><path fill="#aaa" opacity=".3" d="M169.7 307.1A1.3 0.9 113 1 0 170.8 304.7A1.3 0.9 113 1 0 169.7 307.1ZM176.8 313.8A2.2 1.8 86 1 0 176.5 309.5A2.2 1.8 86 1 0 176.8 313.8ZM171.4 320.6A2.7 1.3 9 1 0 166.1 319.8A2.7 1.3 9 1 0 171.4 320.6ZM180.6 318.6A1.5 0.9 81 1 0 180.1 315.6A1.5 0.9 81 1 0 180.6 318.6Z"/><path fill="#2a2a2a" opacity=".85" d="M160.6 317.9A1.2 0.9 132 1 0 162.2 316.0A1.2 0.9 132 1 0 160.6 317.9ZM190.8 309.5A1.1 0.9 80 1 0 190.4 307.3A1.1 0.9 80 1 0 190.8 309.5Z"/><path fill="#2a2a2a" opacity=".6" d="M163.1 314.5A1.5 1.4 82 1 0 162.7 311.6A1.5 1.4 82 1 0 163.1 314.5Z"/>
<path d="M102.0,296.0C102.5,293.0 104.3,293.9 104.8,297.0C105.2,300.1 105.2,311.5 104.8,314.5C104.3,317.5 102.5,318.1 102.0,315.0C101.5,311.9 101.5,299.0 102.0,296.0Z" fill="#777777" stroke="#444" stroke-width="1" stroke-opacity="0.8"/>
<path fill="#aaa" opacity=".45" d="M102.3 304.1A1.9 1.4 170 1 0 106.0 303.5A1.9 1.4 170 1 0 102.3 304.1Z"/>
<g fill="#2c2c2c" opacity="0.8"><circle cx="122.6" cy="274.1" r="1.9"/><circle cx="133.3" cy="281.3" r="1.4"/><circle cx="126.1" cy="287.2" r="1.2"/><circle cx="129.7" cy="300.3" r="1.2"/><circle cx="114.3" cy="283.6" r="1.0"/><circle cx="140.4" cy="276.5" r="1.0"/><circle cx="168.9" cy="271.8" r="1.7"/><circle cx="162.9" cy="264.6" r="1.4"/><circle cx="171.3" cy="281.3" r="1.4"/><circle cx="176.0" cy="283.6" r="1.2"/><circle cx="157.0" cy="262.3" r="1.0"/><circle cx="160.6" cy="274.1" r="1.2"/><circle cx="178.4" cy="306.2" r="1.4"/><circle cx="173.6" cy="312.1" r="1.2"/></g>
<g fill="#ececec" opacity="0.95"><ellipse cx="114.3" cy="277.7" rx="2.9" ry="1.9" transform="rotate(20 114.3 277.7)"/><ellipse cx="126.1" cy="281.3" rx="1.4" ry="1.2" transform="rotate(0 126.1 281.3)"/><ellipse cx="135.6" cy="286.0" rx="2.9" ry="1.9" transform="rotate(0 135.6 286.0)"/><ellipse cx="143.9" cy="283.6" rx="1.9" ry="2.9" transform="rotate(0 143.9 283.6)"/><ellipse cx="135.6" cy="294.3" rx="4.0" ry="3.3" transform="rotate(0 135.6 294.3)"/><ellipse cx="124.9" cy="294.3" rx="2.4" ry="1.9" transform="rotate(0 124.9 294.3)"/><ellipse cx="121.4" cy="305.0" rx="4.3" ry="2.4" transform="rotate(10 121.4 305.0)"/><ellipse cx="145.1" cy="294.3" rx="1.4" ry="1.2" transform="rotate(0 145.1 294.3)"/><ellipse cx="132.1" cy="272.9" rx="1.9" ry="1.2" transform="rotate(0 132.1 272.9)"/><ellipse cx="116.6" cy="289.6" rx="1.2" ry="1.2" transform="rotate(0 116.6 289.6)"/><ellipse cx="138.0" cy="303.8" rx="2.4" ry="1.4" transform="rotate(0 138.0 303.8)"/><ellipse cx="117.8" cy="296.7" rx="1.0" ry="1.4" transform="rotate(0 117.8 296.7)"/><ellipse cx="171.3" cy="305.0" rx="1.4" ry="1.0" transform="rotate(0 171.3 305.0)"/><ellipse cx="185.5" cy="305.0" rx="1.2" ry="1.9" transform="rotate(0 185.5 305.0)"/><ellipse cx="178.4" cy="310.2" rx="1.9" ry="1.2" transform="rotate(0 178.4 310.2)"/><ellipse cx="189.1" cy="310.9" rx="1.2" ry="1.4" transform="rotate(0 189.1 310.9)"/></g>
</g>
<path d="M12.2,85.2H29.9" stroke="#555" stroke-width="1.1"/>
<text font-family="Liberation Sans, sans-serif" font-size="7.4" x="12.8" y="83.6" fill="#1a1a1a" stroke="#1a1a1a" stroke-width="0.2">2 µm</text>
<rect x="70.5" y="83.0" width="28.8" height="6.0" fill="#fff"/>
<text font-family="Liberation Sans, sans-serif" font-size="7.4" x="74.0" y="88.8" fill="#111" stroke="#111" stroke-width="0.2" textLength="21.5" lengthAdjust="spacingAndGlyphs">8000×</text>
<path d="M103.0,85.4H131.0" stroke="#cfcfcf" stroke-width="1.1"/>
<text font-family="Liberation Sans, sans-serif" font-size="7.4" x="112.6" y="83.6" fill="#f4f4f4" stroke="#f4f4f4" stroke-width="0.2">2 µm</text>
<rect x="165.6" y="82.6" width="28.6" height="6.4" fill="#fff"/>
<text font-family="Liberation Sans, sans-serif" font-size="7.4" x="169.4" y="89.2" fill="#111" stroke="#111" stroke-width="0.2" textLength="21.6" lengthAdjust="spacingAndGlyphs">8000×</text>
<rect x="12.0" y="150.5" width="21.0" height="6.0" fill="#f2f2f2"/>
<path d="M12.2,158.4H33.0" stroke="#555" stroke-width="1.1"/>
<text font-family="Liberation Sans, sans-serif" font-size="7.4" x="15.6" y="155.7" fill="#1a1a1a" stroke="#1a1a1a" stroke-width="0.2">1 µm</text>
<rect x="65.8" y="155.7" width="33.5" height="7.3" fill="#fff"/>
<text font-family="Liberation Sans, sans-serif" font-size="7.4" x="69.2" y="162.6" fill="#111" stroke="#111" stroke-width="0.2" textLength="26.2" lengthAdjust="spacingAndGlyphs">20000×</text>
<path d="M107.2,158.4H128.7" stroke="#555" stroke-width="1.1"/>
<text font-family="Liberation Sans, sans-serif" font-size="7.4" x="109.8" y="155.7" fill="#1a1a1a" stroke="#1a1a1a" stroke-width="0.2">1 µm</text>
<rect x="159.8" y="155.7" width="34.4" height="7.3" fill="#fff"/>
<text font-family="Liberation Sans, sans-serif" font-size="7.4" x="164.5" y="162.5" fill="#111" stroke="#111" stroke-width="0.2" textLength="25.7" lengthAdjust="spacingAndGlyphs">20000×</text>
<path d="M12.2,241.9H29.8" stroke="#555" stroke-width="1.1"/>
<text font-family="Liberation Sans, sans-serif" font-size="7.4" x="12.8" y="239.6" fill="#1a1a1a" stroke="#1a1a1a" stroke-width="0.2">2 µm</text>
<rect x="67.7" y="240.1" width="31.6" height="6.8" fill="#fff"/>
<text font-family="Liberation Sans, sans-serif" font-size="7.4" x="74.2" y="246.5" fill="#111" stroke="#111" stroke-width="0.2" textLength="21.6" lengthAdjust="spacingAndGlyphs">8000×</text>
<path d="M107.2,242.2H124.5" stroke="#555" stroke-width="1.1"/>
<text font-family="Liberation Sans, sans-serif" font-size="7.4" x="107.8" y="239.6" fill="#1a1a1a" stroke="#1a1a1a" stroke-width="0.2">2 µm</text>
<rect x="165.2" y="239.7" width="29.0" height="7.2" fill="#fff"/>
<text font-family="Liberation Sans, sans-serif" font-size="7.4" x="169.8" y="246.5" fill="#111" stroke="#111" stroke-width="0.2" textLength="22.0" lengthAdjust="spacingAndGlyphs">8000×</text>
<rect x="14.5" y="308.2" width="17.3" height="6.2" fill="#f2f2f2"/>
<path d="M11.8,316.2H36.8" stroke="#555" stroke-width="1.1"/>
<text font-family="Liberation Sans, sans-serif" font-size="7.4" x="15.6" y="313.6" fill="#1a1a1a" stroke="#1a1a1a" stroke-width="0.2">1 µm</text>
<rect x="63.5" y="308.2" width="34.2" height="10.4" fill="#fff"/>
<text font-family="Liberation Sans, sans-serif" font-size="7.4" x="68.8" y="316.3" fill="#111" stroke="#111" stroke-width="0.2" textLength="26.2" lengthAdjust="spacingAndGlyphs">20000×</text>
<path d="M107.2,316.3H127.5" stroke="#555" stroke-width="1.1"/>
<text font-family="Liberation Sans, sans-serif" font-size="7.4" x="110.2" y="313.6" fill="#1a1a1a" stroke="#1a1a1a" stroke-width="0.2">1 µm</text>
<rect x="163.3" y="314.0" width="30.9" height="7.0" fill="#fff"/>
<text font-family="Liberation Sans, sans-serif" font-size="7.4" x="165.6" y="320.5" fill="#111" stroke="#111" stroke-width="0.2" textLength="26.2" lengthAdjust="spacingAndGlyphs">20000×</text>
<text font-family="Liberation Sans, sans-serif" font-size="11" font-weight="bold" x="6.3" y="14.8" fill="#000" stroke="#000" stroke-width="0.35">A</text>
<text font-family="Liberation Sans, sans-serif" font-size="11" font-weight="bold" x="205.8" y="14.9" fill="#000" stroke="#000" stroke-width="0.35">B</text>
<text font-family="Liberation Sans, sans-serif" font-size="9.9" x="87.1" y="15" fill="#111" stroke="#111" stroke-width="0.25" textLength="31.1" lengthAdjust="spacingAndGlyphs">Carriers</text>
<text font-family="Liberation Sans, sans-serif" font-size="9.6" x="14.8" y="173.2" fill="#111" stroke="#111" stroke-width="0.25" textLength="81.2" lengthAdjust="spacingAndGlyphs">Case 10 -non carrier-</text>
<text font-family="Liberation Sans, sans-serif" font-size="9.6" x="140.7" y="173.1" fill="#111" stroke="#111" stroke-width="0.25" textLength="27.9" lengthAdjust="spacingAndGlyphs">Control</text>
<clipPath id="c1"><rect x="235.60" y="46.85" width="125" height="95"/></clipPath>
<g clip-path="url(#c1)" fill="none" stroke-width="1.35" stroke-linejoin="round" stroke-linecap="round">
<path d="M235.60,55.10 C236.13,57.07 236.67,58.73 237.20,61.00 C237.67,62.99 238.13,65.67 238.60,68.00 C239.13,70.67 239.67,73.43 240.20,76.00 C240.70,78.41 241.20,80.87 241.70,83.00 C242.17,84.99 242.63,86.34 243.10,88.50 C243.47,90.20 243.83,92.55 244.20,94.60 C244.57,96.65 244.93,99.26 245.30,100.80 C245.87,103.18 246.43,104.96 247.00,106.30 C247.73,108.03 248.47,109.20 249.20,110.30 C250.30,111.94 251.40,113.36 252.50,114.40 C253.97,115.79 255.43,116.82 256.90,117.70 C258.37,118.58 259.83,119.30 261.30,119.90 C262.87,120.54 264.43,120.95 266.00,121.50 C268.80,122.49 271.60,123.61 274.40,124.60 C276.27,125.26 278.13,126.15 280.00,126.50 C282.67,127.00 285.33,127.19 288.00,127.50 C291.47,127.91 294.93,128.31 298.40,128.65 C303.43,129.15 308.47,130.00 313.50,130.00 C316.33,130.00 319.17,129.51 322.00,129.20 C324.77,128.90 327.53,128.15 330.30,128.15 C333.67,128.15 337.03,129.20 340.40,129.20 C344.77,129.20 349.13,128.07 353.50,127.50" stroke="#d3324f"/>
<path d="M235.60,55.10 C236.67,56.40 237.73,57.60 238.80,59.00 C239.90,60.44 241.00,61.60 242.10,63.70 C243.10,65.61 244.10,69.69 245.10,72.20 C246.20,74.96 247.30,77.55 248.40,79.60 C249.53,81.71 250.67,83.50 251.80,85.00 C253.63,87.43 255.47,89.27 257.30,91.10 C259.33,93.13 261.37,95.31 263.40,96.60 C265.43,97.89 267.47,98.90 269.50,99.60 C271.93,100.44 274.37,101.25 276.80,101.50 C281.20,101.96 285.60,102.13 290.00,102.30 C293.93,102.46 297.87,102.60 301.80,102.65 C319.03,102.87 336.27,102.88 353.50,103.00" stroke="#7a4b92"/>
<path d="M235.60,55.10 C236.67,56.40 237.73,57.60 238.80,59.00 C239.90,60.44 241.00,61.60 242.10,63.70 C243.10,65.61 244.10,69.63 245.10,72.20 C246.13,74.86 247.17,77.10 248.20,79.50 C249.00,81.36 249.80,83.42 250.60,85.00 C252.03,87.84 253.47,90.23 254.90,92.30 C256.53,94.65 258.17,96.58 259.80,98.40 C261.83,100.66 263.87,102.82 265.90,104.50 C267.93,106.18 269.97,107.48 272.00,108.80 C274.00,110.10 276.00,111.58 278.00,112.40 C280.03,113.23 282.07,114.12 284.10,114.30 C286.07,114.47 288.03,114.50 290.00,114.60 C293.93,114.80 297.87,114.98 301.80,115.20 C309.07,115.61 316.33,116.47 323.60,116.60 C333.57,116.78 343.53,116.80 353.50,116.90" stroke="#44b852"/>
<path d="M235.60,55.10 C236.97,56.73 238.33,58.21 239.70,60.00 C240.97,61.66 242.23,63.68 243.50,65.50 C245.07,67.75 246.63,70.34 248.20,72.20 C250.23,74.61 252.27,76.84 254.30,78.30 C256.33,79.76 258.37,81.08 260.40,81.70 C262.83,82.44 265.27,82.61 267.70,83.20 C269.73,83.70 271.77,84.47 273.80,85.00 C276.43,85.68 279.07,86.33 281.70,86.80 C284.47,87.29 287.23,87.61 290.00,88.00 C291.70,88.24 293.40,88.44 295.10,88.70 C299.57,89.39 304.03,91.20 308.50,91.20 C311.87,91.20 315.23,90.30 318.60,89.90 C322.50,89.43 326.40,88.60 330.30,88.60 C334.20,88.60 338.10,88.92 342.00,89.20 C345.83,89.48 349.67,90.13 353.50,90.60" stroke="#2a669c"/>
</g>
<path d="M232.60,46.55H357.90 M235.60,43.55V135.35 M259.20,43.55V46.55 M282.80,43.55V46.55 M306.40,43.55V46.55 M330.00,43.55V46.55 M353.60,43.55V46.55 M232.60,62.80H235.60 M232.60,79.05H235.60 M232.60,95.30H235.60 M232.60,111.55H235.60 M232.60,127.80H235.60" stroke="#111" stroke-width="1.1" fill="none"/>
<g font-family="Liberation Sans, sans-serif" font-size="7.5" fill="#111" stroke="#111" stroke-width="0.15"><text x="235.60" y="40.95" text-anchor="middle">0</text><text x="259.20" y="40.95" text-anchor="middle">1</text><text x="282.80" y="40.95" text-anchor="middle">2</text><text x="306.40" y="40.95" text-anchor="middle">3</text><text x="330.00" y="40.95" text-anchor="middle">4</text><text x="353.60" y="40.95" text-anchor="middle">5</text><text x="229.80" y="49.25" text-anchor="end">−10</text><text x="229.80" y="65.50" text-anchor="end">10</text><text x="229.80" y="81.75" text-anchor="end">30</text><text x="229.80" y="98.00" text-anchor="end">50</text><text x="229.80" y="114.25" text-anchor="end">70</text><text x="229.80" y="130.50" text-anchor="end">90</text></g>
<text font-family="Liberation Sans, sans-serif" font-size="9.4" fill="#111" stroke="#111" stroke-width="0.3" x="280.70" y="29.05" textLength="31.2" lengthAdjust="spacingAndGlyphs">Time (min)</text>
<text font-family="Liberation Sans, sans-serif" font-size="8.5" fill="#111" stroke="#111" stroke-width="0.3" transform="translate(213.60,124.55) rotate(-90)" textLength="67.6" lengthAdjust="spacingAndGlyphs">Platelet aggregation (%)</text>
<text font-family="Liberation Sans, sans-serif" font-size="7.4" fill="#111" stroke="#111" stroke-width="0.15" x="238.10" y="137.55" textLength="81.4" lengthAdjust="spacingAndGlyphs">Arachidonic acid 1.5 mM</text>
<g font-family="Liberation Sans, sans-serif" font-size="7.3" fill="#111" stroke="#111" stroke-width="0.15"><path d="M254.20,146.65H263.00" stroke="#2a669c" stroke-width="1.5"/><text x="266.40" y="149.40">Case #3</text><path d="M299.20,146.65H308.00" stroke="#44b852" stroke-width="1.5"/><text x="311.40" y="149.40">Case #6</text><path d="M254.20,156.85H263.00" stroke="#7a4b92" stroke-width="1.5"/><text x="266.40" y="159.25">Case #7</text><path d="M299.20,156.85H308.00" stroke="#d3324f" stroke-width="1.5"/><text x="311.40" y="159.25">Control</text></g>
<clipPath id="c2"><rect x="391.40" y="46.85" width="125" height="95"/></clipPath>
<g clip-path="url(#c2)" fill="none" stroke-width="1.35" stroke-linejoin="round" stroke-linecap="round">
<path d="M391.40,54.75 C394.27,54.70 397.13,54.60 400.00,54.60 C402.33,54.60 404.67,54.67 407.00,54.75 C409.00,54.82 411.00,55.05 413.00,55.40 C414.67,55.70 416.33,56.74 418.00,57.60 C419.83,58.55 421.67,59.97 423.50,61.10 C426.00,62.65 428.50,64.23 431.00,65.60 C433.50,66.97 436.00,68.27 438.50,69.40 C442.67,71.28 446.83,72.17 451.00,74.40 C454.83,76.45 458.67,81.22 462.50,83.60 C466.67,86.18 470.83,87.71 475.00,89.90 C479.17,92.09 483.33,94.27 487.50,96.75 C490.42,98.49 493.33,100.98 496.25,102.40 C498.33,103.42 500.42,104.30 502.50,104.90 C504.92,105.59 507.33,105.97 509.75,106.50" stroke="#44b852"/>
<path d="M391.40,54.75 C393.77,54.63 396.13,54.40 398.50,54.40 C401.42,54.40 404.33,54.58 407.25,54.75 C410.17,54.92 413.08,55.44 416.00,55.60 C418.50,55.74 421.00,55.76 423.50,55.90 C426.00,56.04 428.50,56.25 431.00,56.60 C433.50,56.95 436.00,57.95 438.50,58.75 C440.58,59.42 442.67,60.28 444.75,61.00 C446.83,61.72 448.92,62.82 451.00,63.10 C454.83,63.62 458.67,63.55 462.50,64.00 C466.67,64.48 470.83,65.70 475.00,66.90 C478.33,67.86 481.67,69.40 485.00,70.60 C489.17,72.10 493.33,73.44 497.50,75.00 C501.47,76.48 505.43,78.17 509.40,79.75" stroke="#2a669c"/>
<path d="M391.40,53.75 C393.13,53.13 394.87,51.90 396.60,51.90 C398.07,51.90 399.53,52.99 401.00,54.00 C403.08,55.43 405.17,59.53 407.25,62.50 C409.75,66.06 412.25,70.30 414.75,73.75 C416.63,76.35 418.52,78.85 420.40,81.00 C421.43,82.18 422.47,83.28 423.50,84.25 C426.00,86.61 428.50,88.78 431.00,90.50 C433.50,92.22 436.00,93.78 438.50,94.90 C442.67,96.76 446.83,98.34 451.00,99.25 C454.83,100.09 458.67,100.28 462.50,101.10 C465.83,101.82 469.17,104.25 472.50,104.25 C476.67,104.25 480.83,104.25 485.00,104.25 C488.33,104.25 491.67,107.00 495.00,107.00 C499.92,107.00 504.83,107.00 509.75,107.00" stroke="#7a4b92"/>
<path d="M391.40,53.00 C392.17,51.90 392.93,50.79 393.70,49.70 C394.53,48.52 395.37,47.24 396.20,46.20 C397.30,44.82 398.40,42.50 399.50,42.50 C400.67,42.50 401.83,44.24 403.00,46.00 C403.53,46.80 404.07,48.73 404.60,50.00 C405.27,51.58 405.93,52.96 406.60,54.50 C408.07,57.88 409.53,61.35 411.00,65.00 C412.67,69.14 414.33,74.26 416.00,78.00 C417.25,80.81 418.50,82.81 419.75,85.50 C421.00,88.19 422.25,91.56 423.50,94.25 C424.75,96.94 426.00,100.21 427.25,101.75 C428.92,103.81 430.58,104.90 432.25,106.10 C434.33,107.60 436.42,108.87 438.50,109.90 C442.67,111.96 446.83,113.17 451.00,114.90 C454.00,116.14 457.00,118.03 460.00,118.75 C463.33,119.55 466.67,119.88 470.00,120.40 C473.33,120.92 476.67,121.38 480.00,121.90 C483.33,122.42 486.67,123.21 490.00,123.50 C493.33,123.79 496.67,124.10 500.00,124.10 C502.70,124.10 505.40,124.03 508.10,124.00" stroke="#d3324f"/>
</g>
<path d="M388.40,46.55H513.70 M391.40,43.55V135.35 M415.00,43.55V46.55 M438.60,43.55V46.55 M462.20,43.55V46.55 M485.80,43.55V46.55 M509.40,43.55V46.55 M388.40,62.80H391.40 M388.40,79.05H391.40 M388.40,95.30H391.40 M388.40,111.55H391.40 M388.40,127.80H391.40" stroke="#111" stroke-width="1.1" fill="none"/>
<g font-family="Liberation Sans, sans-serif" font-size="7.5" fill="#111" stroke="#111" stroke-width="0.15"><text x="391.40" y="40.95" text-anchor="middle">0</text><text x="415.00" y="40.95" text-anchor="middle">1</text><text x="438.60" y="40.95" text-anchor="middle">2</text><text x="462.20" y="40.95" text-anchor="middle">3</text><text x="485.80" y="40.95" text-anchor="middle">4</text><text x="509.40" y="40.95" text-anchor="middle">5</text><text x="385.60" y="49.25" text-anchor="end">−10</text><text x="385.60" y="65.50" text-anchor="end">10</text><text x="385.60" y="81.75" text-anchor="end">30</text><text x="385.60" y="98.00" text-anchor="end">50</text><text x="385.60" y="114.25" text-anchor="end">70</text><text x="385.60" y="130.50" text-anchor="end">90</text></g>
<text font-family="Liberation Sans, sans-serif" font-size="9.4" fill="#111" stroke="#111" stroke-width="0.3" x="436.50" y="30.80" textLength="31.2" lengthAdjust="spacingAndGlyphs">Time (min)</text>
<text font-family="Liberation Sans, sans-serif" font-size="8.5" fill="#111" stroke="#111" stroke-width="0.3" transform="translate(369.40,124.55) rotate(-90)" textLength="67.6" lengthAdjust="spacingAndGlyphs">Platelet aggregation (%)</text>
<text font-family="Liberation Sans, sans-serif" font-size="7.4" fill="#111" stroke="#111" stroke-width="0.15" x="394.00" y="134.45" textLength="33.9" lengthAdjust="spacingAndGlyphs">CRP 2µM</text>
<g font-family="Liberation Sans, sans-serif" font-size="7.3" fill="#111" stroke="#111" stroke-width="0.15"><path d="M410.00,146.65H418.80" stroke="#2a669c" stroke-width="1.5"/><text x="422.20" y="149.40">Case #3</text><path d="M455.00,146.65H463.80" stroke="#44b852" stroke-width="1.5"/><text x="467.20" y="149.40">Case #6</text><path d="M410.00,156.85H418.80" stroke="#7a4b92" stroke-width="1.5"/><text x="422.20" y="159.25">Case #7</text><path d="M455.00,156.85H463.80" stroke="#d3324f" stroke-width="1.5"/><text x="467.20" y="159.25">Control</text></g>
<clipPath id="c3"><rect x="235.60" y="206.85" width="125" height="95"/></clipPath>
<g clip-path="url(#c3)" fill="none" stroke-width="1.35" stroke-linejoin="round" stroke-linecap="round">
<path d="M235.60,214.80 C236.93,215.47 238.27,215.75 239.60,216.80 C240.33,217.38 241.07,218.54 241.80,220.10 C242.33,221.24 242.87,223.82 243.40,225.60 C243.97,227.49 244.53,229.32 245.10,231.10 C245.63,232.78 246.17,234.68 246.70,236.00 C247.27,237.40 247.83,238.36 248.40,239.50 C249.17,241.04 249.93,242.58 250.70,244.00 C252.50,247.34 254.30,250.90 256.10,253.40 C257.43,255.25 258.77,257.09 260.10,258.10 C261.47,259.14 262.83,259.79 264.20,260.40 C267.77,262.00 271.33,262.98 274.90,264.20 C278.93,265.58 282.97,266.89 287.00,268.20 C290.13,269.22 293.27,270.54 296.40,271.20 C299.10,271.77 301.80,272.09 304.50,272.50 C308.67,273.13 312.83,273.71 317.00,274.25 C321.17,274.79 325.33,275.53 329.50,275.75 C337.53,276.17 345.57,276.25 353.60,276.50" stroke="#d3324f"/>
<path d="M235.60,214.80 C236.00,216.00 236.40,217.21 236.80,218.40 C237.37,220.08 237.93,221.70 238.50,223.40 C239.03,225.00 239.57,227.09 240.10,228.30 C240.83,229.97 241.57,231.27 242.30,232.20 C243.23,233.38 244.17,233.72 245.10,234.90 C245.83,235.83 246.57,237.32 247.30,238.80 C248.23,240.68 249.17,243.20 250.10,245.40 C251.43,248.54 252.77,251.74 254.10,254.80 C255.20,257.32 256.30,260.79 257.40,262.20 C258.77,263.95 260.13,265.15 261.50,265.80 C262.83,266.43 264.17,266.73 265.50,267.10 C268.63,267.97 271.77,268.71 274.90,269.30 C278.93,270.06 282.97,270.84 287.00,271.20 C291.33,271.59 295.67,271.85 300.00,272.00 C305.67,272.20 311.33,272.25 317.00,272.40 C323.25,272.57 329.50,272.84 335.75,273.00 C341.70,273.16 347.65,273.27 353.60,273.40" stroke="#44b852"/>
<path d="M235.60,214.80 C236.93,214.80 238.27,214.80 239.60,214.80 C241.07,214.80 242.53,213.50 244.00,213.50 C244.90,213.50 245.80,213.74 246.70,214.00 C248.00,214.38 249.30,216.11 250.60,217.30 C252.07,218.64 253.53,220.07 255.00,221.70 C256.47,223.33 257.93,225.30 259.40,227.20 C260.50,228.62 261.60,230.01 262.70,231.60 C263.63,232.95 264.57,234.69 265.50,236.00 C267.30,238.53 269.10,240.56 270.90,242.70 C272.67,244.80 274.43,246.87 276.20,248.75 C278.47,251.16 280.73,254.38 283.00,255.50 C285.23,256.60 287.47,257.06 289.70,257.70 C291.80,258.30 293.90,258.89 296.00,259.30 C298.83,259.85 301.67,260.14 304.50,260.60 C308.67,261.27 312.83,262.75 317.00,262.75 C320.33,262.75 323.67,262.27 327.00,262.00 C329.92,261.77 332.83,261.25 335.75,261.25 C338.67,261.25 341.58,261.39 344.50,261.50 C347.53,261.61 350.57,261.83 353.60,262.00" stroke="#7a4b92"/>
<path d="M235.60,214.80 C236.93,215.47 238.27,215.75 239.60,216.80 C240.33,217.38 241.07,218.85 241.80,220.10 C242.90,221.97 244.00,224.70 245.10,226.70 C246.20,228.70 247.30,230.62 248.40,232.20 C249.87,234.31 251.33,235.83 252.80,237.70 C253.90,239.10 255.00,240.86 256.10,242.00 C257.43,243.38 258.77,244.70 260.10,245.40 C262.33,246.57 264.57,247.20 266.80,247.80 C269.93,248.65 273.07,249.39 276.20,249.80 C279.80,250.27 283.40,250.50 287.00,250.80 C291.33,251.17 295.67,251.45 300.00,251.80 C305.67,252.26 311.33,252.83 317.00,253.25 C323.25,253.72 329.50,254.07 335.75,254.50 C341.70,254.91 347.65,255.33 353.60,255.75" stroke="#2a669c"/>
</g>
<path d="M232.60,206.55H357.90 M235.60,203.55V295.35 M259.20,203.55V206.55 M282.80,203.55V206.55 M306.40,203.55V206.55 M330.00,203.55V206.55 M353.60,203.55V206.55 M232.60,222.80H235.60 M232.60,239.05H235.60 M232.60,255.30H235.60 M232.60,271.55H235.60 M232.60,287.80H235.60" stroke="#111" stroke-width="1.1" fill="none"/>
<g font-family="Liberation Sans, sans-serif" font-size="7.5" fill="#111" stroke="#111" stroke-width="0.15"><text x="235.60" y="200.95" text-anchor="middle">0</text><text x="259.20" y="200.95" text-anchor="middle">1</text><text x="282.80" y="200.95" text-anchor="middle">2</text><text x="306.40" y="200.95" text-anchor="middle">3</text><text x="330.00" y="200.95" text-anchor="middle">4</text><text x="353.60" y="200.95" text-anchor="middle">5</text><text x="229.80" y="209.25" text-anchor="end">−10</text><text x="229.80" y="225.50" text-anchor="end">10</text><text x="229.80" y="241.75" text-anchor="end">30</text><text x="229.80" y="258.00" text-anchor="end">50</text><text x="229.80" y="274.25" text-anchor="end">70</text><text x="229.80" y="290.50" text-anchor="end">90</text></g>
<text font-family="Liberation Sans, sans-serif" font-size="9.4" fill="#111" stroke="#111" stroke-width="0.3" x="280.70" y="188.80" textLength="31.2" lengthAdjust="spacingAndGlyphs">Time (min)</text>
<text font-family="Liberation Sans, sans-serif" font-size="8.5" fill="#111" stroke="#111" stroke-width="0.3" transform="translate(213.60,284.55) rotate(-90)" textLength="67.6" lengthAdjust="spacingAndGlyphs">Platelet aggregation (%)</text>
<text font-family="Liberation Sans, sans-serif" font-size="7.4" fill="#111" stroke="#111" stroke-width="0.15" x="238.10" y="294.45" textLength="32.5" lengthAdjust="spacingAndGlyphs">ADP 5µM</text>
<g font-family="Liberation Sans, sans-serif" font-size="7.3" fill="#111" stroke="#111" stroke-width="0.15"><path d="M254.20,304.40H263.00" stroke="#2a669c" stroke-width="1.5"/><text x="266.40" y="307.15">Case #3</text><path d="M299.20,304.40H308.00" stroke="#44b852" stroke-width="1.5"/><text x="311.40" y="307.15">Case #6</text><path d="M254.20,314.40H263.00" stroke="#7a4b92" stroke-width="1.5"/><text x="266.40" y="316.80">Case #7</text><path d="M299.20,314.40H308.00" stroke="#d3324f" stroke-width="1.5"/><text x="311.40" y="316.80">Control</text></g>
<clipPath id="c4"><rect x="391.40" y="206.85" width="125" height="95"/></clipPath>
<g clip-path="url(#c4)" fill="none" stroke-width="1.35" stroke-linejoin="round" stroke-linecap="round">
<path d="M391.40,215.60 C391.90,218.10 392.40,221.09 392.90,223.10 C393.73,226.45 394.57,228.29 395.40,231.25 C396.23,234.21 397.07,238.27 397.90,241.00 C398.67,243.51 399.43,244.75 400.20,247.50 C400.60,248.93 401.00,251.65 401.40,253.00 C401.93,254.80 402.47,256.23 403.00,257.20 C403.73,258.54 404.47,259.46 405.20,260.20 C406.13,261.14 407.07,261.71 408.00,262.40 C409.00,263.14 410.00,263.91 411.00,264.50 C412.67,265.49 414.33,266.62 416.00,267.00 C416.83,267.19 417.67,267.35 418.50,267.40 C422.25,267.63 426.00,267.60 429.75,267.75 C433.92,267.91 438.08,268.11 442.25,268.40 C445.17,268.60 448.08,268.99 451.00,269.25 C455.67,269.67 460.33,269.97 465.00,270.40 C471.33,270.98 477.67,272.40 484.00,272.40 C488.00,272.40 492.00,271.60 496.00,271.60 C500.47,271.60 504.93,272.07 509.40,272.30" stroke="#44b852"/>
<path d="M391.40,215.60 C391.73,218.10 392.07,221.28 392.40,223.10 C393.07,226.74 393.73,227.87 394.40,231.25 C394.90,233.78 395.40,238.24 395.90,241.00 C396.57,244.69 397.23,246.77 397.90,250.50 C398.52,253.95 399.13,260.39 399.75,263.00 C400.58,266.53 401.42,268.92 402.25,270.50 C403.50,272.87 404.75,274.56 406.00,275.50 C408.08,277.07 410.17,277.86 412.25,278.60 C413.58,279.08 414.92,279.48 416.25,279.75 C419.17,280.33 422.08,280.52 425.00,281.00 C429.17,281.69 433.33,283.22 437.50,283.50 C441.67,283.78 445.83,283.83 450.00,284.00 C455.00,284.20 460.00,284.35 465.00,284.60 C468.33,284.77 471.67,285.03 475.00,285.25 C486.47,286.00 497.93,286.75 509.40,287.50" stroke="#7a4b92"/>
<path d="M391.40,215.60 C392.52,217.90 393.63,219.57 394.75,222.50 C395.58,224.69 396.42,228.18 397.25,231.25 C398.08,234.32 398.92,236.45 399.75,241.00 C400.03,242.55 400.32,245.77 400.60,247.50 C400.97,249.74 401.33,251.66 401.70,253.00 C402.20,254.82 402.70,256.22 403.20,257.20 C403.90,258.58 404.60,259.56 405.30,260.30 C406.20,261.26 407.10,261.82 408.00,262.50 C409.00,263.25 410.00,263.98 411.00,264.60 C412.67,265.63 414.33,266.41 416.00,267.30 C418.50,268.64 421.00,270.57 423.50,271.30 C427.67,272.52 431.83,272.95 436.00,273.70 C441.00,274.59 446.00,275.61 451.00,276.20 C459.00,277.14 467.00,277.91 475.00,278.30 C486.47,278.85 497.93,279.03 509.40,279.40" stroke="#d3324f"/>
<path d="M391.40,215.60 C391.90,218.10 392.40,221.09 392.90,223.10 C393.73,226.45 394.57,228.29 395.40,231.25 C396.23,234.21 397.07,238.27 397.90,241.00 C398.67,243.51 399.43,244.75 400.20,247.50 C400.60,248.93 401.00,251.65 401.40,253.00 C401.93,254.80 402.47,256.23 403.00,257.20 C403.73,258.54 404.47,259.46 405.20,260.20 C406.13,261.14 407.07,261.71 408.00,262.40 C409.00,263.14 410.00,263.91 411.00,264.50 C412.67,265.49 414.33,266.17 416.00,267.00 C418.50,268.25 421.00,270.06 423.50,270.75 C427.67,271.90 431.83,272.29 436.00,273.00 C441.00,273.85 446.00,274.82 451.00,275.40 C459.00,276.33 467.00,276.92 475.00,277.50 C479.17,277.80 483.33,278.23 487.50,278.30 C494.80,278.43 502.10,278.43 509.40,278.50" stroke="#2a669c"/>
</g>
<path d="M388.40,206.55H513.70 M391.40,203.55V295.35 M415.00,203.55V206.55 M438.60,203.55V206.55 M462.20,203.55V206.55 M485.80,203.55V206.55 M509.40,203.55V206.55 M388.40,222.80H391.40 M388.40,239.05H391.40 M388.40,255.30H391.40 M388.40,271.55H391.40 M388.40,287.80H391.40" stroke="#111" stroke-width="1.1" fill="none"/>
<g font-family="Liberation Sans, sans-serif" font-size="7.5" fill="#111" stroke="#111" stroke-width="0.15"><text x="391.40" y="200.95" text-anchor="middle">0</text><text x="415.00" y="200.95" text-anchor="middle">1</text><text x="438.60" y="200.95" text-anchor="middle">2</text><text x="462.20" y="200.95" text-anchor="middle">3</text><text x="485.80" y="200.95" text-anchor="middle">4</text><text x="509.40" y="200.95" text-anchor="middle">5</text><text x="385.60" y="209.25" text-anchor="end">−10</text><text x="385.60" y="225.50" text-anchor="end">10</text><text x="385.60" y="241.75" text-anchor="end">30</text><text x="385.60" y="258.00" text-anchor="end">50</text><text x="385.60" y="274.25" text-anchor="end">70</text><text x="385.60" y="290.50" text-anchor="end">90</text></g>
<text font-family="Liberation Sans, sans-serif" font-size="9.4" fill="#111" stroke="#111" stroke-width="0.3" x="436.50" y="190.80" textLength="31.2" lengthAdjust="spacingAndGlyphs">Time (min)</text>
<text font-family="Liberation Sans, sans-serif" font-size="8.5" fill="#111" stroke="#111" stroke-width="0.3" transform="translate(369.40,284.55) rotate(-90)" textLength="67.6" lengthAdjust="spacingAndGlyphs">Platelet aggregation (%)</text>
<text font-family="Liberation Sans, sans-serif" font-size="7.4" fill="#111" stroke="#111" stroke-width="0.15" x="399.75" y="294.05" textLength="40.2" lengthAdjust="spacingAndGlyphs">TRAP 25µM</text>
<g font-family="Liberation Sans, sans-serif" font-size="7.3" fill="#111" stroke="#111" stroke-width="0.15"><path d="M410.00,304.40H418.80" stroke="#2a669c" stroke-width="1.5"/><text x="422.20" y="307.15">Case #3</text><path d="M455.00,304.40H463.80" stroke="#44b852" stroke-width="1.5"/><text x="467.20" y="307.15">Case #6</text><path d="M410.00,314.40H418.80" stroke="#7a4b92" stroke-width="1.5"/><text x="422.20" y="316.80">Case #7</text><path d="M455.00,314.40H463.80" stroke="#d3324f" stroke-width="1.5"/><text x="467.20" y="316.80">Control</text></g>
<rect x="0.5" y="0.5" width="519" height="327" fill="none" stroke="#000" stroke-width="1"/>
</svg>
</body></html>
